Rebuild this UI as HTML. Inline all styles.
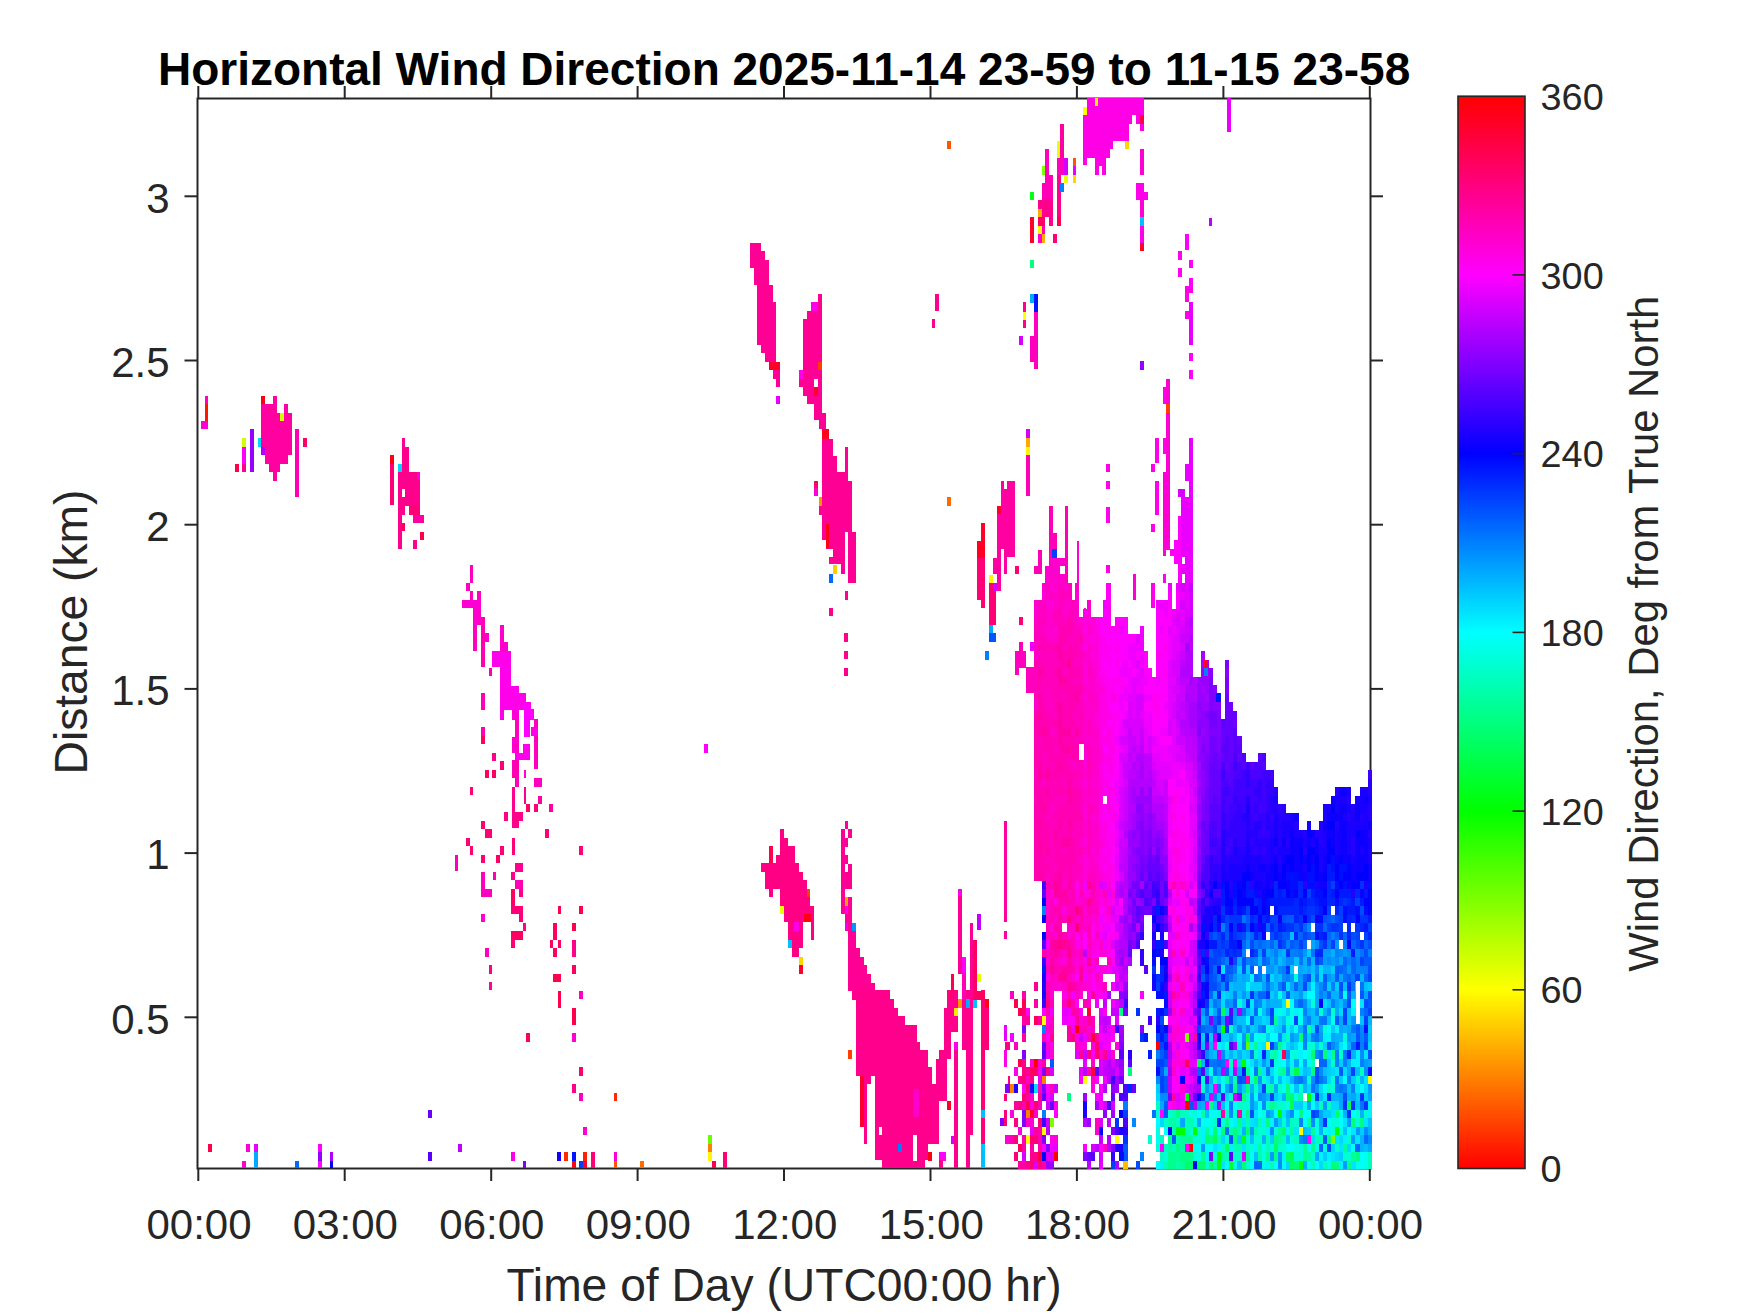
<!DOCTYPE html>
<html><head><meta charset="utf-8"><style>
html,body{margin:0;padding:0;background:#fff;}
svg{display:block;}
text{font-family:"Liberation Sans",Arial,sans-serif;fill:#262626;}
.tk{font-size:42px;}
.lb{font-size:46.2px;}
.ttl{font-size:46px;font-weight:bold;fill:#000;}
.cbt{font-size:37.8px;}
.cbl{font-size:41.8px;}
</style></head><body>
<svg width="1750" height="1313" viewBox="0 0 1750 1313">
<defs><linearGradient id="hsv" x1="0" y1="1" x2="0" y2="0">
<stop offset="0" stop-color="#ff0000"/><stop offset="0.16667" stop-color="#ffff00"/><stop offset="0.33333" stop-color="#00ff00"/><stop offset="0.5" stop-color="#00ffff"/><stop offset="0.66667" stop-color="#0000ff"/><stop offset="0.83333" stop-color="#ff00ff"/><stop offset="1" stop-color="#ff0000"/>
</linearGradient></defs>
<rect width="1750" height="1313" fill="#fff"/>
<rect x="197.5" y="98.5" width="1173.0" height="1070.0" fill="none" stroke="#262626" stroke-width="2"/>
<line x1="198.3" y1="1168.5" x2="198.3" y2="1181" stroke="#262626" stroke-width="2"/>
<line x1="198.3" y1="98.5" x2="198.3" y2="86" stroke="#262626" stroke-width="2"/>
<text x="199.0" y="1238.7" class="tk" text-anchor="middle">00:00</text>
<line x1="344.7" y1="1168.5" x2="344.7" y2="1181" stroke="#262626" stroke-width="2"/>
<line x1="344.7" y1="98.5" x2="344.7" y2="86" stroke="#262626" stroke-width="2"/>
<text x="345.4" y="1238.7" class="tk" text-anchor="middle">03:00</text>
<line x1="491.2" y1="1168.5" x2="491.2" y2="1181" stroke="#262626" stroke-width="2"/>
<line x1="491.2" y1="98.5" x2="491.2" y2="86" stroke="#262626" stroke-width="2"/>
<text x="491.9" y="1238.7" class="tk" text-anchor="middle">06:00</text>
<line x1="637.6" y1="1168.5" x2="637.6" y2="1181" stroke="#262626" stroke-width="2"/>
<line x1="637.6" y1="98.5" x2="637.6" y2="86" stroke="#262626" stroke-width="2"/>
<text x="638.3" y="1238.7" class="tk" text-anchor="middle">09:00</text>
<line x1="784.0" y1="1168.5" x2="784.0" y2="1181" stroke="#262626" stroke-width="2"/>
<line x1="784.0" y1="98.5" x2="784.0" y2="86" stroke="#262626" stroke-width="2"/>
<text x="784.8" y="1238.7" class="tk" text-anchor="middle">12:00</text>
<line x1="930.5" y1="1168.5" x2="930.5" y2="1181" stroke="#262626" stroke-width="2"/>
<line x1="930.5" y1="98.5" x2="930.5" y2="86" stroke="#262626" stroke-width="2"/>
<text x="931.2" y="1238.7" class="tk" text-anchor="middle">15:00</text>
<line x1="1076.9" y1="1168.5" x2="1076.9" y2="1181" stroke="#262626" stroke-width="2"/>
<line x1="1076.9" y1="98.5" x2="1076.9" y2="86" stroke="#262626" stroke-width="2"/>
<text x="1077.6" y="1238.7" class="tk" text-anchor="middle">18:00</text>
<line x1="1223.4" y1="1168.5" x2="1223.4" y2="1181" stroke="#262626" stroke-width="2"/>
<line x1="1223.4" y1="98.5" x2="1223.4" y2="86" stroke="#262626" stroke-width="2"/>
<text x="1224.1" y="1238.7" class="tk" text-anchor="middle">21:00</text>
<line x1="1369.8" y1="1168.5" x2="1369.8" y2="1181" stroke="#262626" stroke-width="2"/>
<line x1="1369.8" y1="98.5" x2="1369.8" y2="86" stroke="#262626" stroke-width="2"/>
<text x="1370.5" y="1238.7" class="tk" text-anchor="middle">00:00</text>
<line x1="184.5" y1="1017.3" x2="197.5" y2="1017.3" stroke="#262626" stroke-width="2"/>
<line x1="1370.5" y1="1017.3" x2="1383" y2="1017.3" stroke="#262626" stroke-width="2"/>
<text x="169.6" y="1033.5" class="tk" text-anchor="end">0.5</text>
<line x1="184.5" y1="853.1" x2="197.5" y2="853.1" stroke="#262626" stroke-width="2"/>
<line x1="1370.5" y1="853.1" x2="1383" y2="853.1" stroke="#262626" stroke-width="2"/>
<text x="169.6" y="869.3" class="tk" text-anchor="end">1</text>
<line x1="184.5" y1="688.9" x2="197.5" y2="688.9" stroke="#262626" stroke-width="2"/>
<line x1="1370.5" y1="688.9" x2="1383" y2="688.9" stroke="#262626" stroke-width="2"/>
<text x="169.6" y="705.1" class="tk" text-anchor="end">1.5</text>
<line x1="184.5" y1="524.7" x2="197.5" y2="524.7" stroke="#262626" stroke-width="2"/>
<line x1="1370.5" y1="524.7" x2="1383" y2="524.7" stroke="#262626" stroke-width="2"/>
<text x="169.6" y="540.9" class="tk" text-anchor="end">2</text>
<line x1="184.5" y1="360.5" x2="197.5" y2="360.5" stroke="#262626" stroke-width="2"/>
<line x1="1370.5" y1="360.5" x2="1383" y2="360.5" stroke="#262626" stroke-width="2"/>
<text x="169.6" y="376.7" class="tk" text-anchor="end">2.5</text>
<line x1="184.5" y1="196.3" x2="197.5" y2="196.3" stroke="#262626" stroke-width="2"/>
<line x1="1370.5" y1="196.3" x2="1383" y2="196.3" stroke="#262626" stroke-width="2"/>
<text x="169.6" y="212.5" class="tk" text-anchor="end">3</text>
<g shape-rendering="crispEdges">
<rect x="204.9" y="396.1" width="3" height="8.1" fill="#ff00bf"/>
<rect x="204.9" y="404.3" width="3" height="16.3" fill="#ff1500"/>
<rect x="200.9" y="420.6" width="6.9" height="7.9" fill="#ff00d4"/>
<rect x="235.1" y="464" width="4" height="7.9" fill="#ff004d"/>
<rect x="242" y="438.2" width="4" height="9.1" fill="#d4ff00"/>
<rect x="242" y="447.3" width="4" height="16.6" fill="#ff00ff"/>
<rect x="242" y="464" width="4" height="7.9" fill="#ff008c"/>
<rect x="250" y="429" width="4" height="42.9" fill="#9500ff"/>
<rect x="257.9" y="438.2" width="3.3" height="8.6" fill="#00d4ff"/>
<polygon points="261.1,396.1 264.8,396.1 264.8,404.3 273.2,404.3 273.2,396.1 277,396.1 277,413.2 283.9,413.2 283.9,404.3 287.9,404.3 287.9,413.2 291.5,413.2 291.5,454.8 287.9,454.8 287.9,463.7 280,463.7 280,471.9 277,471.9 277,480.8 273.2,480.8 273.2,471.9 269.1,471.9 269.1,463.7 265.1,463.7 265.1,454.8 261.1,454.8" fill="#ff00a1"/>
<rect x="261.1" y="396.1" width="3.7" height="8.1" fill="#ff0015"/>
<rect x="280.1" y="413.2" width="3.8" height="7.4" fill="#d4ff00"/>
<rect x="261.1" y="446.8" width="3.7" height="7.9" fill="#aa00ff"/>
<rect x="295.2" y="429" width="3.8" height="67.8" fill="#ff00b7"/>
<rect x="303.1" y="438.2" width="3.8" height="8.6" fill="#ff0062"/>
<rect x="390.1" y="455.2" width="3.9" height="8.5" fill="#ff0015"/>
<rect x="390.1" y="463.7" width="3.9" height="41.6" fill="#ff0077"/>
<rect x="397.9" y="463.7" width="4.1" height="8.5" fill="#00d4ff"/>
<rect x="402" y="438.1" width="3" height="34.1" fill="#ff008c"/>
<rect x="405" y="447.2" width="3.9" height="25.1" fill="#ff008c"/>
<rect x="397.9" y="472.3" width="21.7" height="33.6" fill="#ff008c"/>
<rect x="402" y="488.8" width="3" height="8" fill="#fff"/>
<rect x="416.9" y="472.3" width="2.7" height="7.5" fill="#ff00d4"/>
<rect x="397.9" y="505.9" width="4.1" height="42.7" fill="#ff008c"/>
<rect x="402" y="505.9" width="3" height="9.1" fill="#ff008c"/>
<rect x="402" y="522.9" width="3" height="8.5" fill="#ff0062"/>
<rect x="408.9" y="505.9" width="10.7" height="9.1" fill="#ff0077"/>
<rect x="413.2" y="514.9" width="10.7" height="8" fill="#ff00a1"/>
<rect x="420.1" y="532" width="3.7" height="7.5" fill="#ff004d"/>
<rect x="413.2" y="540" width="3.7" height="8.5" fill="#ff008c"/>
<rect x="470.1" y="565.1" width="2.9" height="17.6" fill="#ff00bf"/>
<rect x="466.1" y="582.9" width="4" height="7.9" fill="#ff00bf"/>
<rect x="470.1" y="590.8" width="2.9" height="8.8" fill="#ff00bf"/>
<rect x="477.4" y="590.8" width="3.4" height="8.8" fill="#ff00bf"/>
<rect x="461.9" y="599.6" width="18.9" height="8.2" fill="#ff00d4"/>
<rect x="473" y="607.8" width="7.8" height="17" fill="#ff00cc"/>
<rect x="473" y="624.8" width="4" height="25.8" fill="#ff00bf"/>
<rect x="480.8" y="617.2" width="4.1" height="49.7" fill="#ff00b3"/>
<rect x="484.9" y="632.9" width="3.8" height="8.8" fill="#ff00cc"/>
<rect x="489" y="668.1" width="3.1" height="7.5" fill="#ff00b3"/>
<rect x="500.3" y="624.8" width="3.8" height="95.3" fill="#ff00cc"/>
<rect x="504.1" y="641.7" width="4" height="9.4" fill="#ff00cc"/>
<rect x="492.1" y="651.2" width="18.9" height="15.7" fill="#ff00ea"/>
<rect x="500.3" y="666.9" width="10.7" height="42.7" fill="#ff00ea"/>
<rect x="511" y="685.7" width="7.9" height="23.9" fill="#ff00ea"/>
<rect x="518.9" y="693.3" width="7.2" height="16.3" fill="#ff00ea"/>
<rect x="526.1" y="702.1" width="4.4" height="18" fill="#ff00ea"/>
<rect x="530.5" y="710.2" width="3.5" height="9.8" fill="#ff00ea"/>
<rect x="480.8" y="693.3" width="4.1" height="16.3" fill="#ff00b3"/>
<rect x="511.6" y="709.6" width="7.3" height="10.4" fill="#ff00ea"/>
<rect x="523.5" y="709.6" width="2.5" height="10.4" fill="#ff00ea"/>
<rect x="480.8" y="700" width="4.1" height="9.4" fill="#ff00b7"/>
<rect x="500.3" y="700" width="25.8" height="9.4" fill="#ff00ea"/>
<rect x="500.3" y="709.4" width="3.8" height="9.4" fill="#ff00ea"/>
<rect x="511.6" y="709.4" width="7.3" height="9.4" fill="#ff00d4"/>
<rect x="515.4" y="718.9" width="3.5" height="17.6" fill="#ff00bf"/>
<rect x="511.6" y="736.5" width="7.3" height="16.3" fill="#ff00cc"/>
<rect x="523.5" y="702.5" width="6.9" height="16.3" fill="#ff00ff"/>
<rect x="526.1" y="709.4" width="7.5" height="9.4" fill="#ff00ff"/>
<rect x="523.5" y="718.9" width="6.9" height="17.6" fill="#ff00ff"/>
<rect x="534" y="718.9" width="4" height="50.3" fill="#ff00bf"/>
<rect x="530.5" y="727" width="7.5" height="9.4" fill="#ff00ea"/>
<rect x="522.9" y="744" width="6.9" height="16.3" fill="#ff00ea"/>
<rect x="515.4" y="752.8" width="14.5" height="7.5" fill="#ff00ea"/>
<rect x="511.6" y="760.3" width="7.3" height="17.6" fill="#ff00b3"/>
<rect x="515.4" y="777.9" width="3.5" height="8.8" fill="#ff00b7"/>
<rect x="523.5" y="769.8" width="2.5" height="8.2" fill="#ff00d4"/>
<rect x="534" y="777.9" width="7.8" height="8.8" fill="#ff00bf"/>
<rect x="511.6" y="786.7" width="3.8" height="41.5" fill="#ff008c"/>
<rect x="511.6" y="811.9" width="11.3" height="8.8" fill="#ff008c"/>
<rect x="511.6" y="820.7" width="7.3" height="7.5" fill="#ff008c"/>
<rect x="523.5" y="786.7" width="2.5" height="17" fill="#ff008c"/>
<rect x="526.1" y="803.7" width="3.8" height="8.2" fill="#ff0062"/>
<rect x="534" y="803.7" width="4" height="8.2" fill="#ff0077"/>
<rect x="538" y="795.5" width="3.8" height="8.2" fill="#ff00a1"/>
<rect x="549.3" y="803.7" width="3.8" height="8.2" fill="#ff00a1"/>
<rect x="470.1" y="786.7" width="2.9" height="8.2" fill="#ff0077"/>
<rect x="480.8" y="727" width="4.1" height="8.8" fill="#ff00b7"/>
<rect x="480.8" y="735.8" width="4.1" height="8.2" fill="#ff0062"/>
<rect x="492.1" y="752.8" width="3.8" height="8.2" fill="#ff008c"/>
<rect x="500.3" y="761" width="3.8" height="8.8" fill="#ff0077"/>
<rect x="485.2" y="769.8" width="3.5" height="8.2" fill="#ff0062"/>
<rect x="492.1" y="769.8" width="3.8" height="8.2" fill="#ff0062"/>
<rect x="504.1" y="811.9" width="4" height="8.8" fill="#ff008c"/>
<rect x="480.8" y="820.7" width="4.1" height="8.2" fill="#ff0077"/>
<rect x="485.2" y="828.8" width="6.9" height="8.8" fill="#ff0077"/>
<rect x="544.9" y="828.8" width="3.8" height="8.8" fill="#ff0077"/>
<rect x="466.1" y="837.6" width="4" height="8.2" fill="#ff0077"/>
<rect x="470.1" y="845.8" width="2.9" height="8.8" fill="#ff0077"/>
<rect x="511.6" y="837.6" width="3.8" height="17" fill="#ff0077"/>
<rect x="500.3" y="845.8" width="3.8" height="8.8" fill="#ff0077"/>
<rect x="496.3" y="854.6" width="4" height="8.2" fill="#ff0062"/>
<rect x="480.8" y="854.6" width="4.1" height="8.2" fill="#ff0077"/>
<rect x="455" y="854.6" width="3.1" height="10.4" fill="#ff00b7"/>
<rect x="515.4" y="862.8" width="7.5" height="2.3" fill="#ff0077"/>
<rect x="455.2" y="860" width="2.7" height="11.2" fill="#ff00b7"/>
<rect x="515.2" y="863.2" width="7.7" height="8.3" fill="#ff008c"/>
<rect x="481.3" y="872" width="3.5" height="24.8" fill="#ff00bf"/>
<rect x="484.8" y="888.8" width="7.2" height="8" fill="#ff00bf"/>
<rect x="492.5" y="872" width="3.5" height="8" fill="#ff00b7"/>
<rect x="511.2" y="872" width="3.7" height="8" fill="#ff008c"/>
<rect x="515.2" y="880" width="7.7" height="8.8" fill="#ff00b7"/>
<rect x="519.2" y="888.8" width="3.7" height="8" fill="#ff008c"/>
<rect x="511.2" y="888.8" width="3.7" height="25.6" fill="#ff0062"/>
<rect x="511.2" y="906.4" width="11.7" height="8" fill="#ff0077"/>
<rect x="519.2" y="914.4" width="3.7" height="8" fill="#ff0077"/>
<rect x="522.9" y="923.2" width="3.2" height="8" fill="#ff008c"/>
<rect x="511.2" y="931.2" width="11.7" height="8.8" fill="#ff0062"/>
<rect x="511.2" y="940" width="3.7" height="8" fill="#ff0077"/>
<rect x="481.3" y="914.4" width="3.5" height="8" fill="#ff00d4"/>
<rect x="485.1" y="948" width="3.7" height="8.8" fill="#ff00bf"/>
<rect x="489.3" y="964.8" width="2.7" height="8.8" fill="#ff008c"/>
<rect x="489.3" y="982.4" width="2.7" height="8" fill="#ff00a1"/>
<rect x="557.6" y="906.4" width="3.2" height="8" fill="#ff004d"/>
<rect x="579.2" y="906.4" width="3.5" height="8" fill="#ff004d"/>
<rect x="553.3" y="923.2" width="3.5" height="16.8" fill="#ff0062"/>
<rect x="549.6" y="940" width="3.7" height="8" fill="#ff0062"/>
<rect x="557.6" y="940" width="3.2" height="8" fill="#ff0062"/>
<rect x="553.3" y="948" width="3.5" height="8.8" fill="#ff0062"/>
<rect x="572.2" y="923.2" width="3.8" height="8" fill="#ff004d"/>
<rect x="572.2" y="940" width="3.8" height="16.8" fill="#ff008c"/>
<rect x="572.2" y="964.8" width="3.8" height="8.8" fill="#ff0062"/>
<rect x="553.3" y="973.9" width="7.5" height="8.5" fill="#ff004d"/>
<rect x="557.6" y="991.2" width="3.2" height="16.3" fill="#ff004d"/>
<rect x="579.2" y="991.2" width="3.5" height="7.7" fill="#ff00bf"/>
<rect x="572.2" y="1008" width="3.8" height="16.8" fill="#ff004d"/>
<rect x="526.4" y="1032.8" width="3.5" height="8.8" fill="#ff0062"/>
<rect x="572.2" y="1032.8" width="3.8" height="8.8" fill="#ff00d4"/>
<rect x="579.2" y="1067.2" width="3.5" height="2.9" fill="#ff0062"/>
<rect x="208.1" y="1143.9" width="3.7" height="8" fill="#ff004d"/>
<rect x="246.2" y="1143.9" width="3.7" height="8" fill="#ff00d4"/>
<rect x="254.2" y="1143.9" width="3.7" height="8" fill="#ea00ff"/>
<rect x="254.2" y="1151.9" width="3.7" height="16.5" fill="#00aaff"/>
<rect x="242.2" y="1160.9" width="3.7" height="7.5" fill="#ff00d4"/>
<rect x="295" y="1160.9" width="3.7" height="7.5" fill="#006aff"/>
<rect x="318.2" y="1143.9" width="3.7" height="8" fill="#ff00ff"/>
<rect x="318.2" y="1151.9" width="3.7" height="9" fill="#9500ff"/>
<rect x="318.2" y="1160.9" width="3.7" height="7.5" fill="#ff00ff"/>
<rect x="329.9" y="1151.9" width="3" height="9" fill="#aa00ff"/>
<rect x="329.9" y="1160.9" width="3" height="7.5" fill="#0000ff"/>
<rect x="427.8" y="1110" width="4" height="7.7" fill="#6a00ff"/>
<rect x="427.8" y="1151.9" width="4" height="9" fill="#5500ff"/>
<rect x="458.2" y="1143.9" width="3.7" height="8" fill="#bf00ff"/>
<rect x="579.1" y="1070" width="3.7" height="5.6" fill="#ff0077"/>
<rect x="572.1" y="1084.1" width="3.8" height="8.6" fill="#ff008c"/>
<rect x="579.1" y="1093.2" width="3.7" height="7.5" fill="#ff00bf"/>
<rect x="613.7" y="1093.2" width="3.2" height="7.5" fill="#ff2a00"/>
<rect x="583" y="1126.8" width="3.8" height="8" fill="#ff00d4"/>
<rect x="511.3" y="1151.9" width="3.5" height="9" fill="#ff00ea"/>
<rect x="522.8" y="1160.9" width="3.2" height="7.5" fill="#8000ff"/>
<rect x="557.2" y="1151.9" width="3.7" height="9" fill="#1500ff"/>
<rect x="564.1" y="1151.9" width="3.8" height="9" fill="#ff2a00"/>
<rect x="572.1" y="1151.9" width="3.8" height="9" fill="#0015ff"/>
<rect x="572.1" y="1160.9" width="3.8" height="7.5" fill="#ff0015"/>
<rect x="579.1" y="1160.9" width="3.7" height="7.5" fill="#0040ff"/>
<rect x="583" y="1151.9" width="3.8" height="9" fill="#ff2200"/>
<rect x="583" y="1160.9" width="3.8" height="7.5" fill="#ff002b"/>
<rect x="591.1" y="1151.9" width="3.7" height="16.5" fill="#ff0077"/>
<rect x="613.7" y="1151.9" width="3.2" height="9" fill="#ff00d4"/>
<rect x="613.7" y="1160.9" width="3.2" height="7.5" fill="#ff5500"/>
<rect x="640.1" y="1160.9" width="3.8" height="7.5" fill="#ff6a00"/>
<rect x="708.1" y="1135.3" width="3.8" height="8.6" fill="#6aff00"/>
<rect x="708.1" y="1143.9" width="3.8" height="8" fill="#ff8000"/>
<rect x="708.1" y="1151.9" width="3.8" height="9" fill="#fff700"/>
<rect x="711.9" y="1160.9" width="4" height="7.5" fill="#ff004d"/>
<rect x="723.3" y="1151.9" width="3.8" height="16.5" fill="#ff0077"/>
<polygon points="750.1,243.2 760.8,243.2 760.8,251.2 765.1,251.2 765.1,260.1 768.9,260.1 768.9,285 773.1,285 773.1,302.3 775.9,302.3 775.9,362.5 779.7,362.5 779.7,386.8 776.3,386.8 776.3,378.7 773.1,378.7 773.1,370.2 769.3,370.2 769.3,361.8 765.4,361.8 765.4,352.6 761.4,352.6 761.4,344.6 757.2,344.6 757.2,285 754.1,285 754.1,267.7 750.1,267.7" fill="#ff0095"/>
<rect x="769.3" y="361.8" width="10.4" height="8.5" fill="#ff002b"/>
<rect x="776.3" y="395.8" width="3.4" height="7.9" fill="#ea00ff"/>
<polygon points="803.1,319.2 807.3,319.2 807.3,311.1 811.1,311.1 811.1,302.3 818.2,302.3 818.2,294.2 821.7,294.2 821.7,413.2 825.6,413.2 825.6,419.9 813.9,419.9 813.9,403.7 807.3,403.7 807.3,395.6 803.1,395.6 803.1,386.8 799.2,386.8 799.2,369.9 803.1,369.9" fill="#ff0095"/>
<rect x="811.1" y="302.3" width="7" height="8.7" fill="#ff00ea"/>
<rect x="818.2" y="361.8" width="3.5" height="8.2" fill="#ff4000"/>
<rect x="799.2" y="369.9" width="3.9" height="8.7" fill="#ff00ea"/>
<rect x="813.9" y="378.7" width="4.2" height="8.5" fill="#fff"/>
<rect x="813.9" y="387.1" width="4.2" height="8.5" fill="#ff002b"/>
<polygon points="814.3,410 822,410 822,413.2 825.5,413.2 825.5,429.2 828.7,429.2 828.7,438.5 832.9,438.5 832.9,455.6 836.7,455.6 836.7,472.1 845.2,472.1 845.2,447.1 847.9,447.1 847.9,481.2 851.6,481.2 851.6,531.9 855.6,531.9 855.6,582.8 847.9,582.8 847.9,531.9 845.2,531.9 845.2,573.5 841.2,573.5 841.2,564.4 829.2,564.4 829.2,556.9 832.9,556.9 832.9,549.2 826,549.2 826,539.6 822,539.6 822,514.8 818.5,514.8 818.5,497.2 822,497.2 822,428.9 818.5,428.9 818.5,420.4 814.3,420.4" fill="#ff0095"/>
<rect x="822" y="429.2" width="6.7" height="9.3" fill="#ff0022"/>
<rect x="826" y="523.6" width="3.2" height="24.8" fill="#ff0015"/>
<rect x="814.3" y="481.2" width="3.7" height="7.2" fill="#ff0062"/>
<rect x="814.3" y="488.4" width="3.7" height="8" fill="#ff00d4"/>
<rect x="818.5" y="497.2" width="3.5" height="8.5" fill="#ff9500"/>
<rect x="832.9" y="565.2" width="4.3" height="8.3" fill="#ffcc00"/>
<rect x="829.2" y="574" width="3.7" height="8.8" fill="#006aff"/>
<rect x="845.2" y="591.1" width="2.7" height="8.5" fill="#ff008c"/>
<rect x="829.2" y="608.4" width="3.7" height="8" fill="#ff008c"/>
<polygon points="780.2,829.1 783.9,829.1 783.9,838 787.6,838 787.6,846.2 794.5,846.2 794.5,863.3 798.8,863.3 798.8,872.2 802.7,872.2 802.7,880.4 806.7,880.4 806.7,889.3 810.4,889.3 810.4,906.3 813.7,906.3 813.7,939.5 811,939.5 811,922.4 802.7,922.4 802.7,947.8 798.8,947.8 798.8,956.6 792.1,956.6 792.1,947.8 787.8,947.8 787.8,922.4 784.1,922.4 784.1,913.9 780.2,913.9 780.2,888.9 772.9,888.9 772.9,896.8 769.3,896.8 769.3,888.9 765.2,888.9 765.2,871.8 761.2,871.8 761.2,863.3 769.3,863.3 769.3,846.2 772.9,846.2 772.9,863.3 776.2,863.3 776.2,855.4 780.2,855.4" fill="#ff0084"/>
<rect x="769.3" y="846.2" width="3.7" height="17.1" fill="#ff004d"/>
<rect x="806.7" y="889.3" width="3.7" height="7.6" fill="#ff4000"/>
<rect x="780.2" y="906" width="3.7" height="7.9" fill="#eaff00"/>
<rect x="803.7" y="913.9" width="7.3" height="8.5" fill="#ff0015"/>
<rect x="793.9" y="922.4" width="5.5" height="8.5" fill="#ff00ea"/>
<rect x="788" y="940.1" width="4" height="7.7" fill="#00bfff"/>
<rect x="799.4" y="957.2" width="3.7" height="7.9" fill="#ffd400"/>
<rect x="799.4" y="965.1" width="3.7" height="8.8" fill="#ff0033"/>
<rect x="841.3" y="829.1" width="3.9" height="84.5" fill="#ff0095"/>
<rect x="845.2" y="820.9" width="2.8" height="8.2" fill="#ff0095"/>
<rect x="848" y="829.1" width="3.8" height="8.5" fill="#ff0095"/>
<rect x="845.2" y="837.5" width="2.8" height="9.2" fill="#ff0095"/>
<rect x="845.2" y="855.1" width="2.8" height="8.5" fill="#ff0095"/>
<rect x="845.2" y="872" width="6.6" height="16.9" fill="#ff0095"/>
<rect x="848" y="863.6" width="3.8" height="8.5" fill="#ff0095"/>
<rect x="845.2" y="896.7" width="6.6" height="33.8" fill="#ff0095"/>
<rect x="845.2" y="897.4" width="2.8" height="8.5" fill="#ffa200"/>
<rect x="845.2" y="905.8" width="2.8" height="7.7" fill="#ff00ff"/>
<rect x="845.2" y="922.7" width="2.8" height="7.7" fill="#ea00ff"/>
<rect x="851.8" y="923.2" width="3.8" height="8" fill="#0095ff"/>
<polygon points="848,930.5 855.6,930.5 855.6,948.1 859.9,948.1 859.9,957.3 863.8,957.3 863.8,965.4 867.3,965.4 867.3,974.2 871.1,974.2 871.1,982.6 875.1,982.6 875.1,991.1 889.9,991.1 889.9,999.9 852.3,999.9 852.3,991.1 848,991.1" fill="#ff0095"/>
<polygon points="852,990 890,990 890,999.2 893.8,999.2 893.8,1008 897.7,1008 897.7,1016.1 905.1,1016.1 905.1,1025.2 916.8,1025.2 916.8,1042.1 920.3,1042.1 920.3,1050.3 928,1050.3 928,1067.2 932.3,1067.2 932.3,1083.7 935.5,1083.7 935.5,1059 939.3,1059 939.3,1050.3 943.5,1050.3 943.5,1008 947,1008 947,990 953.8,990 953.8,1032.3 951.3,1032.3 951.3,1059 947,1059 947,1101.3 939.3,1101.3 939.3,1143.5 928,1143.5 928,1160.4 924.5,1160.4 924.5,1167.7 882.3,1167.7 882.3,1160.4 875.2,1160.4 875.2,1075.9 870.7,1075.9 870.7,1083.7 866.8,1083.7 866.8,1143.5 863.9,1143.5 863.9,1126.6 860.4,1126.6 860.4,1075.9 856.2,1075.9 856.2,999.2 852,999.2" fill="#ff008c"/>
<rect x="860.4" y="1075.9" width="3.5" height="50.7" fill="#ff002b"/>
<rect x="878.7" y="1126.6" width="3.2" height="8.5" fill="#fff"/>
<rect x="913.2" y="1135.1" width="3.9" height="25.4" fill="#fff"/>
<rect x="897.7" y="1144.2" width="3.9" height="7.7" fill="#0080ff"/>
<rect x="913.2" y="1088.6" width="5.6" height="28.2" fill="#ff00cc"/>
<rect x="953.8" y="990" width="4.5" height="177.7" fill="#ff008c"/>
<rect x="954.4" y="1008" width="3.9" height="8" fill="#ffea00"/>
<rect x="953.8" y="1032.3" width="4.5" height="9.9" fill="#fff"/>
<rect x="953.8" y="1042.1" width="4.5" height="7.7" fill="#ff00ea"/>
<rect x="958.3" y="999.2" width="3.9" height="8.9" fill="#ff9500"/>
<rect x="962.3" y="990" width="10.8" height="59.9" fill="#ff008c"/>
<rect x="966.1" y="1049.9" width="3.5" height="117.9" fill="#ff008c"/>
<rect x="969.6" y="1049.9" width="3.5" height="85.2" fill="#ff008c"/>
<rect x="966.1" y="999.2" width="3.5" height="8.9" fill="#00aaff"/>
<rect x="973.1" y="999.2" width="3.5" height="8.9" fill="#00bfff"/>
<rect x="981.3" y="990" width="3.8" height="177.7" fill="#ff0077"/>
<rect x="981.3" y="1109.7" width="3.8" height="8.5" fill="#00bfff"/>
<rect x="981.3" y="1144.2" width="3.8" height="23.5" fill="#00bfff"/>
<rect x="985.1" y="999.2" width="3.9" height="50.7" fill="#ff0077"/>
<rect x="985.1" y="999.2" width="3.9" height="8.9" fill="#ff0015"/>
<rect x="1004.1" y="1025.2" width="2.8" height="16.2" fill="#ea00ff"/>
<rect x="1004.1" y="1049.9" width="2.8" height="16.9" fill="#ff00ea"/>
<rect x="1007.6" y="1075.9" width="2.4" height="7.7" fill="#ff0077"/>
<rect x="1004.1" y="1093.5" width="2.8" height="7" fill="#ff0077"/>
<rect x="1004.1" y="1110.4" width="2.8" height="15.5" fill="#ff0077"/>
<rect x="1000.3" y="1118.2" width="3.8" height="7.7" fill="#8000ff"/>
<rect x="928" y="1152" width="3.5" height="8.5" fill="#ff0015"/>
<rect x="939.3" y="1152" width="7" height="8.5" fill="#ff00ff"/>
<rect x="939.3" y="1160.4" width="3.5" height="7.3" fill="#ff008c"/>
<rect x="947" y="1101.3" width="4.2" height="8.5" fill="#ff0022"/>
<rect x="951.3" y="1135.8" width="2.5" height="7.7" fill="#d500ff"/>
<rect x="847.7" y="1049.9" width="4.2" height="9.2" fill="#ff4000"/>
<polygon points="1087.2,97.5 1143.8,97.5 1143.8,131.4 1140.4,131.4 1140.4,123.9 1135.9,123.9 1135.9,115.1 1131.9,115.1 1131.9,123.9 1128.7,123.9 1128.7,140.9 1113,140.9 1113,148.8 1109.9,148.8 1109.9,157.8 1105.8,157.8 1105.8,174.8 1102.3,174.8 1102.3,166 1098.5,166 1098.5,174.8 1095.2,174.8 1095.2,157.8 1086.6,157.8 1086.6,165.4 1083.2,165.4 1083.2,106.9 1087.2,106.9" fill="#ff00e6"/>
<rect x="1095.4" y="97.5" width="2.8" height="8.8" fill="#ffea00"/>
<rect x="1083.2" y="106.9" width="3.4" height="8.2" fill="#ffff00"/>
<rect x="1124.9" y="140.9" width="3.8" height="7.9" fill="#ffd400"/>
<rect x="1140.4" y="115.1" width="3.4" height="8.8" fill="#ff004d"/>
<rect x="1140.4" y="149" width="3.4" height="25.8" fill="#ff00d4"/>
<rect x="1135.9" y="183" width="7.9" height="17" fill="#ff00ea"/>
<rect x="1143.8" y="191.8" width="4.1" height="8.2" fill="#ff00ea"/>
<rect x="1140.4" y="199.9" width="3.4" height="17" fill="#ff00d4"/>
<rect x="1140.4" y="216.9" width="3.4" height="9.4" fill="#00bfff"/>
<rect x="1140.4" y="226.3" width="3.4" height="17" fill="#ff00ea"/>
<rect x="1140.4" y="243.3" width="3.4" height="7.5" fill="#ff002b"/>
<rect x="1060.2" y="123.9" width="3.5" height="33.9" fill="#ff00a1"/>
<rect x="1057.1" y="140.9" width="3.1" height="17" fill="#eaff00"/>
<rect x="1057.1" y="157.8" width="10.7" height="17" fill="#ff00bf"/>
<rect x="1064" y="157.8" width="3.8" height="17" fill="#d500ff"/>
<rect x="1064" y="174.8" width="3.8" height="8.2" fill="#eaff00"/>
<rect x="1057.1" y="174.8" width="3.4" height="50.9" fill="#ff008c"/>
<rect x="1060.2" y="183" width="3.8" height="8.8" fill="#0080ff"/>
<rect x="1057.1" y="216.9" width="3.4" height="8.8" fill="#ff004d"/>
<rect x="1072.5" y="157.8" width="3.4" height="8.2" fill="#ff5500"/>
<rect x="1072.5" y="166" width="3.4" height="8.8" fill="#ea00ff"/>
<rect x="1072.5" y="174.8" width="3.4" height="8.2" fill="#ffd400"/>
<rect x="1045.4" y="149" width="3.5" height="25.8" fill="#ff00bf"/>
<rect x="1042" y="166" width="3.1" height="8.8" fill="#80ff00"/>
<rect x="1045.4" y="174.8" width="7.5" height="8.2" fill="#ff00b7"/>
<rect x="1042" y="183" width="10.9" height="25.8" fill="#ff00b7"/>
<rect x="1038.2" y="199.9" width="14.7" height="17" fill="#ff008c"/>
<rect x="1038.2" y="208.7" width="3.8" height="8.2" fill="#ffaa00"/>
<rect x="1049.2" y="216.9" width="3.8" height="8.8" fill="#ff008c"/>
<rect x="1038.2" y="216.9" width="6.9" height="8.8" fill="#ff0062"/>
<rect x="1038.2" y="225.7" width="3.8" height="8.2" fill="#fff700"/>
<rect x="1038.2" y="233.9" width="3.8" height="8.8" fill="#ff00d4"/>
<rect x="1042" y="233.9" width="3.1" height="8.8" fill="#ffaa00"/>
<rect x="1042" y="225.7" width="3.1" height="8.2" fill="#ff00b7"/>
<rect x="1030.1" y="216.9" width="3.8" height="25.8" fill="#ff002b"/>
<rect x="1030.1" y="191.8" width="3.8" height="8.2" fill="#00ff15"/>
<rect x="1053.3" y="233.9" width="3.4" height="8.8" fill="#ff0077"/>
<rect x="1227" y="98" width="4" height="33.7" fill="#ea00ff"/>
<rect x="1208.7" y="217.5" width="3.5" height="8.2" fill="#bf00ff"/>
<rect x="1185" y="234.1" width="4" height="16.3" fill="#ff00ff"/>
<rect x="1178.3" y="250.9" width="3.7" height="8.7" fill="#ff00ea"/>
<rect x="1188.9" y="260.3" width="4.2" height="7.9" fill="#ff00ff"/>
<rect x="1178.3" y="268.3" width="3.7" height="8.7" fill="#ff00ea"/>
<rect x="1188.9" y="277.7" width="4.2" height="7.9" fill="#ff00ff"/>
<rect x="1185" y="285.6" width="8.2" height="7.4" fill="#ff00ea"/>
<rect x="1185" y="293" width="4" height="8.7" fill="#ff00ea"/>
<rect x="1188.9" y="302.4" width="4.2" height="42.1" fill="#ea00ff"/>
<rect x="1185" y="310.8" width="4" height="8.2" fill="#ff00ea"/>
<rect x="1188.9" y="352.9" width="4.2" height="8.2" fill="#ff00ff"/>
<rect x="1188.9" y="369.8" width="4.2" height="8.7" fill="#ff00ff"/>
<rect x="1139.9" y="361.1" width="4" height="8.7" fill="#9500ff"/>
<rect x="1165.9" y="379.2" width="4.2" height="40.8" fill="#ff00d4"/>
<rect x="1162.7" y="387.1" width="4" height="16.8" fill="#ff00d4"/>
<rect x="1165.9" y="403.9" width="4.2" height="9.2" fill="#ff5500"/>
<rect x="1166.2" y="380" width="4" height="170.3" fill="#ff00d4"/>
<rect x="1163.3" y="387.9" width="3" height="15.8" fill="#ff00ea"/>
<rect x="1166.2" y="403.8" width="4" height="8.9" fill="#ff4000"/>
<rect x="1163.3" y="438.4" width="3" height="15.8" fill="#ff00ea"/>
<rect x="1155.3" y="438.4" width="3.6" height="24.8" fill="#ff00ea"/>
<rect x="1151.4" y="464.2" width="3.6" height="7.9" fill="#ff00ea"/>
<rect x="1155.3" y="481" width="3.6" height="33.7" fill="#ff00ea"/>
<rect x="1151.4" y="523.6" width="3.6" height="7.9" fill="#ff00ea"/>
<rect x="1163.3" y="472.1" width="3" height="84.2" fill="#ff00d4"/>
<rect x="1170.2" y="549.3" width="6.9" height="6.9" fill="#ff00ea"/>
<rect x="1189" y="438.4" width="4" height="201.6" fill="#ea00ff"/>
<rect x="1185.4" y="464.2" width="3.6" height="16.8" fill="#ea00ff"/>
<rect x="1178.1" y="488.9" width="6.9" height="7.9" fill="#d500ff"/>
<rect x="1181.1" y="496.8" width="7.9" height="143.2" fill="#ea00ff"/>
<rect x="1178.1" y="515.6" width="3" height="124.4" fill="#ff00ff"/>
<rect x="1174.2" y="540.4" width="4" height="23.8" fill="#ff00ff"/>
<rect x="1181.5" y="557.2" width="3.6" height="6.9" fill="#fff"/>
<rect x="1181.5" y="574.1" width="3.6" height="8.9" fill="#fff"/>
<rect x="1181.5" y="590.9" width="3.6" height="8.9" fill="#fff"/>
<rect x="1105.8" y="464.2" width="4" height="7.9" fill="#ff00ea"/>
<rect x="1105.8" y="481" width="4" height="7.9" fill="#ff00ea"/>
<rect x="1105.8" y="506.7" width="4" height="15.8" fill="#ff00ea"/>
<rect x="1105.8" y="565.1" width="4" height="7.9" fill="#ff00ea"/>
<rect x="1105.8" y="583" width="4" height="16.8" fill="#ff00ea"/>
<rect x="1132.6" y="574.1" width="3.4" height="25.7" fill="#ff00d4"/>
<rect x="1151.4" y="583" width="3.6" height="24.8" fill="#ff00ea"/>
<rect x="1163.3" y="574.1" width="3" height="8.9" fill="#ff00ff"/>
<rect x="946.9" y="497.1" width="4.1" height="8.5" fill="#ff6a00"/>
<rect x="1026.2" y="429.3" width="3.7" height="9.1" fill="#d500ff"/>
<rect x="1026.2" y="438.4" width="3.7" height="8.5" fill="#ffaa00"/>
<rect x="1026.2" y="446.9" width="3.7" height="8.5" fill="#fff700"/>
<rect x="1026.2" y="455.3" width="3.7" height="41.1" fill="#ff00b7"/>
<polygon points="1000.6,481.1 1004,481.1 1004,489.1 1007.4,489.1 1007.4,481.1 1015,481.1 1015,556.6 1007.4,556.6 1007.4,573.7 1004,573.7 1004,548.6 1000.6,548.6 1000.6,590.9 996.7,590.9 996.7,573.7 992.6,573.7 992.6,557.7 996.7,557.7 996.7,506.3 1000.6,506.3" fill="#ff00a1"/>
<rect x="996.7" y="506.3" width="3.9" height="8" fill="#ff002b"/>
<rect x="981.1" y="523.4" width="3.9" height="18.3" fill="#ff002b"/>
<rect x="977" y="540.6" width="8" height="17.1" fill="#ff0022"/>
<rect x="977" y="557.7" width="8" height="42.3" fill="#ff0077"/>
<rect x="981.1" y="600" width="3.9" height="8" fill="#ff0077"/>
<rect x="989.1" y="582.9" width="6.9" height="42.3" fill="#ff0077"/>
<rect x="989.1" y="574.9" width="3.4" height="8" fill="#fff700"/>
<rect x="992.6" y="582.9" width="4.1" height="8" fill="#d500ff"/>
<rect x="989.1" y="625.1" width="3.4" height="9.1" fill="#00aaff"/>
<rect x="989.1" y="633.1" width="6.9" height="9.1" fill="#0055ff"/>
<rect x="985.3" y="651" width="3.7" height="8.5" fill="#0080ff"/>
<rect x="1015.4" y="565.7" width="3.4" height="8" fill="#ff0077"/>
<rect x="1018.9" y="617.1" width="3.9" height="8" fill="#ff0077"/>
<rect x="1049.3" y="506.3" width="3.9" height="51.4" fill="#ff00b7"/>
<rect x="1053.1" y="532.6" width="3.4" height="25.1" fill="#ff00b7"/>
<rect x="1052" y="548.6" width="4.6" height="9.1" fill="#0040ff"/>
<rect x="1064.6" y="506.3" width="3.4" height="76.6" fill="#ff00b7"/>
<rect x="1076.7" y="540.6" width="2.7" height="59.4" fill="#ff00d4"/>
<rect x="1038.3" y="549.7" width="3.4" height="24" fill="#ff00b7"/>
<rect x="1034.2" y="565.7" width="4.1" height="8" fill="#ff00b7"/>
<rect x="1045.1" y="565.7" width="4.1" height="17.1" fill="#ff00b7"/>
<polygon points="1034.2,600 1041.7,600 1041.7,590.9 1045.1,590.9 1045.1,565.7 1049.3,565.7 1049.3,557.7 1064.6,557.7 1064.6,582.9 1072.1,582.9 1072.1,600 1079.4,600 1079.4,617.1 1100,617.1 1100,700.1 1034.2,700.1" fill="#ff00cc"/>
<rect x="1060" y="565.7" width="4.6" height="8" fill="#fff"/>
<rect x="1041.7" y="582.9" width="3.4" height="8" fill="#bf00ff"/>
<rect x="1018.9" y="642.3" width="3.9" height="8.7" fill="#ff00b7"/>
<rect x="1030.3" y="642.3" width="3.9" height="8.7" fill="#ea00ff"/>
<rect x="1015.4" y="651" width="11" height="16.5" fill="#ff00bf"/>
<rect x="1015.4" y="667.4" width="3.4" height="8" fill="#ff00bf"/>
<rect x="1026.2" y="667.4" width="8" height="25.1" fill="#ff00bf"/>
<rect x="1083.5" y="608" width="2.7" height="9.1" fill="#ff00d4"/>
<rect x="1087.4" y="600" width="3.4" height="8" fill="#ff00ea"/>
<rect x="958.3" y="888.8" width="3.7" height="84.8" fill="#ff0095"/>
<rect x="958.3" y="888.8" width="3.7" height="6.9" fill="#ff00ea"/>
<rect x="962" y="957.1" width="3.7" height="43" fill="#ff00b7"/>
<rect x="962" y="957.1" width="3.7" height="16" fill="#ff00ff"/>
<rect x="970.3" y="922.9" width="2.9" height="77.1" fill="#ff0095"/>
<rect x="973.2" y="940" width="3.7" height="60.1" fill="#ff0062"/>
<rect x="976.9" y="914.4" width="3.7" height="16" fill="#bf00ff"/>
<rect x="976.9" y="974.1" width="3.7" height="7.5" fill="#eaff00"/>
<rect x="951.3" y="974.1" width="2.7" height="25.9" fill="#ff004d"/>
<rect x="947.6" y="991.2" width="6.4" height="8.9" fill="#ff0077"/>
<rect x="976.9" y="991.2" width="8" height="8.9" fill="#ff0062"/>
<rect x="1004.1" y="860" width="2.7" height="62.4" fill="#ff00a1"/>
<rect x="1004.1" y="930.9" width="2.7" height="8.5" fill="#ff00a1"/>
<rect x="844.4" y="633.1" width="3.9" height="8.5" fill="#ff008c"/>
<rect x="844.4" y="651.4" width="3.9" height="7.5" fill="#ff008c"/>
<rect x="844.4" y="668.1" width="3.9" height="7.8" fill="#ff008c"/>
<rect x="703.9" y="743.9" width="4.1" height="8.7" fill="#ff00ff"/>
<rect x="578.7" y="846.3" width="4.1" height="8.5" fill="#ff0077"/>
<rect x="946.7" y="140.9" width="4.4" height="8.1" fill="#ff5500"/>
<rect x="1030.2" y="260" width="3.9" height="7.9" fill="#00ff80"/>
<rect x="935.2" y="294.3" width="3.7" height="16.7" fill="#ff008c"/>
<rect x="932" y="318.9" width="3.2" height="8.6" fill="#ff008c"/>
<rect x="1030.2" y="294.3" width="3.9" height="8.6" fill="#00aaff"/>
<rect x="1034.1" y="294.3" width="4.2" height="17.2" fill="#0015ff"/>
<rect x="1034.1" y="311.5" width="4.2" height="57.7" fill="#ff00bf"/>
<rect x="1030.2" y="336" width="3.9" height="25.8" fill="#ff00bf"/>
<rect x="1022.8" y="301.7" width="3.2" height="25.8" fill="#ff008c"/>
<rect x="1022.8" y="311.5" width="3.2" height="8.6" fill="#ffff00"/>
<rect x="1018.7" y="336" width="4.2" height="8.6" fill="#d500ff"/>
<rect x="1003.7" y="821" width="3.1" height="39" fill="#ff00a1"/>
<path fill="#ff00cc" d="M1033.9 600.4h4.1v25.5h-4.1zM1033.9 642.8h4.1v17h-4.1zM1033.9 702.2h4.1v8.5h-4.1zM1038 600.4h4.1v17h-4.1zM1042 583.4h4.1v8.5h-4.1zM1042 625.8h4.1v8.5h-4.1zM1042 778.7h4.1v8.5h-4.1zM1046.1 591.9h4.1v8.5h-4.1zM1046.1 608.9h4.1v34h-4.1zM1046.1 889h4.1v25.5h-4.1zM1046.1 1024.9h4.1v8.5h-4.1zM1046.1 1041.9h4.1v8.5h-4.1zM1050.2 608.9h4.1v34h-4.1zM1050.2 702.2h4.1v8.5h-4.1zM1050.2 727.7h4.1v8.5h-4.1zM1050.2 804.1h4.1v8.5h-4.1zM1050.2 982.4h4.1v8.5h-4.1zM1050.2 1016.4h4.1v8.5h-4.1zM1054.2 583.4h4.1v25.5h-4.1zM1054.2 634.3h4.1v8.5h-4.1zM1054.2 914.5h4.1v8.5h-4.1zM1054.2 931.5h4.1v8.5h-4.1zM1054.2 973.9h4.1v17h-4.1zM1058.3 957h4.1v8.5h-4.1zM1062.4 583.4h4.1v8.5h-4.1zM1062.4 600.4h4.1v17h-4.1zM1062.4 880.5h4.1v8.5h-4.1zM1062.4 948.5h4.1v8.5h-4.1zM1062.4 982.4h4.1v8.5h-4.1zM1066.5 600.4h4.1v8.5h-4.1zM1066.5 923h4.1v8.5h-4.1zM1070.5 761.7h4.1v8.5h-4.1zM1070.5 957h4.1v8.5h-4.1zM1074.6 583.4h4.1v8.5h-4.1zM1074.6 600.4h4.1v25.5h-4.1zM1074.6 914.5h4.1v8.5h-4.1zM1074.6 948.5h4.1v8.5h-4.1zM1078.7 625.8h4.1v8.5h-4.1zM1078.7 642.8h4.1v8.5h-4.1zM1078.7 778.7h4.1v8.5h-4.1zM1078.7 838.1h4.1v8.5h-4.1zM1078.7 855.1h4.1v8.5h-4.1zM1078.7 872h4.1v8.5h-4.1zM1078.7 931.5h4.1v8.5h-4.1zM1078.7 957h4.1v8.5h-4.1zM1078.7 982.4h4.1v8.5h-4.1zM1082.7 651.3h4.1v8.5h-4.1zM1082.7 685.3h4.1v8.5h-4.1zM1082.7 702.2h4.1v50.9h-4.1zM1082.7 770.2h4.1v8.5h-4.1zM1082.7 787.2h4.1v17h-4.1zM1082.7 821.1h4.1v17h-4.1zM1082.7 846.6h4.1v8.5h-4.1zM1082.7 914.5h4.1v17h-4.1zM1082.7 982.4h4.1v8.5h-4.1zM1082.7 1016.4h4.1v8.5h-4.1zM1086.8 600.4h4.1v8.5h-4.1zM1086.8 625.8h4.1v8.5h-4.1zM1086.8 642.8h4.1v25.5h-4.1zM1086.8 676.8h4.1v17h-4.1zM1086.8 702.2h4.1v17h-4.1zM1086.8 736.2h4.1v8.5h-4.1zM1086.8 795.6h4.1v8.5h-4.1zM1086.8 855.1h4.1v17h-4.1zM1086.8 914.5h4.1v8.5h-4.1zM1086.8 948.5h4.1v8.5h-4.1zM1086.8 965.4h4.1v8.5h-4.1zM1086.8 999.4h4.1v8.5h-4.1zM1090.9 668.3h4.1v110.4h-4.1zM1090.9 787.2h4.1v17h-4.1zM1090.9 821.1h4.1v25.5h-4.1zM1090.9 855.1h4.1v17h-4.1zM1090.9 906h4.1v8.5h-4.1zM1090.9 1058.8h4.1v8.5h-4.1zM1090.9 1075.8h4.1v8.5h-4.1zM1094.9 693.8h4.1v17h-4.1zM1094.9 727.7h4.1v127.4h-4.1zM1094.9 863.6h4.1v42.4h-4.1zM1094.9 1126.8h4.1v8.5h-4.1zM1099 940h4.1v8.5h-4.1zM1099 1050.3h4.1v8.5h-4.1zM1107.2 906h4.1v8.5h-4.1zM1111.2 1050.3h4.1v8.5h-4.1zM1172.3 1007.9h4.1v8.5h-4.1zM1172.3 1033.4h4.1v8.5h-4.1zM1172.3 1067.3h4.1v8.5h-4.1zM1176.3 914.5h4.1v8.5h-4.1zM1176.3 931.5h4.1v8.5h-4.1zM1176.3 990.9h4.1v8.5h-4.1zM1180.4 880.5h4.1v8.5h-4.1zM1180.4 948.5h4.1v8.5h-4.1zM1180.4 1007.9h4.1v8.5h-4.1zM1025.8 1075.8h4.1v8.5h-4.1zM1029.8 1092.8h4.1v8.5h-4.1zM1033.9 1109.8h4.1v8.5h-4.1z"/>
<path fill="#ff00bf" d="M1033.9 625.8h4.1v17h-4.1zM1033.9 668.3h4.1v17h-4.1zM1033.9 693.8h4.1v8.5h-4.1zM1033.9 770.2h4.1v8.5h-4.1zM1033.9 795.6h4.1v8.5h-4.1zM1038 617.4h4.1v25.5h-4.1zM1038 651.3h4.1v8.5h-4.1zM1038 685.3h4.1v8.5h-4.1zM1038 736.2h4.1v8.5h-4.1zM1042 600.4h4.1v25.5h-4.1zM1042 642.8h4.1v25.5h-4.1zM1042 676.8h4.1v25.5h-4.1zM1042 753.2h4.1v17h-4.1zM1046.1 583.4h4.1v8.5h-4.1zM1046.1 651.3h4.1v25.5h-4.1zM1046.1 685.3h4.1v25.5h-4.1zM1046.1 753.2h4.1v8.5h-4.1zM1046.1 812.6h4.1v8.5h-4.1zM1046.1 855.1h4.1v8.5h-4.1zM1046.1 872h4.1v8.5h-4.1zM1046.1 914.5h4.1v8.5h-4.1zM1046.1 931.5h4.1v8.5h-4.1zM1046.1 948.5h4.1v8.5h-4.1zM1046.1 965.4h4.1v8.5h-4.1zM1050.2 591.9h4.1v8.5h-4.1zM1050.2 642.8h4.1v59.4h-4.1zM1050.2 710.7h4.1v8.5h-4.1zM1050.2 761.7h4.1v8.5h-4.1zM1050.2 787.2h4.1v8.5h-4.1zM1050.2 812.6h4.1v76.4h-4.1zM1050.2 897.5h4.1v17h-4.1zM1050.2 931.5h4.1v8.5h-4.1zM1050.2 973.9h4.1v8.5h-4.1zM1050.2 999.4h4.1v8.5h-4.1zM1050.2 1024.9h4.1v8.5h-4.1zM1050.2 1084.3h4.1v8.5h-4.1zM1054.2 608.9h4.1v17h-4.1zM1054.2 651.3h4.1v17h-4.1zM1054.2 676.8h4.1v8.5h-4.1zM1054.2 693.8h4.1v8.5h-4.1zM1054.2 710.7h4.1v8.5h-4.1zM1054.2 727.7h4.1v25.5h-4.1zM1054.2 778.7h4.1v8.5h-4.1zM1054.2 795.6h4.1v17h-4.1zM1054.2 821.1h4.1v8.5h-4.1zM1054.2 863.6h4.1v8.5h-4.1zM1054.2 957h4.1v8.5h-4.1zM1058.3 583.4h4.1v25.5h-4.1zM1058.3 617.4h4.1v8.5h-4.1zM1058.3 685.3h4.1v8.5h-4.1zM1058.3 795.6h4.1v8.5h-4.1zM1058.3 829.6h4.1v8.5h-4.1zM1062.4 591.9h4.1v8.5h-4.1zM1062.4 617.4h4.1v8.5h-4.1zM1062.4 642.8h4.1v8.5h-4.1zM1062.4 668.3h4.1v8.5h-4.1zM1062.4 693.8h4.1v8.5h-4.1zM1062.4 778.7h4.1v8.5h-4.1zM1062.4 795.6h4.1v8.5h-4.1zM1062.4 821.1h4.1v8.5h-4.1zM1062.4 846.6h4.1v8.5h-4.1zM1062.4 872h4.1v8.5h-4.1zM1062.4 914.5h4.1v8.5h-4.1zM1062.4 999.4h4.1v8.5h-4.1zM1066.5 583.4h4.1v17h-4.1zM1066.5 608.9h4.1v8.5h-4.1zM1066.5 634.3h4.1v8.5h-4.1zM1066.5 753.2h4.1v17h-4.1zM1066.5 889h4.1v8.5h-4.1zM1066.5 906h4.1v8.5h-4.1zM1066.5 973.9h4.1v8.5h-4.1zM1066.5 990.9h4.1v8.5h-4.1zM1070.5 600.4h4.1v50.9h-4.1zM1070.5 659.8h4.1v8.5h-4.1zM1070.5 676.8h4.1v8.5h-4.1zM1070.5 710.7h4.1v8.5h-4.1zM1070.5 727.7h4.1v8.5h-4.1zM1070.5 778.7h4.1v8.5h-4.1zM1070.5 829.6h4.1v8.5h-4.1zM1070.5 863.6h4.1v25.5h-4.1zM1070.5 897.5h4.1v8.5h-4.1zM1070.5 931.5h4.1v25.5h-4.1zM1074.6 625.8h4.1v17h-4.1zM1074.6 651.3h4.1v17h-4.1zM1074.6 676.8h4.1v8.5h-4.1zM1074.6 702.2h4.1v25.5h-4.1zM1074.6 736.2h4.1v8.5h-4.1zM1074.6 761.7h4.1v25.5h-4.1zM1074.6 821.1h4.1v59.4h-4.1zM1074.6 982.4h4.1v17h-4.1zM1074.6 1041.9h4.1v8.5h-4.1zM1078.7 651.3h4.1v34h-4.1zM1078.7 693.8h4.1v17h-4.1zM1078.7 719.2h4.1v25.5h-4.1zM1078.7 753.2h4.1v25.5h-4.1zM1078.7 787.2h4.1v25.5h-4.1zM1078.7 821.1h4.1v17h-4.1zM1078.7 863.6h4.1v8.5h-4.1zM1078.7 880.5h4.1v8.5h-4.1zM1078.7 923h4.1v8.5h-4.1zM1078.7 1024.9h4.1v8.5h-4.1zM1082.7 897.5h4.1v8.5h-4.1zM1086.8 668.3h4.1v8.5h-4.1zM1086.8 693.8h4.1v8.5h-4.1zM1086.8 719.2h4.1v17h-4.1zM1086.8 744.7h4.1v17h-4.1zM1086.8 770.2h4.1v25.5h-4.1zM1086.8 804.1h4.1v50.9h-4.1zM1086.8 872h4.1v8.5h-4.1zM1086.8 940h4.1v8.5h-4.1zM1090.9 804.1h4.1v8.5h-4.1zM1090.9 872h4.1v17h-4.1zM1090.9 897.5h4.1v8.5h-4.1zM1090.9 1016.4h4.1v17h-4.1zM1094.9 906h4.1v8.5h-4.1zM1094.9 931.5h4.1v8.5h-4.1zM1094.9 973.9h4.1v8.5h-4.1zM1094.9 1118.3h4.1v8.5h-4.1zM1103.1 889h4.1v8.5h-4.1zM1103.1 982.4h4.1v8.5h-4.1zM1103.1 1143.7h4.1v8.5h-4.1zM1107.2 957h4.1v8.5h-4.1zM1180.4 982.4h4.1v8.5h-4.1zM1009.5 990.9h4.1v8.5h-4.1zM1013.5 1041.9h4.1v8.5h-4.1zM1021.7 1135.2h4.1v8.5h-4.1zM1025.8 1118.3h4.1v8.5h-4.1zM1038 1101.3h4.1v8.5h-4.1zM1038 1084.3h4.1v8.5h-4.1z"/>
<path fill="#ff00b3" d="M1033.9 659.8h4.1v8.5h-4.1zM1033.9 685.3h4.1v8.5h-4.1zM1033.9 719.2h4.1v50.9h-4.1zM1033.9 778.7h4.1v17h-4.1zM1033.9 804.1h4.1v76.4h-4.1zM1038 642.8h4.1v8.5h-4.1zM1038 659.8h4.1v8.5h-4.1zM1038 676.8h4.1v8.5h-4.1zM1038 702.2h4.1v8.5h-4.1zM1038 719.2h4.1v8.5h-4.1zM1038 744.7h4.1v17h-4.1zM1038 778.7h4.1v17h-4.1zM1038 804.1h4.1v17h-4.1zM1038 829.6h4.1v8.5h-4.1zM1038 855.1h4.1v17h-4.1zM1042 634.3h4.1v8.5h-4.1zM1042 668.3h4.1v8.5h-4.1zM1042 702.2h4.1v25.5h-4.1zM1042 736.2h4.1v17h-4.1zM1042 770.2h4.1v8.5h-4.1zM1042 787.2h4.1v17h-4.1zM1042 812.6h4.1v67.9h-4.1zM1046.1 642.8h4.1v8.5h-4.1zM1046.1 676.8h4.1v8.5h-4.1zM1046.1 710.7h4.1v17h-4.1zM1046.1 736.2h4.1v17h-4.1zM1046.1 761.7h4.1v8.5h-4.1zM1046.1 778.7h4.1v8.5h-4.1zM1046.1 795.6h4.1v17h-4.1zM1046.1 821.1h4.1v25.5h-4.1zM1046.1 863.6h4.1v8.5h-4.1zM1046.1 880.5h4.1v8.5h-4.1zM1046.1 923h4.1v8.5h-4.1zM1046.1 982.4h4.1v8.5h-4.1zM1046.1 1007.9h4.1v8.5h-4.1zM1050.2 719.2h4.1v8.5h-4.1zM1050.2 736.2h4.1v25.5h-4.1zM1050.2 770.2h4.1v17h-4.1zM1050.2 795.6h4.1v8.5h-4.1zM1050.2 914.5h4.1v8.5h-4.1zM1050.2 948.5h4.1v8.5h-4.1zM1054.2 642.8h4.1v8.5h-4.1zM1054.2 668.3h4.1v8.5h-4.1zM1054.2 685.3h4.1v8.5h-4.1zM1054.2 702.2h4.1v8.5h-4.1zM1054.2 719.2h4.1v8.5h-4.1zM1054.2 753.2h4.1v25.5h-4.1zM1054.2 787.2h4.1v8.5h-4.1zM1054.2 812.6h4.1v8.5h-4.1zM1054.2 838.1h4.1v25.5h-4.1zM1054.2 872h4.1v8.5h-4.1zM1054.2 906h4.1v8.5h-4.1zM1054.2 965.4h4.1v8.5h-4.1zM1058.3 608.9h4.1v8.5h-4.1zM1058.3 625.8h4.1v17h-4.1zM1058.3 659.8h4.1v8.5h-4.1zM1058.3 693.8h4.1v8.5h-4.1zM1058.3 744.7h4.1v17h-4.1zM1058.3 770.2h4.1v25.5h-4.1zM1058.3 804.1h4.1v17h-4.1zM1058.3 838.1h4.1v34h-4.1zM1058.3 897.5h4.1v17h-4.1zM1058.3 923h4.1v8.5h-4.1zM1058.3 948.5h4.1v8.5h-4.1zM1058.3 965.4h4.1v8.5h-4.1zM1062.4 625.8h4.1v17h-4.1zM1062.4 651.3h4.1v17h-4.1zM1062.4 685.3h4.1v8.5h-4.1zM1062.4 702.2h4.1v25.5h-4.1zM1062.4 736.2h4.1v8.5h-4.1zM1062.4 753.2h4.1v25.5h-4.1zM1062.4 787.2h4.1v8.5h-4.1zM1062.4 804.1h4.1v17h-4.1zM1062.4 829.6h4.1v8.5h-4.1zM1062.4 855.1h4.1v17h-4.1zM1062.4 897.5h4.1v8.5h-4.1zM1062.4 931.5h4.1v8.5h-4.1zM1066.5 617.4h4.1v17h-4.1zM1066.5 642.8h4.1v17h-4.1zM1066.5 668.3h4.1v59.4h-4.1zM1066.5 736.2h4.1v8.5h-4.1zM1066.5 770.2h4.1v8.5h-4.1zM1066.5 804.1h4.1v17h-4.1zM1066.5 829.6h4.1v8.5h-4.1zM1066.5 846.6h4.1v34h-4.1zM1066.5 897.5h4.1v8.5h-4.1zM1070.5 651.3h4.1v8.5h-4.1zM1070.5 668.3h4.1v8.5h-4.1zM1070.5 685.3h4.1v25.5h-4.1zM1070.5 719.2h4.1v8.5h-4.1zM1070.5 736.2h4.1v25.5h-4.1zM1070.5 770.2h4.1v8.5h-4.1zM1070.5 787.2h4.1v42.4h-4.1zM1070.5 838.1h4.1v25.5h-4.1zM1070.5 889h4.1v8.5h-4.1zM1070.5 906h4.1v17h-4.1zM1070.5 965.4h4.1v8.5h-4.1zM1070.5 999.4h4.1v8.5h-4.1zM1074.6 642.8h4.1v8.5h-4.1zM1074.6 668.3h4.1v8.5h-4.1zM1074.6 685.3h4.1v8.5h-4.1zM1074.6 744.7h4.1v17h-4.1zM1074.6 787.2h4.1v34h-4.1zM1074.6 1007.9h4.1v8.5h-4.1zM1078.7 634.3h4.1v8.5h-4.1zM1078.7 685.3h4.1v8.5h-4.1zM1078.7 710.7h4.1v8.5h-4.1zM1078.7 744.7h4.1v8.5h-4.1zM1078.7 812.6h4.1v8.5h-4.1zM1078.7 846.6h4.1v8.5h-4.1zM1078.7 889h4.1v8.5h-4.1zM1078.7 914.5h4.1v8.5h-4.1zM1078.7 948.5h4.1v8.5h-4.1zM1082.7 999.4h4.1v8.5h-4.1zM1082.7 1024.9h4.1v8.5h-4.1zM1086.8 761.7h4.1v8.5h-4.1zM1086.8 906h4.1v8.5h-4.1zM1086.8 923h4.1v17h-4.1zM1086.8 1033.4h4.1v8.5h-4.1zM1086.8 1067.3h4.1v8.5h-4.1zM1090.9 889h4.1v8.5h-4.1zM1094.9 957h4.1v8.5h-4.1zM1172.3 880.5h4.1v8.5h-4.1zM1172.3 948.5h4.1v8.5h-4.1zM1176.3 973.9h4.1v8.5h-4.1zM1009.5 1135.2h4.1v8.5h-4.1zM1021.7 1101.3h4.1v8.5h-4.1zM1038 1135.2h4.1v8.5h-4.1zM1038 1126.8h4.1v8.5h-4.1z"/>
<path fill="#ff00a6" d="M1033.9 710.7h4.1v8.5h-4.1zM1038 668.3h4.1v8.5h-4.1zM1038 693.8h4.1v8.5h-4.1zM1038 710.7h4.1v8.5h-4.1zM1038 727.7h4.1v8.5h-4.1zM1038 761.7h4.1v17h-4.1zM1038 795.6h4.1v8.5h-4.1zM1038 821.1h4.1v8.5h-4.1zM1038 838.1h4.1v17h-4.1zM1038 872h4.1v8.5h-4.1zM1042 727.7h4.1v8.5h-4.1zM1042 804.1h4.1v8.5h-4.1zM1042 948.5h4.1v8.5h-4.1zM1042 1033.4h4.1v8.5h-4.1zM1042 1058.8h4.1v8.5h-4.1zM1042 1160.7h4.1v8.5h-4.1zM1046.1 727.7h4.1v8.5h-4.1zM1046.1 770.2h4.1v8.5h-4.1zM1046.1 787.2h4.1v8.5h-4.1zM1046.1 846.6h4.1v8.5h-4.1zM1050.2 940h4.1v8.5h-4.1zM1050.2 957h4.1v8.5h-4.1zM1054.2 829.6h4.1v8.5h-4.1zM1054.2 889h4.1v8.5h-4.1zM1054.2 923h4.1v8.5h-4.1zM1054.2 948.5h4.1v8.5h-4.1zM1058.3 642.8h4.1v17h-4.1zM1058.3 668.3h4.1v17h-4.1zM1058.3 702.2h4.1v42.5h-4.1zM1058.3 761.7h4.1v8.5h-4.1zM1058.3 821.1h4.1v8.5h-4.1zM1058.3 872h4.1v25.5h-4.1zM1058.3 914.5h4.1v8.5h-4.1zM1058.3 931.5h4.1v8.5h-4.1zM1062.4 676.8h4.1v8.5h-4.1zM1062.4 727.7h4.1v8.5h-4.1zM1062.4 744.7h4.1v8.5h-4.1zM1062.4 838.1h4.1v8.5h-4.1zM1062.4 889h4.1v8.5h-4.1zM1062.4 965.4h4.1v8.5h-4.1zM1066.5 727.7h4.1v8.5h-4.1zM1066.5 744.7h4.1v8.5h-4.1zM1066.5 778.7h4.1v25.5h-4.1zM1066.5 821.1h4.1v8.5h-4.1zM1066.5 838.1h4.1v8.5h-4.1zM1066.5 880.5h4.1v8.5h-4.1zM1066.5 940h4.1v8.5h-4.1zM1066.5 957h4.1v17h-4.1zM1066.5 1033.4h4.1v8.5h-4.1zM1070.5 982.4h4.1v8.5h-4.1zM1070.5 1007.9h4.1v8.5h-4.1zM1074.6 693.8h4.1v8.5h-4.1zM1074.6 727.7h4.1v8.5h-4.1zM1078.7 906h4.1v8.5h-4.1zM1078.7 965.4h4.1v8.5h-4.1zM1094.9 1033.4h4.1v8.5h-4.1zM1172.3 990.9h4.1v8.5h-4.1zM1172.3 1092.8h4.1v8.5h-4.1zM1192.6 1033.4h4.1v8.5h-4.1zM1221.1 1109.8h4.1v8.5h-4.1zM1237.4 1109.8h4.1v8.5h-4.1zM1245.5 1075.8h4.1v8.5h-4.1zM1021.7 1160.7h4.1v8.5h-4.1zM1021.7 1143.7h4.1v8.5h-4.1zM1021.7 1016.4h4.1v8.5h-4.1zM1021.7 990.9h4.1v8.5h-4.1zM1029.8 1143.7h4.1v8.5h-4.1zM1033.9 999.4h4.1v8.5h-4.1zM1038 1143.7h4.1v8.5h-4.1zM1038 1016.4h4.1v8.5h-4.1z"/>
<path fill="#ff00d9" d="M1042 591.9h4.1v8.5h-4.1zM1046.1 600.4h4.1v8.5h-4.1zM1046.1 957h4.1v8.5h-4.1zM1050.2 583.4h4.1v8.5h-4.1zM1050.2 600.4h4.1v8.5h-4.1zM1050.2 889h4.1v8.5h-4.1zM1050.2 990.9h4.1v8.5h-4.1zM1050.2 1050.3h4.1v8.5h-4.1zM1054.2 625.8h4.1v8.5h-4.1zM1054.2 1135.2h4.1v8.5h-4.1zM1058.3 982.4h4.1v8.5h-4.1zM1062.4 906h4.1v8.5h-4.1zM1062.4 957h4.1v8.5h-4.1zM1066.5 931.5h4.1v8.5h-4.1zM1070.5 923h4.1v8.5h-4.1zM1070.5 973.9h4.1v8.5h-4.1zM1074.6 591.9h4.1v8.5h-4.1zM1074.6 897.5h4.1v8.5h-4.1zM1074.6 957h4.1v17h-4.1zM1078.7 617.4h4.1v8.5h-4.1zM1078.7 897.5h4.1v8.5h-4.1zM1078.7 990.9h4.1v8.5h-4.1zM1078.7 1016.4h4.1v8.5h-4.1zM1082.7 617.4h4.1v8.5h-4.1zM1082.7 634.3h4.1v8.5h-4.1zM1082.7 659.8h4.1v25.5h-4.1zM1082.7 693.8h4.1v8.5h-4.1zM1082.7 753.2h4.1v17h-4.1zM1082.7 778.7h4.1v8.5h-4.1zM1082.7 804.1h4.1v17h-4.1zM1082.7 838.1h4.1v8.5h-4.1zM1082.7 855.1h4.1v25.5h-4.1zM1082.7 906h4.1v8.5h-4.1zM1082.7 1041.9h4.1v8.5h-4.1zM1086.8 608.9h4.1v17h-4.1zM1086.8 634.3h4.1v8.5h-4.1zM1086.8 889h4.1v8.5h-4.1zM1086.8 973.9h4.1v17h-4.1zM1086.8 1024.9h4.1v8.5h-4.1zM1090.9 617.4h4.1v17h-4.1zM1090.9 642.8h4.1v8.5h-4.1zM1090.9 659.8h4.1v8.5h-4.1zM1090.9 778.7h4.1v8.5h-4.1zM1090.9 812.6h4.1v8.5h-4.1zM1090.9 846.6h4.1v8.5h-4.1zM1090.9 914.5h4.1v8.5h-4.1zM1090.9 940h4.1v8.5h-4.1zM1090.9 965.4h4.1v8.5h-4.1zM1090.9 1041.9h4.1v8.5h-4.1zM1094.9 634.3h4.1v59.4h-4.1zM1094.9 710.7h4.1v17h-4.1zM1094.9 855.1h4.1v8.5h-4.1zM1094.9 914.5h4.1v17h-4.1zM1099 685.3h4.1v8.5h-4.1zM1099 744.7h4.1v17h-4.1zM1099 787.2h4.1v8.5h-4.1zM1099 838.1h4.1v8.5h-4.1zM1099 872h4.1v8.5h-4.1zM1099 889h4.1v8.5h-4.1zM1099 948.5h4.1v8.5h-4.1zM1099 965.4h4.1v25.5h-4.1zM1103.1 897.5h4.1v8.5h-4.1zM1103.1 948.5h4.1v8.5h-4.1zM1107.2 880.5h4.1v8.5h-4.1zM1111.2 889h4.1v8.5h-4.1zM1115.3 1041.9h4.1v8.5h-4.1zM1172.3 1024.9h4.1v8.5h-4.1zM1172.3 1058.8h4.1v8.5h-4.1zM1176.3 889h4.1v8.5h-4.1zM1176.3 1024.9h4.1v8.5h-4.1zM1176.3 1050.3h4.1v8.5h-4.1zM1180.4 1058.8h4.1v8.5h-4.1zM1180.4 1084.3h4.1v8.5h-4.1zM1184.5 965.4h4.1v17h-4.1zM1184.5 990.9h4.1v8.5h-4.1zM1188.5 914.5h4.1v8.5h-4.1zM1005.4 1135.2h4.1v8.5h-4.1zM1017.6 1126.8h4.1v8.5h-4.1zM1029.8 1118.3h4.1v8.5h-4.1zM1029.8 1058.8h4.1v8.5h-4.1z"/>
<path fill="#4000ff" d="M1042 880.5h4.1v8.5h-4.1zM1042 957h4.1v8.5h-4.1zM1042 999.4h4.1v8.5h-4.1zM1042 1118.3h4.1v8.5h-4.1zM1111.2 1075.8h4.1v8.5h-4.1zM1123.4 999.4h4.1v8.5h-4.1zM1147.8 1016.4h4.1v8.5h-4.1zM1151.9 880.5h4.1v17h-4.1zM1151.9 923h4.1v8.5h-4.1zM1156 914.5h4.1v8.5h-4.1zM1204.8 948.5h4.1v8.5h-4.1zM1208.9 838.1h4.1v8.5h-4.1zM1213 838.1h4.1v8.5h-4.1zM1213 855.1h4.1v8.5h-4.1zM1217 846.6h4.1v17h-4.1zM1221.1 770.2h4.1v8.5h-4.1zM1221.1 787.2h4.1v25.5h-4.1zM1225.2 787.2h4.1v8.5h-4.1zM1225.2 812.6h4.1v17h-4.1zM1225.2 846.6h4.1v8.5h-4.1zM1229.2 804.1h4.1v17h-4.1zM1229.2 838.1h4.1v8.5h-4.1zM1233.3 761.7h4.1v8.5h-4.1zM1233.3 778.7h4.1v17h-4.1zM1233.3 804.1h4.1v8.5h-4.1zM1237.4 778.7h4.1v25.5h-4.1zM1241.5 770.2h4.1v42.5h-4.1zM1245.5 761.7h4.1v8.5h-4.1zM1245.5 787.2h4.1v8.5h-4.1zM1249.6 778.7h4.1v34h-4.1zM1253.7 778.7h4.1v8.5h-4.1zM1253.7 795.6h4.1v8.5h-4.1zM1253.7 812.6h4.1v8.5h-4.1zM1257.7 804.1h4.1v8.5h-4.1zM1261.8 770.2h4.1v42.5h-4.1zM1265.9 770.2h4.1v8.5h-4.1zM1270 770.2h4.1v8.5h-4.1zM1367.6 770.2h4.1v8.5h-4.1z"/>
<path fill="#6600ff" d="M1042 889h4.1v8.5h-4.1zM1042 1041.9h4.1v8.5h-4.1zM1050.2 1101.3h4.1v8.5h-4.1zM1086.8 1152.2h4.1v8.5h-4.1zM1111.2 1092.8h4.1v8.5h-4.1zM1127.5 948.5h4.1v8.5h-4.1zM1131.6 1084.3h4.1v8.5h-4.1zM1135.6 889h4.1v8.5h-4.1zM1135.6 914.5h4.1v8.5h-4.1zM1135.6 931.5h4.1v8.5h-4.1zM1139.7 872h4.1v8.5h-4.1zM1139.7 906h4.1v8.5h-4.1zM1139.7 923h4.1v8.5h-4.1zM1143.8 889h4.1v8.5h-4.1zM1147.8 855.1h4.1v17h-4.1zM1147.8 889h4.1v8.5h-4.1zM1151.9 863.6h4.1v17h-4.1zM1156 855.1h4.1v17h-4.1zM1160.1 872h4.1v8.5h-4.1zM1160.1 897.5h4.1v8.5h-4.1zM1192.6 1092.8h4.1v8.5h-4.1zM1196.7 897.5h4.1v8.5h-4.1zM1196.7 923h4.1v8.5h-4.1zM1196.7 957h4.1v8.5h-4.1zM1196.7 982.4h4.1v8.5h-4.1zM1200.8 821.1h4.1v8.5h-4.1zM1200.8 846.6h4.1v17h-4.1zM1200.8 889h4.1v8.5h-4.1zM1204.8 829.6h4.1v25.5h-4.1zM1208.9 761.7h4.1v42.5h-4.1zM1213 753.2h4.1v42.5h-4.1zM1217 770.2h4.1v34h-4.1zM1221.1 727.7h4.1v17h-4.1zM1221.1 753.2h4.1v8.5h-4.1zM1225.2 710.7h4.1v25.5h-4.1zM1225.2 761.7h4.1v8.5h-4.1zM1229.2 710.7h4.1v50.9h-4.1zM1233.3 710.7h4.1v8.5h-4.1zM1237.4 736.2h4.1v8.5h-4.1zM1237.4 753.2h4.1v8.5h-4.1z"/>
<path fill="#0000ff" d="M1042 897.5h4.1v8.5h-4.1zM1042 914.5h4.1v8.5h-4.1zM1042 931.5h4.1v8.5h-4.1zM1042 1152.2h4.1v8.5h-4.1zM1099 1126.8h4.1v8.5h-4.1zM1119.4 1109.8h4.1v8.5h-4.1zM1151.9 948.5h4.1v8.5h-4.1zM1156 923h4.1v8.5h-4.1zM1156 1024.9h4.1v8.5h-4.1zM1160.1 957h4.1v8.5h-4.1zM1164.1 957h4.1v8.5h-4.1zM1168.2 1126.8h4.1v8.5h-4.1zM1180.4 1075.8h4.1v8.5h-4.1zM1192.6 1160.7h4.1v8.5h-4.1zM1204.8 940h4.1v8.5h-4.1zM1204.8 965.4h4.1v8.5h-4.1zM1208.9 923h4.1v8.5h-4.1zM1213 880.5h4.1v8.5h-4.1zM1217 914.5h4.1v8.5h-4.1zM1225.2 880.5h4.1v25.5h-4.1zM1229.2 897.5h4.1v8.5h-4.1zM1229.2 923h4.1v8.5h-4.1zM1237.4 889h4.1v17h-4.1zM1237.4 940h4.1v8.5h-4.1zM1241.5 872h4.1v17h-4.1zM1241.5 897.5h4.1v8.5h-4.1zM1245.5 872h4.1v8.5h-4.1zM1245.5 897.5h4.1v8.5h-4.1zM1249.6 897.5h4.1v17h-4.1zM1249.6 923h4.1v8.5h-4.1zM1253.7 906h4.1v8.5h-4.1zM1261.8 906h4.1v8.5h-4.1zM1265.9 889h4.1v8.5h-4.1zM1270 889h4.1v8.5h-4.1zM1274 863.6h4.1v17h-4.1zM1278.1 880.5h4.1v8.5h-4.1zM1282.2 863.6h4.1v25.5h-4.1zM1286.2 855.1h4.1v8.5h-4.1zM1286.2 889h4.1v8.5h-4.1zM1290.3 855.1h4.1v17h-4.1zM1298.4 846.6h4.1v17h-4.1zM1302.5 889h4.1v8.5h-4.1zM1302.5 914.5h4.1v8.5h-4.1zM1306.6 829.6h4.1v8.5h-4.1zM1306.6 846.6h4.1v25.5h-4.1zM1310.7 846.6h4.1v8.5h-4.1zM1314.7 855.1h4.1v25.5h-4.1zM1318.8 999.4h4.1v8.5h-4.1zM1322.9 872h4.1v8.5h-4.1zM1322.9 889h4.1v8.5h-4.1zM1322.9 906h4.1v8.5h-4.1zM1326.9 821.1h4.1v8.5h-4.1zM1326.9 838.1h4.1v25.5h-4.1zM1331 804.1h4.1v8.5h-4.1zM1331 821.1h4.1v8.5h-4.1zM1331 846.6h4.1v8.5h-4.1zM1335.1 863.6h4.1v17h-4.1zM1335.1 889h4.1v8.5h-4.1zM1339.1 855.1h4.1v8.5h-4.1zM1339.1 880.5h4.1v8.5h-4.1zM1343.2 872h4.1v8.5h-4.1zM1347.3 863.6h4.1v17h-4.1zM1347.3 940h4.1v8.5h-4.1zM1351.4 880.5h4.1v8.5h-4.1zM1355.4 829.6h4.1v8.5h-4.1zM1355.4 872h4.1v17h-4.1zM1355.4 914.5h4.1v8.5h-4.1zM1359.5 872h4.1v8.5h-4.1zM1363.6 863.6h4.1v17h-4.1zM1363.6 897.5h4.1v8.5h-4.1zM1367.6 889h4.1v25.5h-4.1z"/>
<path fill="#0080ff" d="M1042 906h4.1v8.5h-4.1zM1042 1024.9h4.1v8.5h-4.1zM1042 1109.8h4.1v8.5h-4.1zM1123.4 1101.3h4.1v8.5h-4.1zM1139.7 1152.2h4.1v8.5h-4.1zM1156 1050.3h4.1v8.5h-4.1zM1213 1092.8h4.1v8.5h-4.1zM1217 973.9h4.1v8.5h-4.1zM1221.1 923h4.1v8.5h-4.1zM1225.2 957h4.1v8.5h-4.1zM1229.2 1101.3h4.1v8.5h-4.1zM1233.3 990.9h4.1v8.5h-4.1zM1241.5 948.5h4.1v8.5h-4.1zM1241.5 1007.9h4.1v8.5h-4.1zM1245.5 931.5h4.1v8.5h-4.1zM1245.5 957h4.1v8.5h-4.1zM1253.7 957h4.1v8.5h-4.1zM1253.7 999.4h4.1v8.5h-4.1zM1265.9 940h4.1v8.5h-4.1zM1274 948.5h4.1v8.5h-4.1zM1278.1 982.4h4.1v8.5h-4.1zM1282.2 965.4h4.1v8.5h-4.1zM1286.2 940h4.1v8.5h-4.1zM1286.2 973.9h4.1v8.5h-4.1zM1290.3 948.5h4.1v8.5h-4.1zM1294.4 948.5h4.1v8.5h-4.1zM1294.4 1075.8h4.1v8.5h-4.1zM1298.4 1118.3h4.1v8.5h-4.1zM1302.5 1007.9h4.1v8.5h-4.1zM1302.5 1033.4h4.1v17h-4.1zM1306.6 1016.4h4.1v8.5h-4.1zM1310.7 1033.4h4.1v8.5h-4.1zM1318.8 990.9h4.1v8.5h-4.1zM1331 931.5h4.1v8.5h-4.1zM1331 982.4h4.1v8.5h-4.1zM1331 999.4h4.1v8.5h-4.1zM1335.1 948.5h4.1v8.5h-4.1zM1335.1 1050.3h4.1v17h-4.1zM1335.1 1084.3h4.1v8.5h-4.1zM1343.2 940h4.1v8.5h-4.1zM1343.2 1058.8h4.1v8.5h-4.1zM1343.2 1084.3h4.1v8.5h-4.1zM1347.3 957h4.1v8.5h-4.1zM1347.3 1075.8h4.1v8.5h-4.1zM1351.4 973.9h4.1v8.5h-4.1zM1351.4 1084.3h4.1v8.5h-4.1zM1355.4 957h4.1v17h-4.1zM1355.4 1016.4h4.1v8.5h-4.1zM1359.5 965.4h4.1v8.5h-4.1zM1359.5 1007.9h4.1v8.5h-4.1zM1359.5 1033.4h4.1v17h-4.1zM1359.5 1058.8h4.1v8.5h-4.1zM1363.6 965.4h4.1v8.5h-4.1zM1367.6 948.5h4.1v8.5h-4.1z"/>
<path fill="#5900ff" d="M1042 940h4.1v8.5h-4.1zM1042 1050.3h4.1v8.5h-4.1zM1042 1092.8h4.1v8.5h-4.1zM1090.9 1152.2h4.1v8.5h-4.1zM1094.9 1067.3h4.1v8.5h-4.1zM1119.4 1050.3h4.1v8.5h-4.1zM1127.5 1058.8h4.1v8.5h-4.1zM1135.6 906h4.1v8.5h-4.1zM1143.8 880.5h4.1v8.5h-4.1zM1143.8 965.4h4.1v8.5h-4.1zM1147.8 872h4.1v8.5h-4.1zM1147.8 897.5h4.1v8.5h-4.1zM1156 872h4.1v8.5h-4.1zM1196.7 906h4.1v8.5h-4.1zM1196.7 1007.9h4.1v8.5h-4.1zM1200.8 863.6h4.1v8.5h-4.1zM1200.8 1067.3h4.1v8.5h-4.1zM1204.8 897.5h4.1v8.5h-4.1zM1204.8 1075.8h4.1v8.5h-4.1zM1208.9 804.1h4.1v17h-4.1zM1213 795.6h4.1v25.5h-4.1zM1217 804.1h4.1v34h-4.1zM1221.1 719.2h4.1v8.5h-4.1zM1221.1 744.7h4.1v8.5h-4.1zM1221.1 1092.8h4.1v8.5h-4.1zM1225.2 736.2h4.1v25.5h-4.1zM1225.2 770.2h4.1v8.5h-4.1zM1229.2 761.7h4.1v25.5h-4.1zM1229.2 1007.9h4.1v8.5h-4.1zM1229.2 1041.9h4.1v8.5h-4.1zM1229.2 1152.2h4.1v8.5h-4.1zM1233.3 727.7h4.1v25.5h-4.1zM1237.4 744.7h4.1v8.5h-4.1zM1241.5 761.7h4.1v8.5h-4.1zM1249.6 761.7h4.1v8.5h-4.1zM1257.7 753.2h4.1v8.5h-4.1zM1261.8 761.7h4.1v8.5h-4.1z"/>
<path fill="#0019ff" d="M1042 965.4h4.1v8.5h-4.1zM1143.8 1033.4h4.1v8.5h-4.1zM1147.8 1050.3h4.1v8.5h-4.1zM1156 906h4.1v8.5h-4.1zM1156 940h4.1v8.5h-4.1zM1156 1007.9h4.1v8.5h-4.1zM1160.1 940h4.1v8.5h-4.1zM1160.1 1033.4h4.1v8.5h-4.1zM1164.1 990.9h4.1v8.5h-4.1zM1164.1 1041.9h4.1v8.5h-4.1zM1200.8 990.9h4.1v8.5h-4.1zM1204.8 1033.4h4.1v8.5h-4.1zM1208.9 940h4.1v8.5h-4.1zM1213 940h4.1v8.5h-4.1zM1221.1 889h4.1v17h-4.1zM1229.2 931.5h4.1v17h-4.1zM1233.3 897.5h4.1v8.5h-4.1zM1233.3 940h4.1v8.5h-4.1zM1241.5 906h4.1v8.5h-4.1zM1241.5 923h4.1v8.5h-4.1zM1241.5 1067.3h4.1v8.5h-4.1zM1245.5 880.5h4.1v17h-4.1zM1249.6 889h4.1v8.5h-4.1zM1253.7 923h4.1v8.5h-4.1zM1257.7 897.5h4.1v17h-4.1zM1265.9 914.5h4.1v8.5h-4.1zM1270 897.5h4.1v8.5h-4.1zM1274 897.5h4.1v8.5h-4.1zM1278.1 889h4.1v17h-4.1zM1278.1 923h4.1v8.5h-4.1zM1282.2 897.5h4.1v8.5h-4.1zM1286.2 897.5h4.1v8.5h-4.1zM1290.3 897.5h4.1v8.5h-4.1zM1298.4 906h4.1v8.5h-4.1zM1302.5 897.5h4.1v8.5h-4.1zM1310.7 889h4.1v8.5h-4.1zM1314.7 897.5h4.1v8.5h-4.1zM1318.8 906h4.1v8.5h-4.1zM1322.9 931.5h4.1v8.5h-4.1zM1326.9 863.6h4.1v17h-4.1zM1331 872h4.1v8.5h-4.1zM1331 889h4.1v8.5h-4.1zM1339.1 889h4.1v8.5h-4.1zM1343.2 889h4.1v8.5h-4.1zM1347.3 889h4.1v8.5h-4.1zM1347.3 906h4.1v8.5h-4.1zM1351.4 897.5h4.1v17h-4.1zM1351.4 948.5h4.1v8.5h-4.1zM1355.4 1041.9h4.1v8.5h-4.1zM1359.5 897.5h4.1v8.5h-4.1zM1363.6 889h4.1v8.5h-4.1zM1363.6 923h4.1v8.5h-4.1zM1367.6 914.5h4.1v8.5h-4.1z"/>
<path fill="#1900ff" d="M1042 973.9h4.1v8.5h-4.1zM1042 990.9h4.1v8.5h-4.1zM1082.7 1109.8h4.1v8.5h-4.1zM1119.4 1126.8h4.1v8.5h-4.1zM1119.4 1143.7h4.1v8.5h-4.1zM1151.9 931.5h4.1v8.5h-4.1zM1151.9 982.4h4.1v8.5h-4.1zM1160.1 931.5h4.1v8.5h-4.1zM1164.1 965.4h4.1v8.5h-4.1zM1196.7 940h4.1v8.5h-4.1zM1200.8 914.5h4.1v8.5h-4.1zM1200.8 940h4.1v8.5h-4.1zM1200.8 999.4h4.1v8.5h-4.1zM1204.8 906h4.1v25.5h-4.1zM1208.9 906h4.1v17h-4.1zM1217 906h4.1v8.5h-4.1zM1217 923h4.1v8.5h-4.1zM1221.1 863.6h4.1v17h-4.1zM1225.2 872h4.1v8.5h-4.1zM1229.2 863.6h4.1v17h-4.1zM1229.2 889h4.1v8.5h-4.1zM1233.3 846.6h4.1v8.5h-4.1zM1233.3 863.6h4.1v17h-4.1zM1237.4 863.6h4.1v17h-4.1zM1237.4 923h4.1v8.5h-4.1zM1241.5 855.1h4.1v17h-4.1zM1245.5 804.1h4.1v8.5h-4.1zM1245.5 838.1h4.1v25.5h-4.1zM1249.6 855.1h4.1v17h-4.1zM1253.7 855.1h4.1v25.5h-4.1zM1257.7 855.1h4.1v8.5h-4.1zM1257.7 872h4.1v8.5h-4.1zM1257.7 889h4.1v8.5h-4.1zM1257.7 923h4.1v8.5h-4.1zM1261.8 872h4.1v17h-4.1zM1265.9 863.6h4.1v8.5h-4.1zM1270 838.1h4.1v25.5h-4.1zM1270 880.5h4.1v8.5h-4.1zM1274 795.6h4.1v8.5h-4.1zM1274 812.6h4.1v25.5h-4.1zM1278.1 846.6h4.1v8.5h-4.1zM1278.1 863.6h4.1v8.5h-4.1zM1282.2 821.1h4.1v17h-4.1zM1282.2 846.6h4.1v8.5h-4.1zM1286.2 821.1h4.1v17h-4.1zM1286.2 846.6h4.1v8.5h-4.1zM1290.3 812.8h4.1v16.8h-4.1zM1294.4 829.6h4.1v8.5h-4.1zM1298.4 829.6h4.1v8.5h-4.1zM1302.5 838.1h4.1v8.5h-4.1zM1302.5 863.6h4.1v8.5h-4.1zM1306.6 821.3h4.1v8.3h-4.1zM1310.7 838.1h4.1v8.5h-4.1zM1314.7 880.5h4.1v8.5h-4.1zM1318.8 846.6h4.1v25.5h-4.1zM1322.9 804.3h4.1v16.8h-4.1zM1322.9 829.6h4.1v25.5h-4.1zM1326.9 804.3h4.1v8.3h-4.1zM1335.1 795.6h4.1v17h-4.1zM1335.1 829.6h4.1v25.5h-4.1zM1339.1 795.6h4.1v8.5h-4.1zM1343.2 795.6h4.1v8.5h-4.1zM1343.2 812.6h4.1v8.5h-4.1zM1347.3 787.2h4.1v8.4h-4.1zM1347.3 804.1h4.1v8.5h-4.1zM1347.3 821.1h4.1v34h-4.1zM1351.4 812.6h4.1v25.5h-4.1zM1351.4 855.1h4.1v8.5h-4.1zM1355.4 795.7h4.1v8.4h-4.1zM1355.4 821.1h4.1v8.5h-4.1zM1359.5 787.2h4.1v25.4h-4.1zM1359.5 821.1h4.1v8.5h-4.1zM1359.5 846.6h4.1v8.5h-4.1zM1363.6 787.2h4.1v8.4h-4.1zM1363.6 804.1h4.1v25.5h-4.1zM1363.6 880.5h4.1v8.5h-4.1zM1367.6 795.6h4.1v8.5h-4.1zM1367.6 838.1h4.1v25.5h-4.1z"/>
<path fill="#2600ff" d="M1042 982.4h4.1v8.5h-4.1zM1115.3 1143.7h4.1v8.5h-4.1zM1123.4 1126.8h4.1v8.5h-4.1zM1127.5 1050.3h4.1v8.5h-4.1zM1156 1016.4h4.1v8.5h-4.1zM1160.1 948.5h4.1v8.5h-4.1zM1196.7 1041.9h4.1v8.5h-4.1zM1204.8 1058.8h4.1v8.5h-4.1zM1208.9 880.5h4.1v8.5h-4.1zM1213 872h4.1v8.5h-4.1zM1213 897.5h4.1v8.5h-4.1zM1217 880.5h4.1v8.5h-4.1zM1217 897.5h4.1v8.5h-4.1zM1221.1 829.6h4.1v34h-4.1zM1225.2 855.1h4.1v17h-4.1zM1229.2 855.1h4.1v8.5h-4.1zM1229.2 880.5h4.1v8.5h-4.1zM1229.2 957h4.1v8.5h-4.1zM1233.3 838.1h4.1v8.5h-4.1zM1233.3 855.1h4.1v8.5h-4.1zM1237.4 846.6h4.1v17h-4.1zM1241.5 812.6h4.1v8.5h-4.1zM1241.5 846.6h4.1v8.5h-4.1zM1245.5 795.6h4.1v8.5h-4.1zM1245.5 812.6h4.1v25.5h-4.1zM1249.6 829.6h4.1v8.5h-4.1zM1249.6 846.6h4.1v8.5h-4.1zM1249.6 880.5h4.1v8.5h-4.1zM1253.7 821.1h4.1v25.5h-4.1zM1257.7 821.1h4.1v8.5h-4.1zM1257.7 838.1h4.1v17h-4.1zM1261.8 838.1h4.1v8.5h-4.1zM1261.8 855.1h4.1v8.5h-4.1zM1265.9 812.6h4.1v17h-4.1zM1265.9 838.1h4.1v25.5h-4.1zM1270 795.6h4.1v17h-4.1zM1270 821.1h4.1v17h-4.1zM1274 787.2h4.1v8.4h-4.1zM1274 804.1h4.1v8.5h-4.1zM1274 846.6h4.1v8.5h-4.1zM1278.1 812.6h4.1v34h-4.1zM1278.1 855.1h4.1v8.5h-4.1zM1282.2 804.3h4.1v16.8h-4.1zM1286.2 812.8h4.1v8.3h-4.1zM1286.2 838.1h4.1v8.5h-4.1zM1294.4 821.1h4.1v8.5h-4.1zM1302.5 829.6h4.1v8.5h-4.1zM1302.5 846.6h4.1v8.5h-4.1zM1302.5 880.5h4.1v8.5h-4.1zM1314.7 829.6h4.1v8.5h-4.1zM1318.8 821.3h4.1v25.3h-4.1zM1335.1 787.2h4.1v8.4h-4.1zM1335.1 821.1h4.1v8.5h-4.1zM1347.3 795.6h4.1v8.5h-4.1zM1347.3 812.6h4.1v8.5h-4.1zM1351.4 804.3h4.1v8.3h-4.1zM1351.4 838.1h4.1v17h-4.1zM1351.4 889h4.1v8.5h-4.1zM1359.5 812.6h4.1v8.5h-4.1zM1367.6 778.7h4.1v17h-4.1zM1367.6 804.1h4.1v17h-4.1zM1367.6 829.6h4.1v8.5h-4.1zM1013.5 1084.3h4.1v8.5h-4.1zM1029.8 1084.3h4.1v8.5h-4.1z"/>
<path fill="#ff00ff" d="M1042 1007.9h4.1v8.5h-4.1zM1042 1143.7h4.1v8.5h-4.1zM1046.1 1033.4h4.1v8.5h-4.1zM1046.1 1084.3h4.1v8.5h-4.1zM1054.2 1109.8h4.1v8.5h-4.1zM1066.5 1016.4h4.1v8.5h-4.1zM1070.5 1016.4h4.1v8.5h-4.1zM1074.6 999.4h4.1v8.5h-4.1zM1078.7 1075.8h4.1v8.5h-4.1zM1082.7 931.5h4.1v17h-4.1zM1082.7 1143.7h4.1v8.5h-4.1zM1094.9 1075.8h4.1v8.5h-4.1zM1094.9 1092.8h4.1v8.5h-4.1zM1099 617.4h4.1v17h-4.1zM1099 906h4.1v8.5h-4.1zM1099 1033.4h4.1v8.5h-4.1zM1099 1084.3h4.1v8.5h-4.1zM1099 1101.3h4.1v8.5h-4.1zM1099 1143.7h4.1v8.5h-4.1zM1103.1 608.9h4.1v8.5h-4.1zM1103.1 625.8h4.1v8.5h-4.1zM1103.1 659.8h4.1v8.5h-4.1zM1103.1 744.7h4.1v8.5h-4.1zM1107.2 591.9h4.1v8.5h-4.1zM1107.2 617.4h4.1v8.5h-4.1zM1107.2 634.3h4.1v8.5h-4.1zM1107.2 668.3h4.1v8.5h-4.1zM1107.2 719.2h4.1v8.5h-4.1zM1111.2 634.3h4.1v42.4h-4.1zM1111.2 702.2h4.1v8.5h-4.1zM1111.2 778.7h4.1v8.5h-4.1zM1111.2 795.6h4.1v8.5h-4.1zM1111.2 821.1h4.1v8.5h-4.1zM1111.2 846.6h4.1v17h-4.1zM1111.2 880.5h4.1v8.5h-4.1zM1111.2 923h4.1v8.5h-4.1zM1111.2 948.5h4.1v8.5h-4.1zM1111.2 1033.4h4.1v8.5h-4.1zM1115.3 634.3h4.1v8.5h-4.1zM1115.3 668.3h4.1v8.5h-4.1zM1115.3 685.3h4.1v8.5h-4.1zM1115.3 702.2h4.1v8.5h-4.1zM1115.3 719.2h4.1v17h-4.1zM1115.3 744.7h4.1v34h-4.1zM1115.3 804.1h4.1v8.5h-4.1zM1119.4 617.4h4.1v8.5h-4.1zM1119.4 634.3h4.1v34h-4.1zM1119.4 710.7h4.1v8.5h-4.1zM1119.4 897.5h4.1v8.5h-4.1zM1123.4 625.8h4.1v34h-4.1zM1123.4 676.8h4.1v8.5h-4.1zM1123.4 702.2h4.1v8.5h-4.1zM1127.5 634.3h4.1v8.5h-4.1zM1127.5 659.8h4.1v8.5h-4.1zM1131.6 634.3h4.1v8.5h-4.1zM1131.6 668.3h4.1v8.5h-4.1zM1135.6 651.3h4.1v8.5h-4.1zM1139.7 990.9h4.1v8.5h-4.1zM1143.8 651.3h4.1v17h-4.1zM1143.8 685.3h4.1v8.5h-4.1zM1143.8 702.2h4.1v8.5h-4.1zM1147.8 668.3h4.1v25.5h-4.1zM1147.8 702.2h4.1v8.5h-4.1zM1151.9 676.8h4.1v17h-4.1zM1151.9 710.7h4.1v25.5h-4.1zM1156 608.9h4.1v42.5h-4.1zM1156 659.8h4.1v17h-4.1zM1156 685.3h4.1v8.5h-4.1zM1156 719.2h4.1v17h-4.1zM1160.1 608.9h4.1v17h-4.1zM1160.1 634.3h4.1v17h-4.1zM1160.1 659.8h4.1v67.9h-4.1zM1160.1 736.2h4.1v8.5h-4.1zM1160.1 1109.8h4.1v8.5h-4.1zM1160.1 1143.7h4.1v8.5h-4.1zM1164.1 617.4h4.1v25.5h-4.1zM1164.1 651.3h4.1v17h-4.1zM1164.1 676.8h4.1v25.5h-4.1zM1164.1 710.7h4.1v17h-4.1zM1164.1 736.2h4.1v8.5h-4.1zM1168.2 591.9h4.1v34h-4.1zM1168.2 736.2h4.1v8.5h-4.1zM1168.2 778.7h4.1v17h-4.1zM1168.2 838.1h4.1v8.5h-4.1zM1168.2 1101.3h4.1v8.5h-4.1zM1172.3 778.7h4.1v17h-4.1zM1172.3 821.1h4.1v8.5h-4.1zM1172.3 889h4.1v8.5h-4.1zM1172.3 923h4.1v8.5h-4.1zM1172.3 965.4h4.1v8.5h-4.1zM1172.3 1075.8h4.1v17h-4.1zM1176.3 591.9h4.1v17h-4.1zM1176.3 804.1h4.1v17h-4.1zM1176.3 906h4.1v8.5h-4.1zM1176.3 940h4.1v8.5h-4.1zM1176.3 1067.3h4.1v8.5h-4.1zM1176.3 1084.3h4.1v8.5h-4.1zM1180.4 770.2h4.1v8.5h-4.1zM1180.4 787.2h4.1v8.5h-4.1zM1180.4 804.1h4.1v8.5h-4.1zM1180.4 821.1h4.1v8.5h-4.1zM1180.4 863.6h4.1v8.5h-4.1zM1180.4 889h4.1v8.5h-4.1zM1180.4 906h4.1v8.5h-4.1zM1180.4 965.4h4.1v8.5h-4.1zM1184.5 795.6h4.1v42.4h-4.1zM1184.5 846.6h4.1v34h-4.1zM1184.5 940h4.1v17h-4.1zM1184.5 982.4h4.1v8.5h-4.1zM1184.5 999.4h4.1v8.5h-4.1zM1184.5 1050.3h4.1v8.5h-4.1zM1184.5 1075.8h4.1v8.5h-4.1zM1184.5 1143.7h4.1v8.5h-4.1zM1188.5 889h4.1v8.5h-4.1zM1188.5 931.5h4.1v8.5h-4.1zM1192.6 889h4.1v8.5h-4.1zM1204.8 1101.3h4.1v8.5h-4.1zM1213 1041.9h4.1v8.5h-4.1zM1213 1084.3h4.1v8.5h-4.1zM1225.2 1058.8h4.1v8.5h-4.1zM1233.3 1058.8h4.1v8.5h-4.1zM1306.6 1135.2h4.1v8.5h-4.1zM1025.8 1007.9h4.1v8.5h-4.1z"/>
<path fill="#ffff00" d="M1042 1016.4h4.1v8.5h-4.1zM1042 1126.8h4.1v8.5h-4.1zM1082.7 1075.8h4.1v8.5h-4.1zM1115.3 1135.2h4.1v8.5h-4.1zM1265.9 1041.9h4.1v8.5h-4.1zM1286.2 999.4h4.1v8.5h-4.1zM1298.4 1126.8h4.1v8.5h-4.1zM1355.4 999.4h4.1v8.5h-4.1zM1367.6 1075.8h4.1v8.5h-4.1zM1025.8 1135.2h4.1v8.5h-4.1z"/>
<path fill="#8000ff" d="M1042 1067.3h4.1v8.5h-4.1zM1042 1084.3h4.1v8.5h-4.1zM1042 1135.2h4.1v8.5h-4.1zM1046.1 1143.7h4.1v8.5h-4.1zM1082.7 1152.2h4.1v8.5h-4.1zM1111.2 1126.8h4.1v8.5h-4.1zM1111.2 1143.7h4.1v8.5h-4.1zM1119.4 1041.9h4.1v8.5h-4.1zM1123.4 990.9h4.1v8.5h-4.1zM1131.6 906h4.1v17h-4.1zM1135.6 846.6h4.1v8.5h-4.1zM1135.6 863.6h4.1v17h-4.1zM1139.7 821.1h4.1v34h-4.1zM1139.7 914.5h4.1v8.5h-4.1zM1139.7 1024.9h4.1v8.5h-4.1zM1143.8 855.1h4.1v8.5h-4.1zM1143.8 872h4.1v8.5h-4.1zM1147.8 829.6h4.1v17h-4.1zM1151.9 897.5h4.1v8.5h-4.1zM1156 838.1h4.1v8.5h-4.1zM1164.1 872h4.1v8.5h-4.1zM1164.1 897.5h4.1v8.5h-4.1zM1192.6 1007.9h4.1v8.5h-4.1zM1196.7 727.7h4.1v8.5h-4.1zM1196.7 872h4.1v8.5h-4.1zM1196.7 1050.3h4.1v8.5h-4.1zM1200.8 744.7h4.1v8.5h-4.1zM1200.8 761.7h4.1v8.5h-4.1zM1200.8 795.6h4.1v25.5h-4.1zM1204.8 710.7h4.1v8.5h-4.1zM1204.8 753.2h4.1v34h-4.1zM1204.8 1041.9h4.1v8.5h-4.1zM1208.9 676.8h4.1v34h-4.1zM1208.9 727.7h4.1v8.5h-4.1zM1208.9 1016.4h4.1v8.5h-4.1zM1208.9 1152.2h4.1v8.5h-4.1zM1213 693.8h4.1v8.5h-4.1zM1213 727.7h4.1v8.5h-4.1zM1217 710.7h4.1v42.5h-4.1zM1225.2 659.8h4.1v8.5h-4.1zM1225.2 676.8h4.1v17h-4.1zM1225.2 1016.4h4.1v8.5h-4.1zM1237.4 1092.8h4.1v8.5h-4.1zM1005.4 1084.3h4.1v8.5h-4.1zM1021.7 1118.3h4.1v8.5h-4.1zM1021.7 1109.8h4.1v8.5h-4.1zM1021.7 1050.3h4.1v8.5h-4.1zM1021.7 1024.9h4.1v8.5h-4.1z"/>
<path fill="#ff8000" d="M1042 1075.8h4.1v8.5h-4.1zM1009.5 1084.3h4.1v8.5h-4.1zM1025.8 1109.8h4.1v8.5h-4.1z"/>
<path fill="#f200ff" d="M1046.1 940h4.1v8.5h-4.1zM1046.1 1092.8h4.1v8.5h-4.1zM1050.2 1007.9h4.1v8.5h-4.1zM1050.2 1143.7h4.1v8.5h-4.1zM1062.4 1016.4h4.1v8.5h-4.1zM1066.5 1007.9h4.1v8.5h-4.1zM1070.5 990.9h4.1v8.5h-4.1zM1070.5 1024.9h4.1v8.5h-4.1zM1078.7 1007.9h4.1v8.5h-4.1zM1082.7 880.5h4.1v8.5h-4.1zM1082.7 973.9h4.1v8.5h-4.1zM1082.7 1033.4h4.1v8.5h-4.1zM1094.9 965.4h4.1v8.5h-4.1zM1094.9 999.4h4.1v8.5h-4.1zM1099 914.5h4.1v8.5h-4.1zM1099 931.5h4.1v8.5h-4.1zM1103.1 600.4h4.1v8.5h-4.1zM1103.1 923h4.1v8.5h-4.1zM1103.1 940h4.1v8.5h-4.1zM1103.1 990.9h4.1v8.5h-4.1zM1103.1 1033.4h4.1v17h-4.1zM1103.1 1075.8h4.1v8.5h-4.1zM1107.2 923h4.1v8.5h-4.1zM1107.2 1033.4h4.1v8.5h-4.1zM1111.2 982.4h4.1v8.5h-4.1zM1111.2 999.4h4.1v8.5h-4.1zM1115.3 736.2h4.1v8.5h-4.1zM1115.3 778.7h4.1v25.5h-4.1zM1115.3 812.6h4.1v8.5h-4.1zM1115.3 829.6h4.1v8.5h-4.1zM1115.3 846.6h4.1v8.5h-4.1zM1115.3 872h4.1v8.5h-4.1zM1115.3 906h4.1v8.5h-4.1zM1115.3 931.5h4.1v8.5h-4.1zM1115.3 973.9h4.1v8.5h-4.1zM1119.4 625.8h4.1v8.5h-4.1zM1119.4 668.3h4.1v8.5h-4.1zM1119.4 693.8h4.1v17h-4.1zM1119.4 719.2h4.1v17h-4.1zM1119.4 744.7h4.1v8.5h-4.1zM1119.4 906h4.1v8.5h-4.1zM1123.4 659.8h4.1v17h-4.1zM1123.4 685.3h4.1v17h-4.1zM1123.4 710.7h4.1v8.5h-4.1zM1127.5 642.8h4.1v17h-4.1zM1127.5 668.3h4.1v25.5h-4.1zM1131.6 642.8h4.1v25.5h-4.1zM1135.6 642.8h4.1v8.5h-4.1zM1135.6 668.3h4.1v8.5h-4.1zM1135.6 685.3h4.1v8.5h-4.1zM1139.7 625.8h4.1v42.4h-4.1zM1139.7 676.8h4.1v17h-4.1zM1143.8 676.8h4.1v8.5h-4.1zM1143.8 693.8h4.1v8.5h-4.1zM1143.8 710.7h4.1v17h-4.1zM1147.8 693.8h4.1v8.5h-4.1zM1147.8 710.7h4.1v25.5h-4.1zM1151.9 744.7h4.1v8.5h-4.1zM1156 600.4h4.1v8.5h-4.1zM1156 676.8h4.1v8.5h-4.1zM1156 736.2h4.1v17h-4.1zM1160.1 600.4h4.1v8.5h-4.1zM1160.1 625.8h4.1v8.5h-4.1zM1160.1 727.7h4.1v8.5h-4.1zM1160.1 744.7h4.1v17h-4.1zM1164.1 600.4h4.1v17h-4.1zM1164.1 702.2h4.1v8.5h-4.1zM1164.1 727.7h4.1v8.5h-4.1zM1164.1 744.7h4.1v17h-4.1zM1168.2 583.4h4.1v8.5h-4.1zM1168.2 634.3h4.1v25.5h-4.1zM1168.2 753.2h4.1v8.5h-4.1zM1168.2 804.1h4.1v34h-4.1zM1168.2 846.6h4.1v17h-4.1zM1168.2 872h4.1v8.5h-4.1zM1172.3 608.9h4.1v8.5h-4.1zM1172.3 625.8h4.1v8.5h-4.1zM1172.3 761.7h4.1v17h-4.1zM1172.3 897.5h4.1v8.5h-4.1zM1176.3 583.4h4.1v8.5h-4.1zM1176.3 761.7h4.1v25.5h-4.1zM1176.3 948.5h4.1v17h-4.1zM1176.3 982.4h4.1v8.5h-4.1zM1176.3 999.4h4.1v8.5h-4.1zM1180.4 591.9h4.1v8.5h-4.1zM1180.4 778.7h4.1v8.5h-4.1zM1180.4 795.6h4.1v8.5h-4.1zM1180.4 914.5h4.1v8.5h-4.1zM1180.4 957h4.1v8.5h-4.1zM1180.4 1016.4h4.1v8.5h-4.1zM1180.4 1092.8h4.1v17h-4.1zM1184.5 778.7h4.1v17h-4.1zM1184.5 1016.4h4.1v8.5h-4.1zM1184.5 1067.3h4.1v8.5h-4.1zM1188.5 838.1h4.1v25.5h-4.1zM1188.5 872h4.1v8.5h-4.1zM1188.5 957h4.1v8.5h-4.1zM1188.5 982.4h4.1v8.5h-4.1zM1188.5 1007.9h4.1v8.5h-4.1zM1188.5 1075.8h4.1v8.5h-4.1zM1192.6 880.5h4.1v8.5h-4.1zM1192.6 931.5h4.1v8.5h-4.1zM1192.6 965.4h4.1v8.5h-4.1zM1009.5 1033.4h4.1v8.5h-4.1z"/>
<path fill="#ff00e6" d="M1046.1 973.9h4.1v8.5h-4.1zM1046.1 1016.4h4.1v8.5h-4.1zM1050.2 923h4.1v8.5h-4.1zM1050.2 1041.9h4.1v8.5h-4.1zM1050.2 1135.2h4.1v8.5h-4.1zM1054.2 897.5h4.1v8.5h-4.1zM1054.2 1101.3h4.1v8.5h-4.1zM1062.4 990.9h4.1v8.5h-4.1zM1074.6 889h4.1v8.5h-4.1zM1074.6 940h4.1v8.5h-4.1zM1074.6 1033.4h4.1v8.5h-4.1zM1078.7 940h4.1v8.5h-4.1zM1078.7 1041.9h4.1v8.5h-4.1zM1082.7 608.9h4.1v8.5h-4.1zM1082.7 625.8h4.1v8.5h-4.1zM1082.7 642.8h4.1v8.5h-4.1zM1082.7 889h4.1v8.5h-4.1zM1082.7 957h4.1v17h-4.1zM1090.9 634.3h4.1v8.5h-4.1zM1090.9 651.3h4.1v8.5h-4.1zM1090.9 948.5h4.1v17h-4.1zM1090.9 1084.3h4.1v8.5h-4.1zM1094.9 617.4h4.1v17h-4.1zM1094.9 940h4.1v8.5h-4.1zM1094.9 982.4h4.1v17h-4.1zM1099 676.8h4.1v8.5h-4.1zM1099 693.8h4.1v50.9h-4.1zM1099 761.7h4.1v25.5h-4.1zM1099 795.6h4.1v17h-4.1zM1099 821.1h4.1v17h-4.1zM1099 846.6h4.1v25.5h-4.1zM1099 897.5h4.1v8.5h-4.1zM1103.1 685.3h4.1v42.5h-4.1zM1103.1 736.2h4.1v8.5h-4.1zM1103.1 753.2h4.1v8.5h-4.1zM1103.1 778.7h4.1v8.5h-4.1zM1103.1 821.1h4.1v25.5h-4.1zM1103.1 855.1h4.1v8.5h-4.1zM1103.1 872h4.1v8.5h-4.1zM1103.1 906h4.1v8.5h-4.1zM1103.1 965.4h4.1v8.5h-4.1zM1103.1 1007.9h4.1v8.5h-4.1zM1107.2 710.7h4.1v8.5h-4.1zM1107.2 727.7h4.1v17h-4.1zM1107.2 753.2h4.1v17h-4.1zM1107.2 787.2h4.1v25.5h-4.1zM1107.2 846.6h4.1v8.5h-4.1zM1107.2 863.6h4.1v17h-4.1zM1107.2 897.5h4.1v8.5h-4.1zM1107.2 914.5h4.1v8.5h-4.1zM1107.2 940h4.1v8.5h-4.1zM1111.2 693.8h4.1v8.5h-4.1zM1111.2 744.7h4.1v8.5h-4.1zM1111.2 812.6h4.1v8.5h-4.1zM1111.2 1024.9h4.1v8.5h-4.1zM1168.2 880.5h4.1v8.5h-4.1zM1172.3 795.6h4.1v8.5h-4.1zM1172.3 812.6h4.1v8.5h-4.1zM1172.3 829.6h4.1v8.5h-4.1zM1172.3 846.6h4.1v8.5h-4.1zM1172.3 872h4.1v8.5h-4.1zM1172.3 906h4.1v8.5h-4.1zM1172.3 973.9h4.1v17h-4.1zM1172.3 999.4h4.1v8.5h-4.1zM1172.3 1041.9h4.1v8.5h-4.1zM1172.3 1101.3h4.1v8.5h-4.1zM1176.3 846.6h4.1v17h-4.1zM1176.3 872h4.1v17h-4.1zM1176.3 965.4h4.1v8.5h-4.1zM1176.3 1016.4h4.1v8.5h-4.1zM1176.3 1033.4h4.1v8.5h-4.1zM1176.3 1058.8h4.1v8.5h-4.1zM1176.3 1075.8h4.1v8.5h-4.1zM1180.4 990.9h4.1v8.5h-4.1zM1180.4 1024.9h4.1v17h-4.1zM1184.5 880.5h4.1v8.5h-4.1zM1184.5 906h4.1v8.5h-4.1zM1009.5 1109.8h4.1v8.5h-4.1zM1029.8 1101.3h4.1v8.5h-4.1zM1038 1067.3h4.1v8.5h-4.1zM1038 1058.8h4.1v8.5h-4.1z"/>
<path fill="#ff0099" d="M1046.1 990.9h4.1v8.5h-4.1zM1050.2 965.4h4.1v8.5h-4.1zM1050.2 1033.4h4.1v8.5h-4.1zM1054.2 880.5h4.1v8.5h-4.1zM1054.2 940h4.1v8.5h-4.1zM1058.3 973.9h4.1v8.5h-4.1zM1062.4 940h4.1v8.5h-4.1zM1062.4 973.9h4.1v8.5h-4.1zM1066.5 659.8h4.1v8.5h-4.1zM1066.5 982.4h4.1v8.5h-4.1zM1066.5 1024.9h4.1v8.5h-4.1zM1074.6 1016.4h4.1v8.5h-4.1zM1078.7 973.9h4.1v8.5h-4.1zM1078.7 1050.3h4.1v8.5h-4.1zM1086.8 880.5h4.1v8.5h-4.1zM1086.8 897.5h4.1v8.5h-4.1zM1086.8 957h4.1v8.5h-4.1zM1086.8 1016.4h4.1v8.5h-4.1zM1090.9 990.9h4.1v8.5h-4.1zM1103.1 1050.3h4.1v8.5h-4.1zM1013.5 1101.3h4.1v8.5h-4.1zM1017.6 1160.7h4.1v8.5h-4.1zM1017.6 1075.8h4.1v8.5h-4.1zM1021.7 1033.4h4.1v8.5h-4.1zM1025.8 1092.8h4.1v8.5h-4.1zM1025.8 1016.4h4.1v8.5h-4.1zM1033.9 1126.8h4.1v8.5h-4.1z"/>
<path fill="#ff0080" d="M1046.1 999.4h4.1v8.5h-4.1zM1046.1 1067.3h4.1v8.5h-4.1zM1066.5 999.4h4.1v8.5h-4.1zM1070.5 1033.4h4.1v8.5h-4.1zM1005.4 1041.9h4.1v8.5h-4.1zM1013.5 1135.2h4.1v8.5h-4.1zM1013.5 1118.3h4.1v8.5h-4.1zM1021.7 1067.3h4.1v8.5h-4.1zM1029.8 1075.8h4.1v8.5h-4.1zM1038 1160.7h4.1v8.5h-4.1z"/>
<path fill="#e600ff" d="M1046.1 1050.3h4.1v8.5h-4.1zM1054.2 1143.7h4.1v8.5h-4.1zM1062.4 1007.9h4.1v8.5h-4.1zM1074.6 1050.3h4.1v8.5h-4.1zM1078.7 1067.3h4.1v8.5h-4.1zM1082.7 1058.8h4.1v8.5h-4.1zM1099 1007.9h4.1v8.5h-4.1zM1099 1024.9h4.1v8.5h-4.1zM1099 1041.9h4.1v8.5h-4.1zM1099 1092.8h4.1v8.5h-4.1zM1099 1160.7h4.1v8.5h-4.1zM1103.1 880.5h4.1v8.5h-4.1zM1103.1 931.5h4.1v8.5h-4.1zM1107.2 889h4.1v8.5h-4.1zM1107.2 1024.9h4.1v8.5h-4.1zM1111.2 914.5h4.1v8.5h-4.1zM1111.2 965.4h4.1v8.5h-4.1zM1115.3 821.1h4.1v8.5h-4.1zM1115.3 838.1h4.1v8.5h-4.1zM1115.3 855.1h4.1v17h-4.1zM1115.3 914.5h4.1v8.5h-4.1zM1115.3 1016.4h4.1v8.5h-4.1zM1119.4 761.7h4.1v25.5h-4.1zM1119.4 982.4h4.1v8.5h-4.1zM1123.4 727.7h4.1v8.5h-4.1zM1123.4 744.7h4.1v8.5h-4.1zM1127.5 693.8h4.1v8.5h-4.1zM1131.6 676.8h4.1v42.5h-4.1zM1135.6 634.3h4.1v8.5h-4.1zM1135.6 659.8h4.1v8.5h-4.1zM1135.6 676.8h4.1v8.5h-4.1zM1139.7 668.3h4.1v8.5h-4.1zM1139.7 710.7h4.1v8.5h-4.1zM1143.8 727.7h4.1v25.5h-4.1zM1151.9 736.2h4.1v8.5h-4.1zM1151.9 753.2h4.1v8.5h-4.1zM1156 753.2h4.1v17h-4.1zM1160.1 761.7h4.1v17h-4.1zM1164.1 761.7h4.1v17h-4.1zM1168.2 625.8h4.1v8.5h-4.1zM1168.2 659.8h4.1v59.4h-4.1zM1168.2 744.7h4.1v8.5h-4.1zM1168.2 761.7h4.1v17h-4.1zM1168.2 795.6h4.1v8.5h-4.1zM1168.2 863.6h4.1v8.5h-4.1zM1168.2 931.5h4.1v17h-4.1zM1168.2 982.4h4.1v8.5h-4.1zM1168.2 1033.4h4.1v8.5h-4.1zM1172.3 617.4h4.1v8.5h-4.1zM1172.3 634.3h4.1v25.5h-4.1zM1172.3 676.8h4.1v8.5h-4.1zM1172.3 693.8h4.1v8.5h-4.1zM1172.3 719.2h4.1v42.5h-4.1zM1172.3 931.5h4.1v8.5h-4.1zM1172.3 957h4.1v8.5h-4.1zM1172.3 1050.3h4.1v8.5h-4.1zM1176.3 608.9h4.1v8.5h-4.1zM1176.3 625.8h4.1v25.5h-4.1zM1176.3 744.7h4.1v8.5h-4.1zM1176.3 897.5h4.1v8.5h-4.1zM1176.3 1101.3h4.1v8.5h-4.1zM1180.4 608.9h4.1v17h-4.1zM1180.4 761.7h4.1v8.5h-4.1zM1180.4 1067.3h4.1v8.5h-4.1zM1184.5 583.4h4.1v25.5h-4.1zM1184.5 770.2h4.1v8.5h-4.1zM1184.5 1007.9h4.1v8.5h-4.1zM1184.5 1041.9h4.1v8.5h-4.1zM1188.5 787.2h4.1v17h-4.1zM1188.5 812.6h4.1v25.5h-4.1zM1188.5 863.6h4.1v8.5h-4.1zM1188.5 965.4h4.1v8.5h-4.1zM1188.5 1033.4h4.1v8.5h-4.1zM1188.5 1058.8h4.1v8.5h-4.1zM1192.6 812.6h4.1v17h-4.1zM1192.6 838.1h4.1v8.5h-4.1zM1192.6 863.6h4.1v8.5h-4.1zM1192.6 973.9h4.1v8.5h-4.1zM1192.6 1016.4h4.1v8.5h-4.1zM1192.6 1058.8h4.1v8.5h-4.1zM1029.8 1126.8h4.1v8.5h-4.1zM1038 1075.8h4.1v8.5h-4.1z"/>
<path fill="#cc00ff" d="M1046.1 1101.3h4.1v8.5h-4.1zM1046.1 1118.3h4.1v8.5h-4.1zM1054.2 1084.3h4.1v8.5h-4.1zM1078.7 1033.4h4.1v8.5h-4.1zM1082.7 1050.3h4.1v8.5h-4.1zM1099 1016.4h4.1v8.5h-4.1zM1103.1 999.4h4.1v8.5h-4.1zM1103.1 1024.9h4.1v8.5h-4.1zM1103.1 1058.8h4.1v8.5h-4.1zM1107.2 1016.4h4.1v8.5h-4.1zM1111.2 1007.9h4.1v8.5h-4.1zM1115.3 880.5h4.1v8.5h-4.1zM1115.3 923h4.1v8.5h-4.1zM1115.3 982.4h4.1v8.5h-4.1zM1115.3 1007.9h4.1v8.5h-4.1zM1119.4 821.1h4.1v8.5h-4.1zM1119.4 838.1h4.1v25.5h-4.1zM1119.4 923h4.1v8.5h-4.1zM1119.4 965.4h4.1v8.5h-4.1zM1123.4 761.7h4.1v17h-4.1zM1123.4 787.2h4.1v34h-4.1zM1123.4 838.1h4.1v8.5h-4.1zM1123.4 957h4.1v8.5h-4.1zM1123.4 973.9h4.1v8.5h-4.1zM1127.5 727.7h4.1v25.5h-4.1zM1127.5 761.7h4.1v8.5h-4.1zM1131.6 736.2h4.1v8.5h-4.1zM1131.6 753.2h4.1v8.5h-4.1zM1135.6 744.7h4.1v8.5h-4.1zM1139.7 727.7h4.1v17h-4.1zM1151.9 770.2h4.1v8.5h-4.1zM1151.9 787.2h4.1v8.5h-4.1zM1156 787.2h4.1v8.5h-4.1zM1164.1 778.7h4.1v25.5h-4.1zM1168.2 914.5h4.1v8.5h-4.1zM1168.2 965.4h4.1v8.5h-4.1zM1168.2 990.9h4.1v17h-4.1zM1176.3 676.8h4.1v8.5h-4.1zM1176.3 693.8h4.1v17h-4.1zM1176.3 719.2h4.1v8.5h-4.1zM1176.3 736.2h4.1v8.5h-4.1zM1180.4 634.3h4.1v8.5h-4.1zM1180.4 651.3h4.1v8.5h-4.1zM1180.4 685.3h4.1v17h-4.1zM1180.4 710.7h4.1v8.5h-4.1zM1180.4 736.2h4.1v8.5h-4.1zM1184.5 617.4h4.1v25.5h-4.1zM1184.5 753.2h4.1v8.5h-4.1zM1184.5 957h4.1v8.5h-4.1zM1188.5 583.4h4.1v8.5h-4.1zM1188.5 625.8h4.1v8.5h-4.1zM1188.5 973.9h4.1v8.5h-4.1zM1188.5 1084.3h4.1v17h-4.1zM1192.6 770.2h4.1v8.5h-4.1zM1192.6 787.2h4.1v8.5h-4.1zM1192.6 897.5h4.1v17h-4.1zM1192.6 940h4.1v17h-4.1zM1192.6 982.4h4.1v8.5h-4.1zM1192.6 1024.9h4.1v8.5h-4.1zM1192.6 1075.8h4.1v8.5h-4.1z"/>
<path fill="#b300ff" d="M1046.1 1126.8h4.1v8.5h-4.1zM1082.7 1118.3h4.1v8.5h-4.1zM1103.1 1084.3h4.1v8.5h-4.1zM1107.2 1058.8h4.1v8.5h-4.1zM1107.2 1075.8h4.1v8.5h-4.1zM1107.2 1135.2h4.1v17h-4.1zM1111.2 1067.3h4.1v8.5h-4.1zM1115.3 948.5h4.1v8.5h-4.1zM1115.3 1058.8h4.1v8.5h-4.1zM1115.3 1160.7h4.1v8.5h-4.1zM1119.4 880.5h4.1v8.5h-4.1zM1119.4 940h4.1v8.5h-4.1zM1123.4 829.6h4.1v8.5h-4.1zM1123.4 872h4.1v17h-4.1zM1123.4 897.5h4.1v17h-4.1zM1123.4 940h4.1v17h-4.1zM1123.4 965.4h4.1v8.5h-4.1zM1127.5 778.7h4.1v50.9h-4.1zM1127.5 914.5h4.1v8.5h-4.1zM1127.5 957h4.1v8.5h-4.1zM1131.6 761.7h4.1v8.5h-4.1zM1131.6 778.7h4.1v8.5h-4.1zM1131.6 804.1h4.1v8.5h-4.1zM1135.6 753.2h4.1v8.5h-4.1zM1135.6 770.2h4.1v25.5h-4.1zM1139.7 753.2h4.1v8.5h-4.1zM1139.7 778.7h4.1v8.5h-4.1zM1143.8 778.7h4.1v17h-4.1zM1147.8 770.2h4.1v17h-4.1zM1151.9 804.1h4.1v8.5h-4.1zM1156 804.1h4.1v17h-4.1zM1160.1 804.1h4.1v17h-4.1zM1164.1 821.1h4.1v17h-4.1zM1168.2 889h4.1v8.5h-4.1zM1168.2 923h4.1v8.5h-4.1zM1168.2 1024.9h4.1v8.5h-4.1zM1168.2 1058.8h4.1v8.5h-4.1zM1168.2 1075.8h4.1v17h-4.1zM1180.4 668.3h4.1v8.5h-4.1zM1180.4 719.2h4.1v8.5h-4.1zM1184.5 651.3h4.1v25.5h-4.1zM1184.5 685.3h4.1v8.5h-4.1zM1184.5 702.2h4.1v34h-4.1zM1188.5 651.3h4.1v25.5h-4.1zM1188.5 685.3h4.1v17h-4.1zM1188.5 727.7h4.1v8.5h-4.1zM1188.5 897.5h4.1v8.5h-4.1zM1192.6 676.8h4.1v25.5h-4.1zM1192.6 727.7h4.1v17h-4.1zM1192.6 1041.9h4.1v8.5h-4.1zM1192.6 1067.3h4.1v8.5h-4.1zM1192.6 1084.3h4.1v8.5h-4.1z"/>
<path fill="#d900ff" d="M1046.1 1152.2h4.1v8.5h-4.1zM1050.2 1067.3h4.1v8.5h-4.1zM1050.2 1092.8h4.1v8.5h-4.1zM1050.2 1152.2h4.1v8.5h-4.1zM1090.9 1143.7h4.1v8.5h-4.1zM1099 880.5h4.1v8.5h-4.1zM1099 1058.8h4.1v17h-4.1zM1099 1118.3h4.1v8.5h-4.1zM1099 1152.2h4.1v8.5h-4.1zM1103.1 1101.3h4.1v8.5h-4.1zM1107.2 1050.3h4.1v8.5h-4.1zM1111.2 906h4.1v8.5h-4.1zM1111.2 940h4.1v8.5h-4.1zM1111.2 1058.8h4.1v8.5h-4.1zM1111.2 1101.3h4.1v8.5h-4.1zM1115.3 897.5h4.1v8.5h-4.1zM1115.3 965.4h4.1v8.5h-4.1zM1115.3 999.4h4.1v8.5h-4.1zM1115.3 1067.3h4.1v8.5h-4.1zM1119.4 736.2h4.1v8.5h-4.1zM1119.4 753.2h4.1v8.5h-4.1zM1119.4 787.2h4.1v34h-4.1zM1119.4 829.6h4.1v8.5h-4.1zM1119.4 872h4.1v8.5h-4.1zM1123.4 719.2h4.1v8.5h-4.1zM1123.4 736.2h4.1v8.5h-4.1zM1123.4 753.2h4.1v8.5h-4.1zM1123.4 778.7h4.1v8.5h-4.1zM1127.5 702.2h4.1v25.5h-4.1zM1131.6 719.2h4.1v17h-4.1zM1135.6 693.8h4.1v50.9h-4.1zM1139.7 693.8h4.1v17h-4.1zM1139.7 719.2h4.1v8.5h-4.1zM1147.8 736.2h4.1v17h-4.1zM1151.9 761.7h4.1v8.5h-4.1zM1156 770.2h4.1v17h-4.1zM1160.1 778.7h4.1v17h-4.1zM1168.2 719.2h4.1v17h-4.1zM1168.2 897.5h4.1v8.5h-4.1zM1168.2 948.5h4.1v17h-4.1zM1172.3 659.8h4.1v17h-4.1zM1172.3 685.3h4.1v8.5h-4.1zM1172.3 702.2h4.1v17h-4.1zM1176.3 617.4h4.1v8.5h-4.1zM1176.3 651.3h4.1v25.5h-4.1zM1176.3 685.3h4.1v8.5h-4.1zM1176.3 727.7h4.1v8.5h-4.1zM1176.3 753.2h4.1v8.5h-4.1zM1176.3 1041.9h4.1v8.5h-4.1zM1176.3 1092.8h4.1v8.5h-4.1zM1180.4 583.4h4.1v8.5h-4.1zM1180.4 600.4h4.1v8.5h-4.1zM1180.4 625.8h4.1v8.5h-4.1zM1180.4 642.8h4.1v8.5h-4.1zM1180.4 744.7h4.1v17h-4.1zM1184.5 608.9h4.1v8.5h-4.1zM1184.5 761.7h4.1v8.5h-4.1zM1184.5 889h4.1v8.5h-4.1zM1184.5 1084.3h4.1v8.5h-4.1zM1188.5 591.9h4.1v25.5h-4.1zM1188.5 761.7h4.1v25.5h-4.1zM1188.5 804.1h4.1v8.5h-4.1zM1188.5 880.5h4.1v8.5h-4.1zM1188.5 940h4.1v17h-4.1zM1188.5 990.9h4.1v17h-4.1zM1188.5 1016.4h4.1v8.5h-4.1zM1188.5 1041.9h4.1v17h-4.1zM1192.6 778.7h4.1v8.5h-4.1zM1192.6 795.6h4.1v17h-4.1zM1192.6 829.6h4.1v8.5h-4.1zM1192.6 846.6h4.1v17h-4.1zM1192.6 872h4.1v8.5h-4.1zM1192.6 923h4.1v8.5h-4.1zM1208.9 1092.8h4.1v8.5h-4.1zM1233.3 1092.8h4.1v8.5h-4.1zM1241.5 1152.2h4.1v8.5h-4.1zM1021.7 1152.2h4.1v8.5h-4.1zM1033.9 1160.7h4.1v8.5h-4.1z"/>
<path fill="#9900ff" d="M1046.1 1160.7h4.1v8.5h-4.1zM1050.2 1160.7h4.1v8.5h-4.1zM1086.8 1118.3h4.1v8.5h-4.1zM1119.4 957h4.1v8.5h-4.1zM1119.4 1033.4h4.1v8.5h-4.1zM1119.4 1058.8h4.1v8.5h-4.1zM1123.4 914.5h4.1v8.5h-4.1zM1123.4 982.4h4.1v8.5h-4.1zM1127.5 829.6h4.1v17h-4.1zM1127.5 855.1h4.1v34h-4.1zM1127.5 897.5h4.1v8.5h-4.1zM1131.6 838.1h4.1v8.5h-4.1zM1131.6 855.1h4.1v8.5h-4.1zM1131.6 872h4.1v8.5h-4.1zM1131.6 931.5h4.1v8.5h-4.1zM1135.6 795.6h4.1v8.5h-4.1zM1135.6 812.6h4.1v8.5h-4.1zM1135.6 829.6h4.1v17h-4.1zM1135.6 897.5h4.1v8.5h-4.1zM1139.7 787.2h4.1v17h-4.1zM1143.8 795.6h4.1v8.5h-4.1zM1143.8 812.6h4.1v17h-4.1zM1147.8 787.2h4.1v25.5h-4.1zM1151.9 812.6h4.1v25.5h-4.1zM1151.9 846.6h4.1v8.5h-4.1zM1160.1 829.6h4.1v8.5h-4.1zM1168.2 1007.9h4.1v8.5h-4.1zM1168.2 1067.3h4.1v8.5h-4.1zM1196.7 676.8h4.1v25.5h-4.1zM1196.7 710.7h4.1v8.5h-4.1zM1196.7 736.2h4.1v17h-4.1zM1196.7 770.2h4.1v8.5h-4.1zM1196.7 787.2h4.1v8.5h-4.1zM1196.7 804.1h4.1v17h-4.1zM1196.7 829.6h4.1v8.5h-4.1zM1196.7 846.6h4.1v8.5h-4.1zM1200.8 668.3h4.1v17h-4.1zM1200.8 693.8h4.1v17h-4.1zM1200.8 727.7h4.1v8.5h-4.1zM1204.8 668.3h4.1v25.5h-4.1zM1204.8 702.2h4.1v8.5h-4.1z"/>
<path fill="#0059ff" d="M1050.2 1058.8h4.1v8.5h-4.1zM1123.4 1143.7h4.1v17h-4.1zM1160.1 1050.3h4.1v8.5h-4.1zM1160.1 1067.3h4.1v8.5h-4.1zM1164.1 1058.8h4.1v8.5h-4.1zM1164.1 1075.8h4.1v17h-4.1zM1164.1 1101.3h4.1v17h-4.1zM1172.3 1135.2h4.1v8.5h-4.1zM1188.5 1101.3h4.1v8.5h-4.1zM1200.8 973.9h4.1v8.5h-4.1zM1208.9 948.5h4.1v8.5h-4.1zM1213 931.5h4.1v8.5h-4.1zM1213 973.9h4.1v8.5h-4.1zM1217 1007.9h4.1v8.5h-4.1zM1225.2 931.5h4.1v8.5h-4.1zM1225.2 965.4h4.1v17h-4.1zM1229.2 965.4h4.1v8.5h-4.1zM1241.5 1075.8h4.1v8.5h-4.1zM1245.5 914.5h4.1v8.5h-4.1zM1249.6 965.4h4.1v8.5h-4.1zM1249.6 1016.4h4.1v8.5h-4.1zM1282.2 931.5h4.1v8.5h-4.1zM1282.2 982.4h4.1v8.5h-4.1zM1286.2 914.5h4.1v8.5h-4.1zM1286.2 931.5h4.1v8.5h-4.1zM1286.2 990.9h4.1v8.5h-4.1zM1290.3 914.5h4.1v8.5h-4.1zM1290.3 940h4.1v8.5h-4.1zM1306.6 931.5h4.1v8.5h-4.1zM1314.7 1109.8h4.1v8.5h-4.1zM1318.8 957h4.1v8.5h-4.1zM1322.9 973.9h4.1v8.5h-4.1zM1322.9 1135.2h4.1v8.5h-4.1zM1326.9 914.5h4.1v8.5h-4.1zM1326.9 1041.9h4.1v8.5h-4.1zM1335.1 965.4h4.1v17h-4.1zM1335.1 1016.4h4.1v8.5h-4.1zM1339.1 1067.3h4.1v8.5h-4.1zM1347.3 990.9h4.1v8.5h-4.1zM1355.4 1024.9h4.1v17h-4.1zM1359.5 990.9h4.1v8.5h-4.1zM1363.6 957h4.1v8.5h-4.1zM1363.6 1033.4h4.1v8.5h-4.1zM1367.6 957h4.1v8.5h-4.1zM1367.6 999.4h4.1v8.5h-4.1z"/>
<path fill="#80ff00" d="M1050.2 1118.3h4.1v8.5h-4.1zM1184.5 1033.4h4.1v8.5h-4.1zM1331 1135.2h4.1v8.5h-4.1z"/>
<path fill="#ff0000" d="M1054.2 1152.2h4.1v8.5h-4.1zM1156 1041.9h4.1v8.5h-4.1zM1184.5 1101.3h4.1v8.5h-4.1zM1188.5 1143.7h4.1v8.5h-4.1zM1033.9 1058.8h4.1v8.5h-4.1z"/>
<path fill="#ff008c" d="M1058.3 940h4.1v8.5h-4.1zM1066.5 914.5h4.1v8.5h-4.1zM1066.5 948.5h4.1v8.5h-4.1zM1074.6 906h4.1v8.5h-4.1zM1086.8 1050.3h4.1v8.5h-4.1zM1017.6 1101.3h4.1v8.5h-4.1zM1021.7 1058.8h4.1v8.5h-4.1zM1025.8 1160.7h4.1v8.5h-4.1zM1025.8 1067.3h4.1v8.5h-4.1zM1029.8 1152.2h4.1v8.5h-4.1zM1033.9 1152.2h4.1v8.5h-4.1zM1033.9 982.4h4.1v8.5h-4.1zM1038 1092.8h4.1v8.5h-4.1z"/>
<path fill="#00ff80" d="M1066.5 1092.8h4.1v8.5h-4.1zM1119.4 1007.9h4.1v8.5h-4.1zM1127.5 1067.3h4.1v8.5h-4.1zM1168.2 1135.2h4.1v8.5h-4.1zM1176.3 1109.8h4.1v8.5h-4.1zM1176.3 1143.7h4.1v8.5h-4.1zM1180.4 1152.2h4.1v8.5h-4.1zM1184.5 1152.2h4.1v8.5h-4.1zM1208.9 1101.3h4.1v8.5h-4.1zM1208.9 1135.2h4.1v8.5h-4.1zM1233.3 1126.8h4.1v17h-4.1zM1241.5 1092.8h4.1v8.5h-4.1zM1245.5 1084.3h4.1v8.5h-4.1zM1245.5 1109.8h4.1v8.5h-4.1zM1265.9 1118.3h4.1v8.5h-4.1zM1274 1135.2h4.1v8.5h-4.1zM1286.2 1084.3h4.1v17h-4.1zM1298.4 1109.8h4.1v8.5h-4.1zM1310.7 1067.3h4.1v8.5h-4.1zM1322.9 1050.3h4.1v8.5h-4.1zM1326.9 1135.2h4.1v8.5h-4.1zM1351.4 1118.3h4.1v8.5h-4.1zM1355.4 1152.2h4.1v8.5h-4.1zM1359.5 1118.3h4.1v8.5h-4.1z"/>
<path fill="#ff00f2" d="M1074.6 880.5h4.1v8.5h-4.1zM1074.6 931.5h4.1v8.5h-4.1zM1074.6 973.9h4.1v8.5h-4.1zM1086.8 990.9h4.1v8.5h-4.1zM1090.9 923h4.1v17h-4.1zM1090.9 973.9h4.1v17h-4.1zM1090.9 1050.3h4.1v8.5h-4.1zM1094.9 948.5h4.1v8.5h-4.1zM1099 634.3h4.1v42.4h-4.1zM1099 812.6h4.1v8.5h-4.1zM1099 923h4.1v8.5h-4.1zM1099 990.9h4.1v8.5h-4.1zM1103.1 617.4h4.1v8.5h-4.1zM1103.1 634.3h4.1v25.5h-4.1zM1103.1 668.3h4.1v17h-4.1zM1103.1 727.7h4.1v8.5h-4.1zM1103.1 761.7h4.1v17h-4.1zM1103.1 787.2h4.1v8.5h-4.1zM1103.1 804.1h4.1v17h-4.1zM1103.1 846.6h4.1v8.5h-4.1zM1103.1 863.6h4.1v8.5h-4.1zM1103.1 914.5h4.1v8.5h-4.1zM1107.2 583.4h4.1v8.5h-4.1zM1107.2 600.4h4.1v17h-4.1zM1107.2 625.8h4.1v8.5h-4.1zM1107.2 642.8h4.1v25.5h-4.1zM1107.2 676.8h4.1v34h-4.1zM1107.2 744.7h4.1v8.5h-4.1zM1107.2 770.2h4.1v17h-4.1zM1107.2 812.6h4.1v34h-4.1zM1107.2 855.1h4.1v8.5h-4.1zM1107.2 931.5h4.1v8.5h-4.1zM1107.2 948.5h4.1v8.5h-4.1zM1107.2 965.4h4.1v8.5h-4.1zM1107.2 1041.9h4.1v8.5h-4.1zM1111.2 625.8h4.1v8.5h-4.1zM1111.2 676.8h4.1v17h-4.1zM1111.2 710.7h4.1v34h-4.1zM1111.2 753.2h4.1v25.5h-4.1zM1111.2 787.2h4.1v8.5h-4.1zM1111.2 804.1h4.1v8.5h-4.1zM1111.2 829.6h4.1v17h-4.1zM1111.2 863.6h4.1v17h-4.1zM1111.2 897.5h4.1v8.5h-4.1zM1111.2 931.5h4.1v8.5h-4.1zM1111.2 957h4.1v8.5h-4.1zM1115.3 617.4h4.1v17h-4.1zM1115.3 642.8h4.1v25.5h-4.1zM1115.3 676.8h4.1v8.5h-4.1zM1115.3 693.8h4.1v8.5h-4.1zM1115.3 710.7h4.1v8.5h-4.1zM1119.4 676.8h4.1v17h-4.1zM1123.4 617.4h4.1v8.5h-4.1zM1143.8 668.3h4.1v8.5h-4.1zM1151.9 693.8h4.1v17h-4.1zM1156 651.3h4.1v8.5h-4.1zM1156 693.8h4.1v25.5h-4.1zM1160.1 651.3h4.1v8.5h-4.1zM1164.1 642.8h4.1v8.5h-4.1zM1164.1 668.3h4.1v8.5h-4.1zM1168.2 906h4.1v8.5h-4.1zM1168.2 1016.4h4.1v8.5h-4.1zM1172.3 804.1h4.1v8.5h-4.1zM1172.3 838.1h4.1v8.5h-4.1zM1172.3 855.1h4.1v17h-4.1zM1172.3 914.5h4.1v8.5h-4.1zM1172.3 940h4.1v8.5h-4.1zM1172.3 1016.4h4.1v8.5h-4.1zM1176.3 787.2h4.1v17h-4.1zM1176.3 821.1h4.1v25.5h-4.1zM1176.3 863.6h4.1v8.5h-4.1zM1176.3 923h4.1v8.5h-4.1zM1176.3 1007.9h4.1v8.5h-4.1zM1180.4 812.6h4.1v8.5h-4.1zM1180.4 829.6h4.1v34h-4.1zM1180.4 872h4.1v8.5h-4.1zM1180.4 897.5h4.1v8.5h-4.1zM1180.4 923h4.1v25.5h-4.1zM1180.4 973.9h4.1v8.5h-4.1zM1180.4 999.4h4.1v8.5h-4.1zM1180.4 1041.9h4.1v17h-4.1zM1184.5 838.1h4.1v8.5h-4.1zM1184.5 897.5h4.1v8.5h-4.1zM1184.5 914.5h4.1v25.5h-4.1zM1184.5 1024.9h4.1v8.5h-4.1zM1188.5 906h4.1v8.5h-4.1zM1188.5 1024.9h4.1v8.5h-4.1zM1192.6 914.5h4.1v8.5h-4.1zM1013.5 1067.3h4.1v8.5h-4.1zM1021.7 1084.3h4.1v8.5h-4.1z"/>
<path fill="#ff0073" d="M1074.6 923h4.1v8.5h-4.1zM1094.9 1041.9h4.1v17h-4.1zM1013.5 1152.2h4.1v8.5h-4.1zM1021.7 1092.8h4.1v8.5h-4.1zM1021.7 1075.8h4.1v8.5h-4.1zM1025.8 1084.3h4.1v8.5h-4.1zM1029.8 1160.7h4.1v8.5h-4.1zM1029.8 1135.2h4.1v8.5h-4.1zM1033.9 1135.2h4.1v8.5h-4.1zM1033.9 1101.3h4.1v8.5h-4.1zM1038 1118.3h4.1v8.5h-4.1z"/>
<path fill="#ff000d" d="M1074.6 1024.9h4.1v8.5h-4.1z"/>
<path fill="#bf00ff" d="M1082.7 948.5h4.1v8.5h-4.1zM1082.7 1067.3h4.1v8.5h-4.1zM1086.8 1160.7h4.1v8.5h-4.1zM1094.9 1143.7h4.1v8.5h-4.1zM1099 1135.2h4.1v8.5h-4.1zM1103.1 1016.4h4.1v8.5h-4.1zM1103.1 1067.3h4.1v8.5h-4.1zM1107.2 1067.3h4.1v8.5h-4.1zM1107.2 1118.3h4.1v8.5h-4.1zM1115.3 889h4.1v8.5h-4.1zM1115.3 940h4.1v8.5h-4.1zM1115.3 957h4.1v8.5h-4.1zM1119.4 863.6h4.1v8.5h-4.1zM1119.4 931.5h4.1v8.5h-4.1zM1119.4 973.9h4.1v8.5h-4.1zM1119.4 999.4h4.1v8.5h-4.1zM1123.4 821.1h4.1v8.5h-4.1zM1123.4 846.6h4.1v25.5h-4.1zM1123.4 889h4.1v8.5h-4.1zM1127.5 753.2h4.1v8.5h-4.1zM1127.5 770.2h4.1v8.5h-4.1zM1131.6 744.7h4.1v8.5h-4.1zM1131.6 770.2h4.1v8.5h-4.1zM1135.6 761.7h4.1v8.5h-4.1zM1135.6 923h4.1v8.5h-4.1zM1139.7 744.7h4.1v8.5h-4.1zM1143.8 753.2h4.1v25.5h-4.1zM1147.8 753.2h4.1v17h-4.1zM1151.9 778.7h4.1v8.5h-4.1zM1151.9 795.6h4.1v8.5h-4.1zM1156 795.6h4.1v8.5h-4.1zM1160.1 795.6h4.1v8.5h-4.1zM1164.1 804.1h4.1v17h-4.1zM1176.3 710.7h4.1v8.5h-4.1zM1180.4 659.8h4.1v8.5h-4.1zM1180.4 676.8h4.1v8.5h-4.1zM1180.4 702.2h4.1v8.5h-4.1zM1180.4 727.7h4.1v8.5h-4.1zM1184.5 676.8h4.1v8.5h-4.1zM1184.5 736.2h4.1v17h-4.1zM1188.5 617.4h4.1v8.5h-4.1zM1188.5 634.3h4.1v17h-4.1zM1188.5 736.2h4.1v25.5h-4.1zM1188.5 1067.3h4.1v8.5h-4.1zM1192.6 744.7h4.1v25.5h-4.1zM1192.6 957h4.1v8.5h-4.1zM1192.6 999.4h4.1v8.5h-4.1zM1192.6 1050.3h4.1v8.5h-4.1zM1192.6 1101.3h4.1v8.5h-4.1zM1213 1033.4h4.1v8.5h-4.1zM1217 1050.3h4.1v8.5h-4.1zM1221.1 1067.3h4.1v8.5h-4.1zM1233.3 1067.3h4.1v8.5h-4.1z"/>
<path fill="#a600ff" d="M1082.7 1092.8h4.1v8.5h-4.1zM1094.9 1101.3h4.1v8.5h-4.1zM1107.2 990.9h4.1v8.5h-4.1zM1111.2 1109.8h4.1v8.5h-4.1zM1115.3 1075.8h4.1v17h-4.1zM1119.4 889h4.1v8.5h-4.1zM1119.4 914.5h4.1v8.5h-4.1zM1119.4 948.5h4.1v8.5h-4.1zM1119.4 1024.9h4.1v8.5h-4.1zM1119.4 1067.3h4.1v8.5h-4.1zM1123.4 923h4.1v17h-4.1zM1127.5 846.6h4.1v8.5h-4.1zM1131.6 787.2h4.1v17h-4.1zM1131.6 812.6h4.1v17h-4.1zM1139.7 761.7h4.1v17h-4.1zM1139.7 880.5h4.1v8.5h-4.1zM1143.8 804.1h4.1v8.5h-4.1zM1156 821.1h4.1v8.5h-4.1zM1160.1 821.1h4.1v8.5h-4.1zM1164.1 838.1h4.1v17h-4.1zM1168.2 973.9h4.1v8.5h-4.1zM1168.2 1041.9h4.1v17h-4.1zM1184.5 642.8h4.1v8.5h-4.1zM1184.5 693.8h4.1v8.5h-4.1zM1188.5 676.8h4.1v8.5h-4.1zM1188.5 702.2h4.1v25.5h-4.1zM1188.5 923h4.1v8.5h-4.1zM1192.6 702.2h4.1v25.5h-4.1zM1192.6 990.9h4.1v8.5h-4.1zM1196.7 761.7h4.1v8.5h-4.1zM1196.7 778.7h4.1v8.5h-4.1zM1196.7 795.6h4.1v8.5h-4.1zM1196.7 1084.3h4.1v8.5h-4.1zM1200.8 651.3h4.1v17h-4.1zM1200.8 685.3h4.1v8.5h-4.1zM1204.8 659.8h4.1v8.5h-4.1zM1204.8 693.8h4.1v8.5h-4.1zM1217 1101.3h4.1v8.5h-4.1zM1233.3 1041.9h4.1v8.5h-4.1zM1237.4 1007.9h4.1v8.5h-4.1z"/>
<path fill="#0d00ff" d="M1082.7 1101.3h4.1v8.5h-4.1zM1151.9 914.5h4.1v8.5h-4.1zM1160.1 906h4.1v8.5h-4.1zM1164.1 973.9h4.1v8.5h-4.1zM1196.7 999.4h4.1v8.5h-4.1zM1196.7 1033.4h4.1v8.5h-4.1zM1200.8 931.5h4.1v8.5h-4.1zM1200.8 957h4.1v8.5h-4.1zM1204.8 982.4h4.1v17h-4.1zM1208.9 889h4.1v8.5h-4.1zM1213 906h4.1v8.5h-4.1zM1217 965.4h4.1v8.5h-4.1zM1229.2 906h4.1v8.5h-4.1zM1237.4 880.5h4.1v8.5h-4.1zM1241.5 889h4.1v8.5h-4.1zM1245.5 863.6h4.1v8.5h-4.1zM1249.6 872h4.1v8.5h-4.1zM1253.7 880.5h4.1v8.5h-4.1zM1257.7 863.6h4.1v8.5h-4.1zM1257.7 880.5h4.1v8.5h-4.1zM1257.7 914.5h4.1v8.5h-4.1zM1261.8 863.6h4.1v8.5h-4.1zM1261.8 889h4.1v17h-4.1zM1261.8 931.5h4.1v8.5h-4.1zM1265.9 872h4.1v17h-4.1zM1270 863.6h4.1v17h-4.1zM1274 838.1h4.1v8.5h-4.1zM1274 855.1h4.1v8.5h-4.1zM1278.1 872h4.1v8.5h-4.1zM1278.1 914.5h4.1v8.5h-4.1zM1282.2 838.1h4.1v8.5h-4.1zM1282.2 855.1h4.1v8.5h-4.1zM1286.2 863.6h4.1v8.5h-4.1zM1286.2 880.5h4.1v8.5h-4.1zM1290.3 829.6h4.1v25.5h-4.1zM1294.4 812.8h4.1v8.3h-4.1zM1294.4 838.1h4.1v34h-4.1zM1294.4 889h4.1v8.5h-4.1zM1298.4 838.1h4.1v8.5h-4.1zM1298.4 863.6h4.1v17h-4.1zM1302.5 855.1h4.1v8.5h-4.1zM1302.5 872h4.1v8.5h-4.1zM1306.6 838.1h4.1v8.5h-4.1zM1310.7 829.6h4.1v8.5h-4.1zM1310.7 855.1h4.1v8.5h-4.1zM1314.7 838.1h4.1v17h-4.1zM1314.7 914.5h4.1v8.5h-4.1zM1318.8 872h4.1v17h-4.1zM1322.9 821.1h4.1v8.5h-4.1zM1322.9 855.1h4.1v17h-4.1zM1322.9 880.5h4.1v8.5h-4.1zM1326.9 812.6h4.1v8.5h-4.1zM1326.9 829.6h4.1v8.5h-4.1zM1331 795.7h4.1v8.4h-4.1zM1331 812.6h4.1v8.5h-4.1zM1331 829.6h4.1v17h-4.1zM1335.1 812.6h4.1v8.5h-4.1zM1335.1 855.1h4.1v8.5h-4.1zM1339.1 787.2h4.1v8.4h-4.1zM1339.1 804.1h4.1v50.9h-4.1zM1343.2 787.2h4.1v8.4h-4.1zM1343.2 804.1h4.1v8.5h-4.1zM1343.2 821.1h4.1v42.5h-4.1zM1347.3 855.1h4.1v8.5h-4.1zM1347.3 880.5h4.1v8.5h-4.1zM1351.4 863.6h4.1v17h-4.1zM1355.4 804.1h4.1v17h-4.1zM1355.4 838.1h4.1v34h-4.1zM1359.5 829.6h4.1v17h-4.1zM1359.5 855.1h4.1v17h-4.1zM1359.5 889h4.1v8.5h-4.1zM1363.6 795.6h4.1v8.5h-4.1zM1363.6 829.6h4.1v34h-4.1zM1367.6 821.1h4.1v8.5h-4.1zM1367.6 863.6h4.1v17h-4.1z"/>
<path fill="#ff0033" d="M1086.8 1007.9h4.1v8.5h-4.1zM1090.9 1067.3h4.1v8.5h-4.1z"/>
<path fill="#ff0040" d="M1090.9 1033.4h4.1v8.5h-4.1zM1038 1152.2h4.1v8.5h-4.1z"/>
<path fill="#8c00ff" d="M1103.1 1109.8h4.1v8.5h-4.1zM1111.2 1084.3h4.1v8.5h-4.1zM1119.4 990.9h4.1v8.5h-4.1zM1127.5 906h4.1v8.5h-4.1zM1127.5 923h4.1v17h-4.1zM1131.6 829.6h4.1v8.5h-4.1zM1131.6 846.6h4.1v8.5h-4.1zM1131.6 863.6h4.1v8.5h-4.1zM1131.6 889h4.1v8.5h-4.1zM1131.6 940h4.1v8.5h-4.1zM1135.6 804.1h4.1v8.5h-4.1zM1135.6 821.1h4.1v8.5h-4.1zM1135.6 855.1h4.1v8.5h-4.1zM1139.7 804.1h4.1v17h-4.1zM1139.7 897.5h4.1v8.5h-4.1zM1143.8 829.6h4.1v25.5h-4.1zM1147.8 812.6h4.1v17h-4.1zM1151.9 838.1h4.1v8.5h-4.1zM1156 829.6h4.1v8.5h-4.1zM1160.1 838.1h4.1v25.5h-4.1zM1164.1 855.1h4.1v17h-4.1zM1196.7 702.2h4.1v8.5h-4.1zM1196.7 719.2h4.1v8.5h-4.1zM1196.7 753.2h4.1v8.5h-4.1zM1196.7 821.1h4.1v8.5h-4.1zM1196.7 838.1h4.1v8.5h-4.1zM1196.7 855.1h4.1v17h-4.1zM1196.7 889h4.1v8.5h-4.1zM1200.8 710.7h4.1v17h-4.1zM1200.8 736.2h4.1v8.5h-4.1zM1200.8 753.2h4.1v8.5h-4.1zM1200.8 770.2h4.1v25.5h-4.1zM1204.8 719.2h4.1v34h-4.1zM1208.9 668.3h4.1v8.5h-4.1zM1213 685.3h4.1v8.5h-4.1zM1213 702.2h4.1v8.5h-4.1zM1217 693.8h4.1v17h-4.1zM1225.2 668.3h4.1v8.5h-4.1z"/>
<path fill="#4c00ff" d="M1107.2 1101.3h4.1v8.5h-4.1zM1115.3 1126.8h4.1v8.5h-4.1zM1119.4 1092.8h4.1v8.5h-4.1zM1123.4 1084.3h4.1v17h-4.1zM1123.4 1118.3h4.1v8.5h-4.1zM1135.6 940h4.1v8.5h-4.1zM1139.7 889h4.1v8.5h-4.1zM1143.8 897.5h4.1v8.5h-4.1zM1156 880.5h4.1v8.5h-4.1zM1160.1 914.5h4.1v8.5h-4.1zM1164.1 880.5h4.1v17h-4.1zM1164.1 923h4.1v8.5h-4.1zM1164.1 940h4.1v8.5h-4.1zM1196.7 948.5h4.1v8.5h-4.1zM1196.7 965.4h4.1v8.5h-4.1zM1196.7 990.9h4.1v8.5h-4.1zM1200.8 872h4.1v8.5h-4.1zM1204.8 855.1h4.1v34h-4.1zM1208.9 821.1h4.1v17h-4.1zM1208.9 846.6h4.1v8.5h-4.1zM1213 821.1h4.1v17h-4.1zM1213 846.6h4.1v8.5h-4.1zM1213 889h4.1v8.5h-4.1zM1217 838.1h4.1v8.5h-4.1zM1217 889h4.1v8.5h-4.1zM1221.1 761.7h4.1v8.5h-4.1zM1221.1 778.7h4.1v8.5h-4.1zM1225.2 778.7h4.1v8.5h-4.1zM1225.2 795.6h4.1v17h-4.1zM1229.2 787.2h4.1v17h-4.1zM1233.3 753.2h4.1v8.5h-4.1zM1233.3 770.2h4.1v8.5h-4.1zM1237.4 761.7h4.1v17h-4.1zM1241.5 753.2h4.1v8.5h-4.1zM1249.6 770.2h4.1v8.5h-4.1zM1253.7 761.7h4.1v17h-4.1zM1257.7 761.7h4.1v17h-4.1zM1261.8 753.2h4.1v8.5h-4.1z"/>
<path fill="#3300ff" d="M1111.2 1152.2h4.1v8.5h-4.1zM1115.3 1024.9h4.1v8.5h-4.1zM1139.7 931.5h4.1v8.5h-4.1zM1139.7 948.5h4.1v17h-4.1zM1151.9 906h4.1v8.5h-4.1zM1151.9 940h4.1v8.5h-4.1zM1156 889h4.1v17h-4.1zM1160.1 923h4.1v8.5h-4.1zM1164.1 906h4.1v8.5h-4.1zM1164.1 982.4h4.1v8.5h-4.1zM1196.7 973.9h4.1v8.5h-4.1zM1196.7 1016.4h4.1v8.5h-4.1zM1200.8 880.5h4.1v8.5h-4.1zM1200.8 897.5h4.1v17h-4.1zM1200.8 1050.3h4.1v8.5h-4.1zM1204.8 889h4.1v8.5h-4.1zM1204.8 931.5h4.1v8.5h-4.1zM1208.9 855.1h4.1v25.5h-4.1zM1208.9 897.5h4.1v8.5h-4.1zM1213 863.6h4.1v8.5h-4.1zM1217 863.6h4.1v17h-4.1zM1221.1 812.6h4.1v17h-4.1zM1225.2 829.6h4.1v17h-4.1zM1229.2 821.1h4.1v17h-4.1zM1229.2 846.6h4.1v8.5h-4.1zM1233.3 795.6h4.1v8.5h-4.1zM1233.3 812.6h4.1v25.5h-4.1zM1237.4 804.1h4.1v42.4h-4.1zM1241.5 821.1h4.1v25.5h-4.1zM1245.5 770.2h4.1v17h-4.1zM1249.6 812.6h4.1v17h-4.1zM1249.6 838.1h4.1v8.5h-4.1zM1253.7 787.2h4.1v8.5h-4.1zM1253.7 804.1h4.1v8.5h-4.1zM1253.7 846.6h4.1v8.5h-4.1zM1257.7 778.7h4.1v25.5h-4.1zM1257.7 812.6h4.1v8.5h-4.1zM1257.7 829.6h4.1v8.5h-4.1zM1261.8 812.6h4.1v25.5h-4.1zM1261.8 846.6h4.1v8.5h-4.1zM1265.9 778.7h4.1v34h-4.1zM1265.9 829.6h4.1v8.5h-4.1zM1270 778.7h4.1v17h-4.1zM1270 812.6h4.1v8.5h-4.1zM1278.1 804.3h4.1v8.3h-4.1z"/>
<path fill="#0040ff" d="M1111.2 1160.7h4.1v8.5h-4.1zM1123.4 1109.8h4.1v8.5h-4.1zM1156 982.4h4.1v8.5h-4.1zM1156 1033.4h4.1v8.5h-4.1zM1156 1058.8h4.1v8.5h-4.1zM1160.1 1041.9h4.1v8.5h-4.1zM1160.1 1058.8h4.1v8.5h-4.1zM1160.1 1075.8h4.1v17h-4.1zM1164.1 1033.4h4.1v8.5h-4.1zM1164.1 1050.3h4.1v8.5h-4.1zM1196.7 1024.9h4.1v8.5h-4.1zM1200.8 965.4h4.1v8.5h-4.1zM1208.9 931.5h4.1v8.5h-4.1zM1208.9 957h4.1v17h-4.1zM1213 948.5h4.1v17h-4.1zM1217 931.5h4.1v25.5h-4.1zM1217 1016.4h4.1v8.5h-4.1zM1225.2 914.5h4.1v8.5h-4.1zM1225.2 940h4.1v8.5h-4.1zM1225.2 982.4h4.1v8.5h-4.1zM1225.2 1024.9h4.1v8.5h-4.1zM1237.4 931.5h4.1v8.5h-4.1zM1245.5 906h4.1v8.5h-4.1zM1253.7 948.5h4.1v8.5h-4.1zM1257.7 931.5h4.1v8.5h-4.1zM1261.8 948.5h4.1v8.5h-4.1zM1261.8 1084.3h4.1v8.5h-4.1zM1270 914.5h4.1v8.5h-4.1zM1270 1007.9h4.1v8.5h-4.1zM1270 1041.9h4.1v8.5h-4.1zM1270 1092.8h4.1v8.5h-4.1zM1274 914.5h4.1v17h-4.1zM1278.1 931.5h4.1v8.5h-4.1zM1294.4 1016.4h4.1v8.5h-4.1zM1298.4 940h4.1v8.5h-4.1zM1302.5 931.5h4.1v8.5h-4.1zM1306.6 889h4.1v8.5h-4.1zM1310.7 1109.8h4.1v8.5h-4.1zM1314.7 957h4.1v8.5h-4.1zM1326.9 906h4.1v8.5h-4.1zM1326.9 923h4.1v8.5h-4.1zM1331 880.5h4.1v8.5h-4.1zM1331 940h4.1v8.5h-4.1zM1339.1 906h4.1v25.5h-4.1zM1343.2 1007.9h4.1v17h-4.1zM1351.4 1067.3h4.1v8.5h-4.1zM1355.4 897.5h4.1v8.5h-4.1zM1355.4 931.5h4.1v8.5h-4.1zM1355.4 973.9h4.1v8.5h-4.1zM1359.5 957h4.1v8.5h-4.1zM1363.6 931.5h4.1v8.5h-4.1zM1363.6 1016.4h4.1v8.5h-4.1zM1363.6 1041.9h4.1v8.5h-4.1zM1367.6 923h4.1v8.5h-4.1zM1367.6 973.9h4.1v8.5h-4.1zM1367.6 1007.9h4.1v8.5h-4.1z"/>
<path fill="#0033ff" d="M1115.3 1118.3h4.1v8.5h-4.1zM1123.4 1135.2h4.1v8.5h-4.1zM1135.6 1007.9h4.1v8.5h-4.1zM1139.7 1033.4h4.1v8.5h-4.1zM1151.9 965.4h4.1v8.5h-4.1zM1156 973.9h4.1v8.5h-4.1zM1164.1 1007.9h4.1v8.5h-4.1zM1204.8 999.4h4.1v8.5h-4.1zM1221.1 906h4.1v8.5h-4.1zM1221.1 940h4.1v8.5h-4.1zM1229.2 914.5h4.1v8.5h-4.1zM1229.2 948.5h4.1v8.5h-4.1zM1229.2 1016.4h4.1v8.5h-4.1zM1233.3 914.5h4.1v25.5h-4.1zM1237.4 914.5h4.1v8.5h-4.1zM1237.4 948.5h4.1v8.5h-4.1zM1245.5 999.4h4.1v8.5h-4.1zM1249.6 990.9h4.1v8.5h-4.1zM1253.7 914.5h4.1v8.5h-4.1zM1265.9 990.9h4.1v8.5h-4.1zM1270 1058.8h4.1v8.5h-4.1zM1274 931.5h4.1v8.5h-4.1zM1278.1 940h4.1v8.5h-4.1zM1286.2 923h4.1v8.5h-4.1zM1286.2 948.5h4.1v8.5h-4.1zM1286.2 965.4h4.1v8.5h-4.1zM1290.3 923h4.1v8.5h-4.1zM1298.4 914.5h4.1v17h-4.1zM1306.6 906h4.1v17h-4.1zM1310.7 906h4.1v8.5h-4.1zM1314.7 923h4.1v8.5h-4.1zM1314.7 1092.8h4.1v8.5h-4.1zM1318.8 923h4.1v8.5h-4.1zM1322.9 940h4.1v8.5h-4.1zM1322.9 1118.3h4.1v8.5h-4.1zM1331 923h4.1v8.5h-4.1zM1335.1 923h4.1v8.5h-4.1zM1339.1 931.5h4.1v8.5h-4.1zM1343.2 897.5h4.1v8.5h-4.1zM1343.2 1101.3h4.1v8.5h-4.1zM1347.3 982.4h4.1v8.5h-4.1zM1347.3 1109.8h4.1v8.5h-4.1zM1351.4 1101.3h4.1v8.5h-4.1zM1355.4 923h4.1v8.5h-4.1zM1359.5 880.5h4.1v8.5h-4.1zM1359.5 914.5h4.1v8.5h-4.1zM1359.5 940h4.1v8.5h-4.1zM1359.5 1092.8h4.1v8.5h-4.1zM1363.6 914.5h4.1v8.5h-4.1zM1363.6 1101.3h4.1v8.5h-4.1z"/>
<path fill="#7300ff" d="M1119.4 1075.8h4.1v8.5h-4.1zM1123.4 1007.9h4.1v8.5h-4.1zM1127.5 889h4.1v8.5h-4.1zM1127.5 940h4.1v8.5h-4.1zM1131.6 880.5h4.1v8.5h-4.1zM1131.6 897.5h4.1v8.5h-4.1zM1131.6 923h4.1v8.5h-4.1zM1135.6 880.5h4.1v8.5h-4.1zM1139.7 855.1h4.1v17h-4.1zM1143.8 863.6h4.1v8.5h-4.1zM1143.8 906h4.1v8.5h-4.1zM1147.8 846.6h4.1v8.5h-4.1zM1147.8 880.5h4.1v8.5h-4.1zM1147.8 906h4.1v8.5h-4.1zM1151.9 855.1h4.1v8.5h-4.1zM1156 846.6h4.1v8.5h-4.1zM1160.1 863.6h4.1v8.5h-4.1zM1160.1 880.5h4.1v17h-4.1zM1164.1 914.5h4.1v8.5h-4.1zM1168.2 1092.8h4.1v8.5h-4.1zM1196.7 880.5h4.1v8.5h-4.1zM1196.7 914.5h4.1v8.5h-4.1zM1196.7 931.5h4.1v8.5h-4.1zM1200.8 829.6h4.1v17h-4.1zM1204.8 787.2h4.1v42.4h-4.1zM1208.9 710.7h4.1v17h-4.1zM1208.9 736.2h4.1v25.5h-4.1zM1213 710.7h4.1v17h-4.1zM1213 736.2h4.1v17h-4.1zM1217 753.2h4.1v17h-4.1zM1225.2 693.8h4.1v17h-4.1zM1229.2 702.2h4.1v8.5h-4.1zM1233.3 719.2h4.1v8.5h-4.1z"/>
<path fill="#000dff" d="M1119.4 1152.2h4.1v8.5h-4.1zM1151.9 957h4.1v8.5h-4.1zM1151.9 973.9h4.1v8.5h-4.1zM1156 948.5h4.1v8.5h-4.1zM1156 990.9h4.1v8.5h-4.1zM1156 1067.3h4.1v8.5h-4.1zM1160.1 982.4h4.1v17h-4.1zM1160.1 1007.9h4.1v8.5h-4.1zM1164.1 999.4h4.1v8.5h-4.1zM1164.1 1024.9h4.1v8.5h-4.1zM1196.7 1075.8h4.1v8.5h-4.1zM1196.7 1092.8h4.1v8.5h-4.1zM1200.8 923h4.1v8.5h-4.1zM1200.8 982.4h4.1v8.5h-4.1zM1204.8 957h4.1v8.5h-4.1zM1217 1033.4h4.1v8.5h-4.1zM1221.1 880.5h4.1v8.5h-4.1zM1225.2 906h4.1v8.5h-4.1zM1233.3 880.5h4.1v17h-4.1zM1237.4 906h4.1v8.5h-4.1zM1253.7 889h4.1v8.5h-4.1zM1261.8 923h4.1v8.5h-4.1zM1265.9 897.5h4.1v17h-4.1zM1274 906h4.1v8.5h-4.1zM1286.2 872h4.1v8.5h-4.1zM1290.3 872h4.1v25.5h-4.1zM1294.4 872h4.1v17h-4.1zM1298.4 897.5h4.1v8.5h-4.1zM1306.6 872h4.1v17h-4.1zM1310.7 863.6h4.1v25.5h-4.1zM1314.7 889h4.1v8.5h-4.1zM1314.7 931.5h4.1v8.5h-4.1zM1318.8 889h4.1v17h-4.1zM1318.8 914.5h4.1v8.5h-4.1zM1322.9 897.5h4.1v8.5h-4.1zM1331 855.1h4.1v17h-4.1zM1335.1 880.5h4.1v8.5h-4.1zM1335.1 897.5h4.1v8.5h-4.1zM1339.1 863.6h4.1v17h-4.1zM1343.2 863.6h4.1v8.5h-4.1zM1343.2 880.5h4.1v8.5h-4.1zM1343.2 906h4.1v17h-4.1zM1355.4 906h4.1v8.5h-4.1zM1363.6 906h4.1v8.5h-4.1zM1363.6 1024.9h4.1v8.5h-4.1zM1367.6 880.5h4.1v8.5h-4.1zM1367.6 1067.3h4.1v8.5h-4.1z"/>
<path fill="#ffbf00" d="M1123.4 1160.7h4.1v8.5h-4.1z"/>
<path fill="#0026ff" d="M1127.5 1084.3h4.1v8.5h-4.1zM1160.1 965.4h4.1v17h-4.1zM1160.1 1024.9h4.1v8.5h-4.1zM1200.8 948.5h4.1v8.5h-4.1zM1204.8 973.9h4.1v8.5h-4.1zM1213 914.5h4.1v17h-4.1zM1217 990.9h4.1v8.5h-4.1zM1217 1118.3h4.1v8.5h-4.1zM1221.1 914.5h4.1v8.5h-4.1zM1221.1 931.5h4.1v8.5h-4.1zM1221.1 973.9h4.1v8.5h-4.1zM1225.2 948.5h4.1v8.5h-4.1zM1233.3 906h4.1v8.5h-4.1zM1233.3 948.5h4.1v8.5h-4.1zM1249.6 914.5h4.1v8.5h-4.1zM1249.6 948.5h4.1v8.5h-4.1zM1253.7 897.5h4.1v8.5h-4.1zM1253.7 931.5h4.1v8.5h-4.1zM1261.8 914.5h4.1v8.5h-4.1zM1261.8 1050.3h4.1v8.5h-4.1zM1270 923h4.1v8.5h-4.1zM1274 880.5h4.1v17h-4.1zM1278.1 906h4.1v8.5h-4.1zM1282.2 889h4.1v8.5h-4.1zM1282.2 906h4.1v8.5h-4.1zM1282.2 923h4.1v8.5h-4.1zM1286.2 906h4.1v8.5h-4.1zM1290.3 906h4.1v8.5h-4.1zM1294.4 897.5h4.1v25.5h-4.1zM1294.4 931.5h4.1v8.5h-4.1zM1298.4 880.5h4.1v17h-4.1zM1302.5 906h4.1v8.5h-4.1zM1306.6 897.5h4.1v8.5h-4.1zM1310.7 897.5h4.1v8.5h-4.1zM1314.7 906h4.1v8.5h-4.1zM1314.7 948.5h4.1v8.5h-4.1zM1318.8 931.5h4.1v8.5h-4.1zM1318.8 948.5h4.1v8.5h-4.1zM1326.9 880.5h4.1v25.5h-4.1zM1326.9 1092.8h4.1v8.5h-4.1zM1331 897.5h4.1v8.5h-4.1zM1335.1 906h4.1v8.5h-4.1zM1339.1 897.5h4.1v8.5h-4.1zM1347.3 897.5h4.1v8.5h-4.1zM1347.3 914.5h4.1v25.5h-4.1zM1347.3 1050.3h4.1v8.5h-4.1zM1351.4 914.5h4.1v8.5h-4.1zM1355.4 889h4.1v8.5h-4.1zM1359.5 923h4.1v8.5h-4.1zM1367.6 931.5h4.1v8.5h-4.1z"/>
<path fill="#008cff" d="M1131.6 1118.3h4.1v8.5h-4.1zM1156 1075.8h4.1v8.5h-4.1zM1160.1 1092.8h4.1v8.5h-4.1zM1164.1 1092.8h4.1v8.5h-4.1zM1204.8 1016.4h4.1v8.5h-4.1zM1204.8 1050.3h4.1v8.5h-4.1zM1217 999.4h4.1v8.5h-4.1zM1221.1 982.4h4.1v8.5h-4.1zM1221.1 1050.3h4.1v8.5h-4.1zM1225.2 999.4h4.1v8.5h-4.1zM1229.2 1109.8h4.1v8.5h-4.1zM1237.4 1024.9h4.1v8.5h-4.1zM1241.5 1041.9h4.1v8.5h-4.1zM1245.5 940h4.1v8.5h-4.1zM1245.5 1024.9h4.1v8.5h-4.1zM1257.7 999.4h4.1v8.5h-4.1zM1257.7 1024.9h4.1v8.5h-4.1zM1257.7 1092.8h4.1v8.5h-4.1zM1261.8 1101.3h4.1v8.5h-4.1zM1265.9 1007.9h4.1v8.5h-4.1zM1270 1126.8h4.1v8.5h-4.1zM1274 940h4.1v8.5h-4.1zM1274 957h4.1v8.5h-4.1zM1278.1 965.4h4.1v8.5h-4.1zM1278.1 1033.4h4.1v8.5h-4.1zM1278.1 1160.7h4.1v8.5h-4.1zM1282.2 973.9h4.1v8.5h-4.1zM1282.2 1024.9h4.1v8.5h-4.1zM1286.2 957h4.1v8.5h-4.1zM1290.3 957h4.1v8.5h-4.1zM1290.3 1109.8h4.1v8.5h-4.1zM1294.4 999.4h4.1v8.5h-4.1zM1298.4 1135.2h4.1v8.5h-4.1zM1302.5 999.4h4.1v8.5h-4.1zM1306.6 923h4.1v8.5h-4.1zM1310.7 1075.8h4.1v8.5h-4.1zM1310.7 1118.3h4.1v8.5h-4.1zM1314.7 940h4.1v8.5h-4.1zM1314.7 965.4h4.1v8.5h-4.1zM1314.7 1007.9h4.1v8.5h-4.1zM1314.7 1050.3h4.1v8.5h-4.1zM1318.8 982.4h4.1v8.5h-4.1zM1318.8 1067.3h4.1v8.5h-4.1zM1322.9 1075.8h4.1v8.5h-4.1zM1326.9 957h4.1v8.5h-4.1zM1326.9 1007.9h4.1v8.5h-4.1zM1331 1041.9h4.1v8.5h-4.1zM1335.1 957h4.1v8.5h-4.1zM1339.1 948.5h4.1v8.5h-4.1zM1343.2 999.4h4.1v8.5h-4.1zM1347.3 948.5h4.1v8.5h-4.1zM1355.4 948.5h4.1v8.5h-4.1zM1359.5 1024.9h4.1v8.5h-4.1zM1359.5 1050.3h4.1v8.5h-4.1zM1363.6 1067.3h4.1v8.5h-4.1zM1363.6 1126.8h4.1v8.5h-4.1zM1367.6 1135.2h4.1v8.5h-4.1z"/>
<path fill="#004cff" d="M1135.6 1160.7h4.1v8.5h-4.1zM1160.1 1016.4h4.1v8.5h-4.1zM1200.8 1092.8h4.1v8.5h-4.1zM1204.8 1007.9h4.1v8.5h-4.1zM1208.9 973.9h4.1v17h-4.1zM1213 982.4h4.1v8.5h-4.1zM1213 1024.9h4.1v8.5h-4.1zM1217 957h4.1v8.5h-4.1zM1221.1 948.5h4.1v8.5h-4.1zM1225.2 923h4.1v8.5h-4.1zM1229.2 1135.2h4.1v8.5h-4.1zM1233.3 957h4.1v8.5h-4.1zM1237.4 1075.8h4.1v8.5h-4.1zM1241.5 931.5h4.1v8.5h-4.1zM1241.5 957h4.1v17h-4.1zM1245.5 923h4.1v8.5h-4.1zM1249.6 940h4.1v8.5h-4.1zM1249.6 1109.8h4.1v8.5h-4.1zM1265.9 973.9h4.1v8.5h-4.1zM1270 931.5h4.1v8.5h-4.1zM1270 1016.4h4.1v8.5h-4.1zM1282.2 914.5h4.1v8.5h-4.1zM1282.2 940h4.1v8.5h-4.1zM1294.4 923h4.1v8.5h-4.1zM1302.5 982.4h4.1v8.5h-4.1zM1306.6 973.9h4.1v8.5h-4.1zM1310.7 914.5h4.1v8.5h-4.1zM1314.7 1024.9h4.1v8.5h-4.1zM1314.7 1067.3h4.1v17h-4.1zM1318.8 940h4.1v8.5h-4.1zM1322.9 914.5h4.1v8.5h-4.1zM1326.9 1143.7h4.1v8.5h-4.1zM1335.1 914.5h4.1v8.5h-4.1zM1339.1 982.4h4.1v8.5h-4.1zM1343.2 1092.8h4.1v8.5h-4.1zM1347.3 999.4h4.1v8.5h-4.1zM1351.4 931.5h4.1v8.5h-4.1zM1355.4 940h4.1v8.5h-4.1zM1359.5 906h4.1v8.5h-4.1zM1363.6 948.5h4.1v8.5h-4.1zM1363.6 999.4h4.1v8.5h-4.1zM1367.6 940h4.1v8.5h-4.1zM1367.6 965.4h4.1v8.5h-4.1zM1367.6 990.9h4.1v8.5h-4.1zM1367.6 1050.3h4.1v8.5h-4.1z"/>
<path fill="#00ffd9" d="M1147.8 1135.2h4.1v8.5h-4.1zM1156 1109.8h4.1v8.5h-4.1zM1156 1143.7h4.1v8.5h-4.1zM1164.1 1152.2h4.1v8.5h-4.1zM1188.5 1126.8h4.1v8.5h-4.1zM1192.6 1109.8h4.1v8.5h-4.1zM1192.6 1135.2h4.1v8.5h-4.1zM1192.6 1152.2h4.1v8.5h-4.1zM1196.7 1126.8h4.1v17h-4.1zM1200.8 1084.3h4.1v8.5h-4.1zM1213 1152.2h4.1v8.5h-4.1zM1217 1109.8h4.1v8.5h-4.1zM1221.1 1118.3h4.1v8.5h-4.1zM1225.2 1135.2h4.1v8.5h-4.1zM1233.3 1109.8h4.1v8.5h-4.1zM1237.4 999.4h4.1v8.5h-4.1zM1249.6 1075.8h4.1v8.5h-4.1zM1249.6 1143.7h4.1v8.5h-4.1zM1253.7 1135.2h4.1v8.5h-4.1zM1257.7 1126.8h4.1v8.5h-4.1zM1261.8 1075.8h4.1v8.5h-4.1zM1261.8 1109.8h4.1v8.5h-4.1zM1261.8 1160.7h4.1v8.5h-4.1zM1270 1143.7h4.1v8.5h-4.1zM1274 1058.8h4.1v8.5h-4.1zM1274 1126.8h4.1v8.5h-4.1zM1282.2 1041.9h4.1v8.5h-4.1zM1286.2 1016.4h4.1v8.5h-4.1zM1290.3 1135.2h4.1v8.5h-4.1zM1294.4 973.9h4.1v8.5h-4.1zM1294.4 1050.3h4.1v8.5h-4.1zM1294.4 1152.2h4.1v8.5h-4.1zM1298.4 1084.3h4.1v8.5h-4.1zM1298.4 1143.7h4.1v17h-4.1zM1306.6 1041.9h4.1v17h-4.1zM1306.6 1075.8h4.1v8.5h-4.1zM1310.7 999.4h4.1v8.5h-4.1zM1310.7 1092.8h4.1v8.5h-4.1zM1322.9 1024.9h4.1v8.5h-4.1zM1322.9 1143.7h4.1v8.5h-4.1zM1331 1075.8h4.1v17h-4.1zM1331 1118.3h4.1v17h-4.1zM1335.1 1118.3h4.1v8.5h-4.1zM1343.2 1033.4h4.1v8.5h-4.1zM1347.3 1152.2h4.1v8.5h-4.1zM1355.4 1075.8h4.1v8.5h-4.1zM1355.4 1109.8h4.1v17h-4.1z"/>
<path fill="#0073ff" d="M1151.9 1109.8h4.1v8.5h-4.1zM1204.8 1024.9h4.1v8.5h-4.1zM1208.9 1024.9h4.1v8.5h-4.1zM1208.9 1058.8h4.1v8.5h-4.1zM1213 999.4h4.1v8.5h-4.1zM1213 1058.8h4.1v17h-4.1zM1217 1084.3h4.1v8.5h-4.1zM1221.1 1058.8h4.1v8.5h-4.1zM1225.2 1126.8h4.1v8.5h-4.1zM1229.2 973.9h4.1v8.5h-4.1zM1229.2 1084.3h4.1v8.5h-4.1zM1233.3 965.4h4.1v8.5h-4.1zM1241.5 914.5h4.1v8.5h-4.1zM1249.6 957h4.1v8.5h-4.1zM1249.6 1050.3h4.1v8.5h-4.1zM1253.7 940h4.1v8.5h-4.1zM1253.7 1067.3h4.1v8.5h-4.1zM1257.7 965.4h4.1v17h-4.1zM1261.8 940h4.1v8.5h-4.1zM1261.8 1024.9h4.1v8.5h-4.1zM1265.9 957h4.1v8.5h-4.1zM1265.9 982.4h4.1v8.5h-4.1zM1265.9 1067.3h4.1v8.5h-4.1zM1298.4 948.5h4.1v17h-4.1zM1298.4 1075.8h4.1v8.5h-4.1zM1302.5 1024.9h4.1v8.5h-4.1zM1302.5 1135.2h4.1v8.5h-4.1zM1310.7 948.5h4.1v8.5h-4.1zM1310.7 1084.3h4.1v8.5h-4.1zM1314.7 973.9h4.1v8.5h-4.1zM1314.7 1033.4h4.1v8.5h-4.1zM1318.8 1016.4h4.1v8.5h-4.1zM1318.8 1050.3h4.1v8.5h-4.1zM1318.8 1075.8h4.1v8.5h-4.1zM1322.9 1016.4h4.1v8.5h-4.1zM1326.9 940h4.1v8.5h-4.1zM1335.1 1075.8h4.1v8.5h-4.1zM1339.1 1084.3h4.1v8.5h-4.1zM1343.2 965.4h4.1v17h-4.1zM1343.2 1050.3h4.1v8.5h-4.1zM1351.4 982.4h4.1v8.5h-4.1zM1351.4 1024.9h4.1v8.5h-4.1zM1359.5 948.5h4.1v8.5h-4.1zM1359.5 982.4h4.1v8.5h-4.1zM1359.5 1101.3h4.1v8.5h-4.1z"/>
<path fill="#00ccff" d="M1156 1084.3h4.1v8.5h-4.1zM1200.8 1033.4h4.1v8.5h-4.1zM1208.9 1033.4h4.1v8.5h-4.1zM1208.9 1084.3h4.1v8.5h-4.1zM1213 1101.3h4.1v8.5h-4.1zM1217 1092.8h4.1v8.5h-4.1zM1221.1 1033.4h4.1v8.5h-4.1zM1225.2 990.9h4.1v8.5h-4.1zM1225.2 1007.9h4.1v8.5h-4.1zM1225.2 1033.4h4.1v8.5h-4.1zM1233.3 1033.4h4.1v8.5h-4.1zM1237.4 965.4h4.1v8.5h-4.1zM1237.4 1058.8h4.1v8.5h-4.1zM1237.4 1135.2h4.1v8.5h-4.1zM1241.5 999.4h4.1v8.5h-4.1zM1241.5 1084.3h4.1v8.5h-4.1zM1245.5 965.4h4.1v8.5h-4.1zM1245.5 1050.3h4.1v8.5h-4.1zM1249.6 982.4h4.1v8.5h-4.1zM1249.6 1024.9h4.1v8.5h-4.1zM1253.7 982.4h4.1v8.5h-4.1zM1257.7 982.4h4.1v8.5h-4.1zM1261.8 999.4h4.1v8.5h-4.1zM1265.9 1016.4h4.1v8.5h-4.1zM1265.9 1033.4h4.1v8.5h-4.1zM1265.9 1050.3h4.1v17h-4.1zM1270 990.9h4.1v8.5h-4.1zM1270 1135.2h4.1v8.5h-4.1zM1274 1092.8h4.1v8.5h-4.1zM1278.1 1024.9h4.1v8.5h-4.1zM1278.1 1118.3h4.1v8.5h-4.1zM1286.2 1007.9h4.1v8.5h-4.1zM1290.3 965.4h4.1v8.5h-4.1zM1290.3 1024.9h4.1v8.5h-4.1zM1294.4 1101.3h4.1v8.5h-4.1zM1298.4 1101.3h4.1v8.5h-4.1zM1306.6 948.5h4.1v8.5h-4.1zM1306.6 999.4h4.1v8.5h-4.1zM1306.6 1033.4h4.1v8.5h-4.1zM1306.6 1067.3h4.1v8.5h-4.1zM1306.6 1126.8h4.1v8.5h-4.1zM1310.7 973.9h4.1v8.5h-4.1zM1314.7 1041.9h4.1v8.5h-4.1zM1314.7 1101.3h4.1v8.5h-4.1zM1322.9 1041.9h4.1v8.5h-4.1zM1322.9 1109.8h4.1v8.5h-4.1zM1322.9 1152.2h4.1v8.5h-4.1zM1326.9 982.4h4.1v8.5h-4.1zM1326.9 1058.8h4.1v17h-4.1zM1326.9 1109.8h4.1v8.5h-4.1zM1331 965.4h4.1v8.5h-4.1zM1331 1024.9h4.1v8.5h-4.1zM1335.1 982.4h4.1v8.5h-4.1zM1339.1 1058.8h4.1v8.5h-4.1zM1339.1 1075.8h4.1v8.5h-4.1zM1339.1 1152.2h4.1v8.5h-4.1zM1351.4 1075.8h4.1v8.5h-4.1zM1355.4 1092.8h4.1v8.5h-4.1zM1359.5 1126.8h4.1v8.5h-4.1zM1363.6 1092.8h4.1v8.5h-4.1zM1367.6 982.4h4.1v8.5h-4.1zM1367.6 1024.9h4.1v8.5h-4.1z"/>
<path fill="#00d9ff" d="M1156 1092.8h4.1v8.5h-4.1zM1160.1 1118.3h4.1v8.5h-4.1zM1208.9 1007.9h4.1v8.5h-4.1zM1217 1075.8h4.1v8.5h-4.1zM1221.1 990.9h4.1v17h-4.1zM1221.1 1135.2h4.1v8.5h-4.1zM1225.2 1050.3h4.1v8.5h-4.1zM1225.2 1092.8h4.1v8.5h-4.1zM1233.3 1050.3h4.1v8.5h-4.1zM1241.5 1050.3h4.1v8.5h-4.1zM1249.6 1007.9h4.1v8.5h-4.1zM1253.7 1118.3h4.1v8.5h-4.1zM1257.7 1058.8h4.1v8.5h-4.1zM1261.8 1016.4h4.1v8.5h-4.1zM1270 973.9h4.1v8.5h-4.1zM1270 1067.3h4.1v8.5h-4.1zM1274 1024.9h4.1v8.5h-4.1zM1278.1 1016.4h4.1v8.5h-4.1zM1286.2 982.4h4.1v8.5h-4.1zM1286.2 1041.9h4.1v8.5h-4.1zM1286.2 1160.7h4.1v8.5h-4.1zM1294.4 1041.9h4.1v8.5h-4.1zM1302.5 990.9h4.1v8.5h-4.1zM1306.6 1084.3h4.1v8.5h-4.1zM1310.7 1024.9h4.1v8.5h-4.1zM1310.7 1135.2h4.1v8.5h-4.1zM1318.8 965.4h4.1v17h-4.1zM1318.8 1084.3h4.1v8.5h-4.1zM1318.8 1160.7h4.1v8.5h-4.1zM1322.9 999.4h4.1v8.5h-4.1zM1326.9 1075.8h4.1v8.5h-4.1zM1331 1067.3h4.1v8.5h-4.1zM1331 1101.3h4.1v8.5h-4.1zM1331 1143.7h4.1v8.5h-4.1zM1335.1 1101.3h4.1v8.5h-4.1zM1335.1 1152.2h4.1v8.5h-4.1zM1339.1 1007.9h4.1v8.5h-4.1zM1339.1 1135.2h4.1v8.5h-4.1zM1343.2 1067.3h4.1v8.5h-4.1zM1347.3 1143.7h4.1v8.5h-4.1zM1363.6 1084.3h4.1v8.5h-4.1zM1367.6 1041.9h4.1v8.5h-4.1zM1033.9 1084.3h4.1v8.5h-4.1z"/>
<path fill="#00ffbf" d="M1156 1101.3h4.1v8.5h-4.1zM1160.1 1135.2h4.1v8.5h-4.1zM1160.1 1152.2h4.1v8.5h-4.1zM1164.1 1143.7h4.1v8.5h-4.1zM1172.3 1109.8h4.1v8.5h-4.1zM1172.3 1143.7h4.1v8.5h-4.1zM1176.3 1118.3h4.1v8.5h-4.1zM1180.4 1109.8h4.1v8.5h-4.1zM1217 1135.2h4.1v8.5h-4.1zM1221.1 1143.7h4.1v8.5h-4.1zM1225.2 1152.2h4.1v8.5h-4.1zM1229.2 1058.8h4.1v8.5h-4.1zM1233.3 1075.8h4.1v8.5h-4.1zM1237.4 1126.8h4.1v8.5h-4.1zM1265.9 1084.3h4.1v8.5h-4.1zM1265.9 1135.2h4.1v17h-4.1zM1270 1050.3h4.1v8.5h-4.1zM1282.2 1135.2h4.1v8.5h-4.1zM1286.2 1033.4h4.1v8.5h-4.1zM1290.3 1067.3h4.1v8.5h-4.1zM1290.3 1118.3h4.1v8.5h-4.1zM1294.4 1135.2h4.1v8.5h-4.1zM1310.7 1058.8h4.1v8.5h-4.1zM1310.7 1160.7h4.1v8.5h-4.1zM1318.8 1101.3h4.1v8.5h-4.1zM1318.8 1135.2h4.1v8.5h-4.1zM1322.9 1160.7h4.1v8.5h-4.1zM1326.9 1101.3h4.1v8.5h-4.1zM1359.5 1067.3h4.1v8.5h-4.1zM1367.6 1152.2h4.1v8.5h-4.1z"/>
<path fill="#00ffff" d="M1156 1118.3h4.1v8.5h-4.1zM1156 1160.7h4.1v8.5h-4.1zM1164.1 1126.8h4.1v8.5h-4.1zM1196.7 1109.8h4.1v8.5h-4.1zM1196.7 1143.7h4.1v8.5h-4.1zM1204.8 1143.7h4.1v8.5h-4.1zM1208.9 1143.7h4.1v8.5h-4.1zM1217 1126.8h4.1v8.5h-4.1zM1221.1 1084.3h4.1v8.5h-4.1zM1225.2 1101.3h4.1v8.5h-4.1zM1233.3 1101.3h4.1v8.5h-4.1zM1237.4 1033.4h4.1v8.5h-4.1zM1245.5 1016.4h4.1v8.5h-4.1zM1249.6 1067.3h4.1v8.5h-4.1zM1249.6 1160.7h4.1v8.5h-4.1zM1253.7 1033.4h4.1v8.5h-4.1zM1253.7 1092.8h4.1v8.5h-4.1zM1257.7 1101.3h4.1v17h-4.1zM1270 1033.4h4.1v8.5h-4.1zM1274 1033.4h4.1v8.5h-4.1zM1274 1109.8h4.1v8.5h-4.1zM1274 1160.7h4.1v8.5h-4.1zM1278.1 1050.3h4.1v8.5h-4.1zM1282.2 1058.8h4.1v8.5h-4.1zM1286.2 1143.7h4.1v8.5h-4.1zM1290.3 999.4h4.1v8.5h-4.1zM1290.3 1143.7h4.1v8.5h-4.1zM1294.4 1109.8h4.1v8.5h-4.1zM1298.4 1041.9h4.1v8.5h-4.1zM1298.4 1058.8h4.1v8.5h-4.1zM1302.5 1050.3h4.1v8.5h-4.1zM1302.5 1109.8h4.1v17h-4.1zM1306.6 990.9h4.1v8.5h-4.1zM1306.6 1109.8h4.1v8.5h-4.1zM1310.7 990.9h4.1v8.5h-4.1zM1310.7 1101.3h4.1v8.5h-4.1zM1314.7 1160.7h4.1v8.5h-4.1zM1326.9 1024.9h4.1v8.5h-4.1zM1339.1 1118.3h4.1v8.5h-4.1zM1343.2 990.9h4.1v8.5h-4.1zM1343.2 1041.9h4.1v8.5h-4.1zM1343.2 1075.8h4.1v8.5h-4.1zM1347.3 1126.8h4.1v8.5h-4.1zM1351.4 999.4h4.1v8.5h-4.1zM1351.4 1109.8h4.1v8.5h-4.1zM1359.5 1084.3h4.1v8.5h-4.1zM1359.5 1152.2h4.1v8.5h-4.1z"/>
<path fill="#00ffe5" d="M1156 1126.8h4.1v8.5h-4.1zM1188.5 1109.8h4.1v8.5h-4.1zM1192.6 1118.3h4.1v8.5h-4.1zM1196.7 1152.2h4.1v8.5h-4.1zM1200.8 1075.8h4.1v8.5h-4.1zM1208.9 1118.3h4.1v8.5h-4.1zM1225.2 1041.9h4.1v8.5h-4.1zM1233.3 1160.7h4.1v8.5h-4.1zM1245.5 1058.8h4.1v8.5h-4.1zM1257.7 1007.9h4.1v8.5h-4.1zM1257.7 1033.4h4.1v8.5h-4.1zM1261.8 1033.4h4.1v8.5h-4.1zM1261.8 1152.2h4.1v8.5h-4.1zM1265.9 1024.9h4.1v8.5h-4.1zM1278.1 990.9h4.1v8.5h-4.1zM1278.1 1007.9h4.1v8.5h-4.1zM1278.1 1058.8h4.1v8.5h-4.1zM1286.2 1101.3h4.1v8.5h-4.1zM1290.3 1007.9h4.1v8.5h-4.1zM1290.3 1050.3h4.1v8.5h-4.1zM1294.4 1092.8h4.1v8.5h-4.1zM1294.4 1143.7h4.1v8.5h-4.1zM1314.7 1118.3h4.1v8.5h-4.1zM1314.7 1143.7h4.1v8.5h-4.1zM1322.9 1126.8h4.1v8.5h-4.1zM1326.9 1160.7h4.1v8.5h-4.1zM1339.1 1126.8h4.1v8.5h-4.1z"/>
<path fill="#00fff2" d="M1156 1135.2h4.1v8.5h-4.1zM1192.6 1143.7h4.1v8.5h-4.1zM1200.8 1118.3h4.1v8.5h-4.1zM1204.8 1118.3h4.1v8.5h-4.1zM1208.9 1067.3h4.1v8.5h-4.1zM1208.9 1109.8h4.1v8.5h-4.1zM1208.9 1126.8h4.1v8.5h-4.1zM1213 1109.8h4.1v8.5h-4.1zM1221.1 1075.8h4.1v8.5h-4.1zM1225.2 1160.7h4.1v8.5h-4.1zM1229.2 1118.3h4.1v8.5h-4.1zM1241.5 1109.8h4.1v8.5h-4.1zM1249.6 1152.2h4.1v8.5h-4.1zM1261.8 1143.7h4.1v8.5h-4.1zM1274 1067.3h4.1v17h-4.1zM1282.2 1084.3h4.1v8.5h-4.1zM1282.2 1160.7h4.1v8.5h-4.1zM1290.3 1016.4h4.1v8.5h-4.1zM1290.3 1084.3h4.1v8.5h-4.1zM1294.4 1024.9h4.1v8.5h-4.1zM1298.4 1007.9h4.1v17h-4.1zM1302.5 1101.3h4.1v8.5h-4.1zM1306.6 1058.8h4.1v8.5h-4.1zM1306.6 1143.7h4.1v8.5h-4.1zM1306.6 1160.7h4.1v8.5h-4.1zM1314.7 1126.8h4.1v8.5h-4.1zM1322.9 1084.3h4.1v8.5h-4.1zM1326.9 1118.3h4.1v8.5h-4.1zM1331 1016.4h4.1v8.5h-4.1zM1339.1 1109.8h4.1v8.5h-4.1zM1351.4 1143.7h4.1v8.5h-4.1zM1355.4 1160.7h4.1v8.5h-4.1zM1359.5 1160.7h4.1v8.5h-4.1zM1363.6 1152.2h4.1v17h-4.1z"/>
<path fill="#00a6ff" d="M1160.1 1101.3h4.1v8.5h-4.1zM1164.1 1067.3h4.1v8.5h-4.1zM1180.4 1118.3h4.1v8.5h-4.1zM1196.7 1101.3h4.1v8.5h-4.1zM1196.7 1118.3h4.1v8.5h-4.1zM1213 1007.9h4.1v8.5h-4.1zM1217 1024.9h4.1v8.5h-4.1zM1225.2 1084.3h4.1v8.5h-4.1zM1229.2 1033.4h4.1v8.5h-4.1zM1229.2 1075.8h4.1v8.5h-4.1zM1233.3 1016.4h4.1v8.5h-4.1zM1237.4 957h4.1v8.5h-4.1zM1237.4 1067.3h4.1v8.5h-4.1zM1241.5 973.9h4.1v8.5h-4.1zM1261.8 982.4h4.1v8.5h-4.1zM1265.9 948.5h4.1v8.5h-4.1zM1265.9 999.4h4.1v8.5h-4.1zM1270 957h4.1v8.5h-4.1zM1270 982.4h4.1v8.5h-4.1zM1274 1084.3h4.1v8.5h-4.1zM1278.1 948.5h4.1v8.5h-4.1zM1282.2 957h4.1v8.5h-4.1zM1290.3 982.4h4.1v8.5h-4.1zM1294.4 1058.8h4.1v8.5h-4.1zM1298.4 965.4h4.1v8.5h-4.1zM1302.5 1058.8h4.1v8.5h-4.1zM1306.6 965.4h4.1v8.5h-4.1zM1306.6 1101.3h4.1v8.5h-4.1zM1310.7 940h4.1v8.5h-4.1zM1314.7 982.4h4.1v25.5h-4.1zM1314.7 1152.2h4.1v8.5h-4.1zM1318.8 1024.9h4.1v8.5h-4.1zM1318.8 1109.8h4.1v17h-4.1zM1331 973.9h4.1v8.5h-4.1zM1331 1033.4h4.1v8.5h-4.1zM1335.1 999.4h4.1v17h-4.1zM1335.1 1041.9h4.1v8.5h-4.1zM1339.1 957h4.1v8.5h-4.1zM1339.1 973.9h4.1v8.5h-4.1zM1339.1 1016.4h4.1v17h-4.1zM1339.1 1092.8h4.1v17h-4.1zM1347.3 1024.9h4.1v8.5h-4.1zM1347.3 1067.3h4.1v8.5h-4.1zM1351.4 1033.4h4.1v8.5h-4.1zM1351.4 1092.8h4.1v8.5h-4.1zM1363.6 990.9h4.1v8.5h-4.1zM1367.6 1058.8h4.1v8.5h-4.1zM1367.6 1092.8h4.1v8.5h-4.1zM1367.6 1143.7h4.1v8.5h-4.1z"/>
<path fill="#00f2ff" d="M1160.1 1160.7h4.1v8.5h-4.1zM1200.8 1126.8h4.1v17h-4.1zM1204.8 1152.2h4.1v8.5h-4.1zM1217 1041.9h4.1v8.5h-4.1zM1217 1143.7h4.1v8.5h-4.1zM1229.2 1143.7h4.1v8.5h-4.1zM1233.3 1118.3h4.1v8.5h-4.1zM1237.4 1041.9h4.1v8.5h-4.1zM1245.5 982.4h4.1v8.5h-4.1zM1249.6 973.9h4.1v8.5h-4.1zM1249.6 1041.9h4.1v8.5h-4.1zM1253.7 1143.7h4.1v8.5h-4.1zM1257.7 1041.9h4.1v8.5h-4.1zM1261.8 1118.3h4.1v8.5h-4.1zM1265.9 1126.8h4.1v8.5h-4.1zM1265.9 1160.7h4.1v8.5h-4.1zM1270 1024.9h4.1v8.5h-4.1zM1270 1118.3h4.1v8.5h-4.1zM1274 1007.9h4.1v8.5h-4.1zM1282.2 1007.9h4.1v8.5h-4.1zM1282.2 1075.8h4.1v8.5h-4.1zM1282.2 1152.2h4.1v8.5h-4.1zM1286.2 1024.9h4.1v8.5h-4.1zM1286.2 1126.8h4.1v8.5h-4.1zM1290.3 1058.8h4.1v8.5h-4.1zM1294.4 1007.9h4.1v8.5h-4.1zM1298.4 1050.3h4.1v8.5h-4.1zM1310.7 982.4h4.1v8.5h-4.1zM1318.8 1152.2h4.1v8.5h-4.1zM1322.9 1033.4h4.1v8.5h-4.1zM1326.9 1033.4h4.1v8.5h-4.1zM1326.9 1126.8h4.1v8.5h-4.1zM1326.9 1152.2h4.1v8.5h-4.1zM1335.1 1024.9h4.1v8.5h-4.1zM1339.1 1160.7h4.1v8.5h-4.1zM1343.2 1135.2h4.1v8.5h-4.1zM1351.4 1007.9h4.1v8.5h-4.1zM1351.4 1058.8h4.1v8.5h-4.1zM1355.4 1050.3h4.1v17h-4.1zM1367.6 1101.3h4.1v17h-4.1z"/>
<path fill="#00ffcc" d="M1164.1 1118.3h4.1v8.5h-4.1zM1168.2 1109.8h4.1v8.5h-4.1zM1184.5 1109.8h4.1v8.5h-4.1zM1204.8 1160.7h4.1v8.5h-4.1zM1213 1075.8h4.1v8.5h-4.1zM1213 1118.3h4.1v8.5h-4.1zM1225.2 1109.8h4.1v8.5h-4.1zM1229.2 1024.9h4.1v8.5h-4.1zM1229.2 1092.8h4.1v8.5h-4.1zM1233.3 1152.2h4.1v8.5h-4.1zM1237.4 1101.3h4.1v8.5h-4.1zM1237.4 1152.2h4.1v8.5h-4.1zM1241.5 1101.3h4.1v8.5h-4.1zM1245.5 1092.8h4.1v17h-4.1zM1245.5 1135.2h4.1v17h-4.1zM1245.5 1160.7h4.1v8.5h-4.1zM1253.7 1050.3h4.1v8.5h-4.1zM1253.7 1084.3h4.1v8.5h-4.1zM1257.7 1135.2h4.1v8.5h-4.1zM1261.8 1126.8h4.1v8.5h-4.1zM1265.9 1101.3h4.1v8.5h-4.1zM1278.1 1084.3h4.1v8.5h-4.1zM1278.1 1101.3h4.1v8.5h-4.1zM1278.1 1143.7h4.1v8.5h-4.1zM1282.2 1101.3h4.1v8.5h-4.1zM1282.2 1118.3h4.1v8.5h-4.1zM1282.2 1143.7h4.1v8.5h-4.1zM1294.4 1118.3h4.1v8.5h-4.1zM1310.7 1041.9h4.1v8.5h-4.1zM1310.7 1152.2h4.1v8.5h-4.1zM1318.8 1007.9h4.1v8.5h-4.1zM1318.8 1041.9h4.1v8.5h-4.1zM1326.9 1084.3h4.1v8.5h-4.1zM1331 1007.9h4.1v8.5h-4.1zM1331 1058.8h4.1v8.5h-4.1zM1335.1 1143.7h4.1v8.5h-4.1zM1339.1 1050.3h4.1v8.5h-4.1zM1343.2 1152.2h4.1v8.5h-4.1zM1347.3 1135.2h4.1v8.5h-4.1zM1363.6 1109.8h4.1v8.5h-4.1z"/>
<path fill="#00ffb3" d="M1164.1 1160.7h4.1v8.5h-4.1zM1168.2 1118.3h4.1v8.5h-4.1zM1172.3 1126.8h4.1v8.5h-4.1zM1176.3 1135.2h4.1v8.5h-4.1zM1184.5 1118.3h4.1v17h-4.1zM1188.5 1118.3h4.1v8.5h-4.1zM1233.3 1143.7h4.1v8.5h-4.1zM1237.4 1143.7h4.1v8.5h-4.1zM1245.5 1118.3h4.1v8.5h-4.1zM1257.7 1118.3h4.1v8.5h-4.1zM1270 1160.7h4.1v8.5h-4.1zM1274 1101.3h4.1v8.5h-4.1zM1278.1 1067.3h4.1v8.5h-4.1zM1314.7 1135.2h4.1v8.5h-4.1zM1367.6 1160.7h4.1v8.5h-4.1z"/>
<path fill="#00ffa6" d="M1168.2 1143.7h4.1v8.5h-4.1zM1172.3 1118.3h4.1v8.5h-4.1zM1176.3 1160.7h4.1v8.5h-4.1zM1180.4 1143.7h4.1v8.5h-4.1zM1200.8 1109.8h4.1v8.5h-4.1zM1213 1160.7h4.1v8.5h-4.1zM1221.1 1152.2h4.1v8.5h-4.1zM1229.2 1126.8h4.1v8.5h-4.1zM1253.7 1126.8h4.1v8.5h-4.1zM1257.7 1143.7h4.1v17h-4.1zM1270 1084.3h4.1v8.5h-4.1zM1274 1050.3h4.1v8.5h-4.1zM1298.4 1092.8h4.1v8.5h-4.1zM1306.6 1024.9h4.1v8.5h-4.1zM1306.6 1118.3h4.1v8.5h-4.1zM1306.6 1152.2h4.1v8.5h-4.1z"/>
<path fill="#00ff8c" d="M1168.2 1152.2h4.1v17h-4.1zM1172.3 1152.2h4.1v17h-4.1zM1188.5 1152.2h4.1v8.5h-4.1zM1200.8 1152.2h4.1v8.5h-4.1zM1225.2 1118.3h4.1v8.5h-4.1zM1233.3 1084.3h4.1v8.5h-4.1zM1237.4 1118.3h4.1v8.5h-4.1zM1253.7 1041.9h4.1v8.5h-4.1zM1257.7 1067.3h4.1v8.5h-4.1zM1265.9 1152.2h4.1v8.5h-4.1zM1270 1101.3h4.1v8.5h-4.1zM1274 1152.2h4.1v8.5h-4.1zM1278.1 1041.9h4.1v8.5h-4.1zM1282.2 1067.3h4.1v8.5h-4.1zM1310.7 1143.7h4.1v8.5h-4.1zM1331 1050.3h4.1v8.5h-4.1zM1335.1 1160.7h4.1v8.5h-4.1zM1347.3 1160.7h4.1v8.5h-4.1z"/>
<path fill="#00ff00" d="M1176.3 1126.8h4.1v8.5h-4.1zM1180.4 1126.8h4.1v8.5h-4.1zM1184.5 1092.8h4.1v8.5h-4.1zM1192.6 1126.8h4.1v8.5h-4.1zM1217 1152.2h4.1v8.5h-4.1zM1221.1 1024.9h4.1v8.5h-4.1zM1241.5 1058.8h4.1v8.5h-4.1zM1278.1 1109.8h4.1v8.5h-4.1zM1298.4 1160.7h4.1v8.5h-4.1zM1306.6 1092.8h4.1v8.5h-4.1zM1335.1 1126.8h4.1v8.5h-4.1z"/>
<path fill="#00ff99" d="M1176.3 1152.2h4.1v8.5h-4.1zM1180.4 1135.2h4.1v8.5h-4.1zM1180.4 1160.7h4.1v8.5h-4.1zM1184.5 1135.2h4.1v8.5h-4.1zM1188.5 1135.2h4.1v8.5h-4.1zM1204.8 1126.8h4.1v8.5h-4.1zM1225.2 1075.8h4.1v8.5h-4.1zM1245.5 1067.3h4.1v8.5h-4.1zM1245.5 1152.2h4.1v8.5h-4.1zM1274 1016.4h4.1v8.5h-4.1zM1278.1 1126.8h4.1v17h-4.1zM1290.3 1126.8h4.1v8.5h-4.1zM1302.5 1143.7h4.1v17h-4.1zM1310.7 1126.8h4.1v8.5h-4.1zM1343.2 1143.7h4.1v8.5h-4.1zM1351.4 1152.2h4.1v8.5h-4.1zM1355.4 1007.9h4.1v8.5h-4.1z"/>
<path fill="#ff0059" d="M1184.5 1058.8h4.1v8.5h-4.1zM1282.2 1050.3h4.1v8.5h-4.1zM1017.6 1143.7h4.1v8.5h-4.1zM1017.6 1007.9h4.1v8.5h-4.1zM1021.7 999.4h4.1v8.5h-4.1zM1033.9 1016.4h4.1v8.5h-4.1z"/>
<path fill="#00ff66" d="M1184.5 1160.7h4.1v8.5h-4.1zM1196.7 1160.7h4.1v8.5h-4.1zM1225.2 1143.7h4.1v8.5h-4.1zM1253.7 1075.8h4.1v8.5h-4.1zM1274 1143.7h4.1v8.5h-4.1zM1282.2 1126.8h4.1v8.5h-4.1zM1286.2 1152.2h4.1v8.5h-4.1zM1290.3 1092.8h4.1v8.5h-4.1zM1290.3 1160.7h4.1v8.5h-4.1z"/>
<path fill="#00ff73" d="M1188.5 1160.7h4.1v8.5h-4.1zM1200.8 1160.7h4.1v8.5h-4.1zM1204.8 1135.2h4.1v8.5h-4.1zM1208.9 1160.7h4.1v8.5h-4.1zM1213 1126.8h4.1v8.5h-4.1zM1221.1 1126.8h4.1v8.5h-4.1zM1241.5 1160.7h4.1v8.5h-4.1zM1245.5 1126.8h4.1v8.5h-4.1zM1294.4 1160.7h4.1v8.5h-4.1zM1298.4 1033.4h4.1v8.5h-4.1zM1310.7 1050.3h4.1v8.5h-4.1zM1331 1160.7h4.1v8.5h-4.1zM1335.1 1109.8h4.1v8.5h-4.1z"/>
<path fill="#00ff59" d="M1196.7 1058.8h4.1v8.5h-4.1zM1213 1135.2h4.1v8.5h-4.1zM1221.1 1007.9h4.1v8.5h-4.1zM1245.5 1033.4h4.1v8.5h-4.1zM1347.3 1101.3h4.1v8.5h-4.1z"/>
<path fill="#0066ff" d="M1196.7 1067.3h4.1v8.5h-4.1zM1200.8 1024.9h4.1v8.5h-4.1zM1208.9 990.9h4.1v8.5h-4.1zM1213 965.4h4.1v8.5h-4.1zM1213 1016.4h4.1v8.5h-4.1zM1217 982.4h4.1v8.5h-4.1zM1217 1058.8h4.1v8.5h-4.1zM1221.1 957h4.1v8.5h-4.1zM1225.2 1067.3h4.1v8.5h-4.1zM1233.3 999.4h4.1v8.5h-4.1zM1241.5 940h4.1v8.5h-4.1zM1249.6 931.5h4.1v8.5h-4.1zM1253.7 973.9h4.1v8.5h-4.1zM1253.7 1007.9h4.1v8.5h-4.1zM1253.7 1160.7h4.1v8.5h-4.1zM1257.7 940h4.1v8.5h-4.1zM1257.7 990.9h4.1v8.5h-4.1zM1257.7 1160.7h4.1v8.5h-4.1zM1261.8 957h4.1v8.5h-4.1zM1261.8 990.9h4.1v8.5h-4.1zM1265.9 923h4.1v8.5h-4.1zM1270 940h4.1v8.5h-4.1zM1294.4 940h4.1v8.5h-4.1zM1294.4 982.4h4.1v8.5h-4.1zM1298.4 931.5h4.1v8.5h-4.1zM1298.4 999.4h4.1v8.5h-4.1zM1302.5 923h4.1v8.5h-4.1zM1302.5 940h4.1v8.5h-4.1zM1302.5 973.9h4.1v8.5h-4.1zM1306.6 957h4.1v8.5h-4.1zM1310.7 931.5h4.1v8.5h-4.1zM1318.8 1058.8h4.1v8.5h-4.1zM1318.8 1143.7h4.1v8.5h-4.1zM1322.9 923h4.1v8.5h-4.1zM1322.9 982.4h4.1v8.5h-4.1zM1322.9 1058.8h4.1v8.5h-4.1zM1326.9 931.5h4.1v8.5h-4.1zM1326.9 990.9h4.1v8.5h-4.1zM1331 914.5h4.1v8.5h-4.1zM1335.1 931.5h4.1v8.5h-4.1zM1339.1 965.4h4.1v8.5h-4.1zM1339.1 990.9h4.1v8.5h-4.1zM1343.2 931.5h4.1v8.5h-4.1zM1343.2 957h4.1v8.5h-4.1zM1347.3 973.9h4.1v8.5h-4.1zM1351.4 940h4.1v8.5h-4.1zM1351.4 957h4.1v17h-4.1zM1351.4 1041.9h4.1v8.5h-4.1zM1355.4 1143.7h4.1v8.5h-4.1zM1363.6 940h4.1v8.5h-4.1zM1363.6 973.9h4.1v8.5h-4.1zM1363.6 1007.9h4.1v8.5h-4.1zM1363.6 1135.2h4.1v8.5h-4.1z"/>
<path fill="#0099ff" d="M1200.8 1007.9h4.1v8.5h-4.1zM1200.8 1143.7h4.1v8.5h-4.1zM1204.8 1084.3h4.1v8.5h-4.1zM1217 1067.3h4.1v8.5h-4.1zM1221.1 1016.4h4.1v8.5h-4.1zM1229.2 999.4h4.1v8.5h-4.1zM1233.3 973.9h4.1v8.5h-4.1zM1233.3 1007.9h4.1v8.5h-4.1zM1237.4 1084.3h4.1v8.5h-4.1zM1241.5 990.9h4.1v8.5h-4.1zM1241.5 1033.4h4.1v8.5h-4.1zM1249.6 1033.4h4.1v8.5h-4.1zM1249.6 1092.8h4.1v17h-4.1zM1249.6 1126.8h4.1v8.5h-4.1zM1253.7 990.9h4.1v8.5h-4.1zM1257.7 948.5h4.1v8.5h-4.1zM1257.7 1075.8h4.1v8.5h-4.1zM1261.8 1058.8h4.1v8.5h-4.1zM1261.8 1092.8h4.1v8.5h-4.1zM1265.9 965.4h4.1v8.5h-4.1zM1265.9 1109.8h4.1v8.5h-4.1zM1270 948.5h4.1v8.5h-4.1zM1270 965.4h4.1v8.5h-4.1zM1270 1152.2h4.1v8.5h-4.1zM1274 1041.9h4.1v8.5h-4.1zM1274 1118.3h4.1v8.5h-4.1zM1278.1 1152.2h4.1v8.5h-4.1zM1286.2 1050.3h4.1v8.5h-4.1zM1286.2 1067.3h4.1v8.5h-4.1zM1290.3 973.9h4.1v8.5h-4.1zM1290.3 1033.4h4.1v8.5h-4.1zM1298.4 973.9h4.1v25.5h-4.1zM1302.5 948.5h4.1v8.5h-4.1zM1302.5 1016.4h4.1v8.5h-4.1zM1302.5 1075.8h4.1v8.5h-4.1zM1314.7 1084.3h4.1v8.5h-4.1zM1318.8 1033.4h4.1v8.5h-4.1zM1322.9 948.5h4.1v17h-4.1zM1322.9 990.9h4.1v8.5h-4.1zM1322.9 1101.3h4.1v8.5h-4.1zM1326.9 948.5h4.1v8.5h-4.1zM1326.9 973.9h4.1v8.5h-4.1zM1331 957h4.1v8.5h-4.1zM1335.1 940h4.1v8.5h-4.1zM1343.2 948.5h4.1v8.5h-4.1zM1343.2 1160.7h4.1v8.5h-4.1zM1347.3 965.4h4.1v8.5h-4.1zM1347.3 1033.4h4.1v8.5h-4.1zM1347.3 1118.3h4.1v8.5h-4.1zM1351.4 1016.4h4.1v8.5h-4.1zM1351.4 1135.2h4.1v8.5h-4.1zM1355.4 1126.8h4.1v8.5h-4.1zM1363.6 1058.8h4.1v8.5h-4.1zM1367.6 1084.3h4.1v8.5h-4.1z"/>
<path fill="#00b2ff" d="M1200.8 1016.4h4.1v8.5h-4.1zM1200.8 1058.8h4.1v8.5h-4.1zM1200.8 1101.3h4.1v8.5h-4.1zM1204.8 1067.3h4.1v8.5h-4.1zM1208.9 999.4h4.1v8.5h-4.1zM1208.9 1041.9h4.1v17h-4.1zM1208.9 1075.8h4.1v8.5h-4.1zM1213 990.9h4.1v8.5h-4.1zM1229.2 1050.3h4.1v8.5h-4.1zM1233.3 982.4h4.1v8.5h-4.1zM1237.4 973.9h4.1v17h-4.1zM1237.4 1050.3h4.1v8.5h-4.1zM1241.5 982.4h4.1v8.5h-4.1zM1241.5 1126.8h4.1v8.5h-4.1zM1245.5 973.9h4.1v8.5h-4.1zM1249.6 1084.3h4.1v8.5h-4.1zM1253.7 1058.8h4.1v8.5h-4.1zM1257.7 957h4.1v8.5h-4.1zM1261.8 973.9h4.1v8.5h-4.1zM1261.8 1135.2h4.1v8.5h-4.1zM1265.9 1092.8h4.1v8.5h-4.1zM1270 999.4h4.1v8.5h-4.1zM1270 1075.8h4.1v8.5h-4.1zM1270 1109.8h4.1v8.5h-4.1zM1274 965.4h4.1v17h-4.1zM1274 990.9h4.1v17h-4.1zM1278.1 999.4h4.1v8.5h-4.1zM1282.2 948.5h4.1v8.5h-4.1zM1282.2 1092.8h4.1v8.5h-4.1zM1286.2 1109.8h4.1v8.5h-4.1zM1290.3 1075.8h4.1v8.5h-4.1zM1294.4 990.9h4.1v8.5h-4.1zM1294.4 1033.4h4.1v8.5h-4.1zM1298.4 1024.9h4.1v8.5h-4.1zM1302.5 957h4.1v17h-4.1zM1302.5 1084.3h4.1v8.5h-4.1zM1302.5 1160.7h4.1v8.5h-4.1zM1306.6 982.4h4.1v8.5h-4.1zM1306.6 1007.9h4.1v8.5h-4.1zM1310.7 957h4.1v8.5h-4.1zM1318.8 1126.8h4.1v8.5h-4.1zM1322.9 965.4h4.1v8.5h-4.1zM1322.9 1007.9h4.1v8.5h-4.1zM1326.9 965.4h4.1v8.5h-4.1zM1331 948.5h4.1v8.5h-4.1zM1331 990.9h4.1v8.5h-4.1zM1331 1092.8h4.1v8.5h-4.1zM1335.1 990.9h4.1v8.5h-4.1zM1335.1 1033.4h4.1v8.5h-4.1zM1335.1 1092.8h4.1v8.5h-4.1zM1339.1 1033.4h4.1v8.5h-4.1zM1343.2 1024.9h4.1v8.5h-4.1zM1343.2 1109.8h4.1v8.5h-4.1zM1347.3 1041.9h4.1v8.5h-4.1zM1347.3 1058.8h4.1v8.5h-4.1zM1347.3 1092.8h4.1v8.5h-4.1zM1351.4 990.9h4.1v8.5h-4.1zM1351.4 1050.3h4.1v8.5h-4.1zM1359.5 973.9h4.1v8.5h-4.1zM1359.5 1075.8h4.1v8.5h-4.1zM1359.5 1109.8h4.1v8.5h-4.1zM1359.5 1135.2h4.1v17h-4.1zM1367.6 1016.4h4.1v8.5h-4.1zM1367.6 1126.8h4.1v8.5h-4.1z"/>
<path fill="#00bfff" d="M1200.8 1041.9h4.1v8.5h-4.1zM1204.8 1092.8h4.1v8.5h-4.1zM1204.8 1109.8h4.1v8.5h-4.1zM1213 1050.3h4.1v8.5h-4.1zM1221.1 1101.3h4.1v8.5h-4.1zM1229.2 982.4h4.1v17h-4.1zM1233.3 1024.9h4.1v8.5h-4.1zM1237.4 990.9h4.1v8.5h-4.1zM1237.4 1016.4h4.1v8.5h-4.1zM1237.4 1160.7h4.1v8.5h-4.1zM1241.5 1016.4h4.1v17h-4.1zM1245.5 990.9h4.1v8.5h-4.1zM1245.5 1007.9h4.1v8.5h-4.1zM1249.6 1135.2h4.1v8.5h-4.1zM1253.7 1016.4h4.1v17h-4.1zM1253.7 1101.3h4.1v8.5h-4.1zM1253.7 1152.2h4.1v8.5h-4.1zM1257.7 1016.4h4.1v8.5h-4.1zM1257.7 1084.3h4.1v8.5h-4.1zM1261.8 1007.9h4.1v8.5h-4.1zM1274 982.4h4.1v8.5h-4.1zM1278.1 957h4.1v8.5h-4.1zM1278.1 973.9h4.1v8.5h-4.1zM1278.1 1075.8h4.1v8.5h-4.1zM1282.2 990.9h4.1v8.5h-4.1zM1282.2 1016.4h4.1v8.5h-4.1zM1286.2 1058.8h4.1v8.5h-4.1zM1286.2 1118.3h4.1v8.5h-4.1zM1286.2 1135.2h4.1v8.5h-4.1zM1290.3 931.5h4.1v8.5h-4.1zM1290.3 990.9h4.1v8.5h-4.1zM1290.3 1041.9h4.1v8.5h-4.1zM1294.4 957h4.1v8.5h-4.1zM1294.4 1084.3h4.1v8.5h-4.1zM1302.5 1067.3h4.1v8.5h-4.1zM1302.5 1126.8h4.1v8.5h-4.1zM1310.7 965.4h4.1v8.5h-4.1zM1310.7 1007.9h4.1v17h-4.1zM1314.7 1016.4h4.1v8.5h-4.1zM1318.8 1092.8h4.1v8.5h-4.1zM1322.9 1067.3h4.1v8.5h-4.1zM1326.9 999.4h4.1v8.5h-4.1zM1326.9 1016.4h4.1v8.5h-4.1zM1339.1 999.4h4.1v8.5h-4.1zM1343.2 982.4h4.1v8.5h-4.1zM1343.2 1126.8h4.1v8.5h-4.1zM1347.3 1007.9h4.1v17h-4.1zM1347.3 1084.3h4.1v8.5h-4.1zM1355.4 990.9h4.1v8.5h-4.1zM1355.4 1067.3h4.1v8.5h-4.1zM1355.4 1101.3h4.1v8.5h-4.1zM1359.5 1016.4h4.1v8.5h-4.1zM1363.6 982.4h4.1v8.5h-4.1zM1363.6 1143.7h4.1v8.5h-4.1zM1367.6 1033.4h4.1v8.5h-4.1zM1367.6 1118.3h4.1v8.5h-4.1z"/>
<path fill="#00e5ff" d="M1213 1143.7h4.1v8.5h-4.1zM1221.1 965.4h4.1v8.5h-4.1zM1221.1 1041.9h4.1v8.5h-4.1zM1221.1 1160.7h4.1v8.5h-4.1zM1229.2 1067.3h4.1v8.5h-4.1zM1241.5 1118.3h4.1v8.5h-4.1zM1241.5 1143.7h4.1v8.5h-4.1zM1249.6 999.4h4.1v8.5h-4.1zM1249.6 1058.8h4.1v8.5h-4.1zM1249.6 1118.3h4.1v8.5h-4.1zM1253.7 1109.8h4.1v8.5h-4.1zM1257.7 1050.3h4.1v8.5h-4.1zM1261.8 1041.9h4.1v8.5h-4.1zM1261.8 1067.3h4.1v8.5h-4.1zM1265.9 1075.8h4.1v8.5h-4.1zM1278.1 1092.8h4.1v8.5h-4.1zM1282.2 999.4h4.1v8.5h-4.1zM1282.2 1033.4h4.1v8.5h-4.1zM1282.2 1109.8h4.1v8.5h-4.1zM1286.2 1075.8h4.1v8.5h-4.1zM1294.4 1126.8h4.1v8.5h-4.1zM1298.4 1067.3h4.1v8.5h-4.1zM1322.9 1092.8h4.1v8.5h-4.1zM1326.9 1050.3h4.1v8.5h-4.1zM1331 1109.8h4.1v8.5h-4.1zM1331 1152.2h4.1v8.5h-4.1zM1335.1 1067.3h4.1v8.5h-4.1zM1335.1 1135.2h4.1v8.5h-4.1zM1339.1 1041.9h4.1v8.5h-4.1zM1339.1 1143.7h4.1v8.5h-4.1zM1343.2 1118.3h4.1v8.5h-4.1zM1351.4 1126.8h4.1v8.5h-4.1zM1351.4 1160.7h4.1v8.5h-4.1zM1355.4 982.4h4.1v8.5h-4.1zM1355.4 1084.3h4.1v8.5h-4.1zM1355.4 1135.2h4.1v8.5h-4.1zM1359.5 999.4h4.1v8.5h-4.1zM1363.6 1050.3h4.1v8.5h-4.1zM1363.6 1075.8h4.1v8.5h-4.1zM1363.6 1118.3h4.1v8.5h-4.1z"/>
<path fill="#00ff19" d="M1217 1160.7h4.1v8.5h-4.1zM1241.5 1135.2h4.1v8.5h-4.1z"/>
<path fill="#00ff33" d="M1229.2 1160.7h4.1v8.5h-4.1z"/>
<path fill="#59ff00" d="M1245.5 1041.9h4.1v8.5h-4.1z"/>
<path fill="#00ff4d" d="M1290.3 1101.3h4.1v8.5h-4.1zM1290.3 1152.2h4.1v8.5h-4.1z"/>
<path fill="#00ff40" d="M1294.4 1067.3h4.1v8.5h-4.1z"/>
<path fill="#ff004d" d="M1013.5 999.4h4.1v8.5h-4.1zM1017.6 1058.8h4.1v8.5h-4.1zM1025.8 1101.3h4.1v8.5h-4.1z"/>
<path fill="#ff0066" d="M1021.7 1007.9h4.1v8.5h-4.1zM1029.8 1067.3h4.1v8.5h-4.1zM1033.9 1067.3h4.1v8.5h-4.1z"/>
<path fill="#ff0026" d="M1029.8 1109.8h4.1v8.5h-4.1z"/>
<rect x="1356" y="981" width="4.07" height="43" fill="#fff"/>
<rect x="1203.5" y="660" width="4.1" height="8.0" fill="#ff002b"/>
<rect x="1203.5" y="668" width="4.1" height="8.3" fill="#0080ff"/>
<rect x="1216" y="693" width="4.5" height="8.6" fill="#0015ff"/>
<rect x="1079.4" y="744" width="4.2" height="16.0" fill="#fff"/>
</g>
<text x="784.1" y="84.6" class="ttl" text-anchor="middle">Horizontal Wind Direction 2025-11-14 23-59 to 11-15 23-58</text>
<text x="784" y="1300.9" class="lb" text-anchor="middle">Time of Day (UTC00:00 hr)</text>
<text transform="translate(86.9,632) rotate(-90)" class="lb" text-anchor="middle">Distance (km)</text>
<rect x="1458" y="96.2" width="67" height="1072.3" fill="url(#hsv)" stroke="#262626" stroke-width="1.6"/>
<text x="1540.6" y="1182.1" class="cbt">0</text><line x1="1512.5" y1="989.8" x2="1525" y2="989.8" stroke="#262626" stroke-width="1.6"/><text x="1540.6" y="1003.4" class="cbt">60</text><line x1="1512.5" y1="811.1" x2="1525" y2="811.1" stroke="#262626" stroke-width="1.6"/><text x="1540.6" y="824.7" class="cbt">120</text><line x1="1512.5" y1="632.4" x2="1525" y2="632.4" stroke="#262626" stroke-width="1.6"/><text x="1540.6" y="646.0" class="cbt">180</text><line x1="1512.5" y1="453.6" x2="1525" y2="453.6" stroke="#262626" stroke-width="1.6"/><text x="1540.6" y="467.2" class="cbt">240</text><line x1="1512.5" y1="274.9" x2="1525" y2="274.9" stroke="#262626" stroke-width="1.6"/><text x="1540.6" y="288.5" class="cbt">300</text><text x="1540.6" y="109.8" class="cbt">360</text>
<text transform="translate(1657.8,633.7) rotate(-90)" class="cbl" text-anchor="middle">Wind Direction, Deg from True North</text>
</svg>
</body></html>
